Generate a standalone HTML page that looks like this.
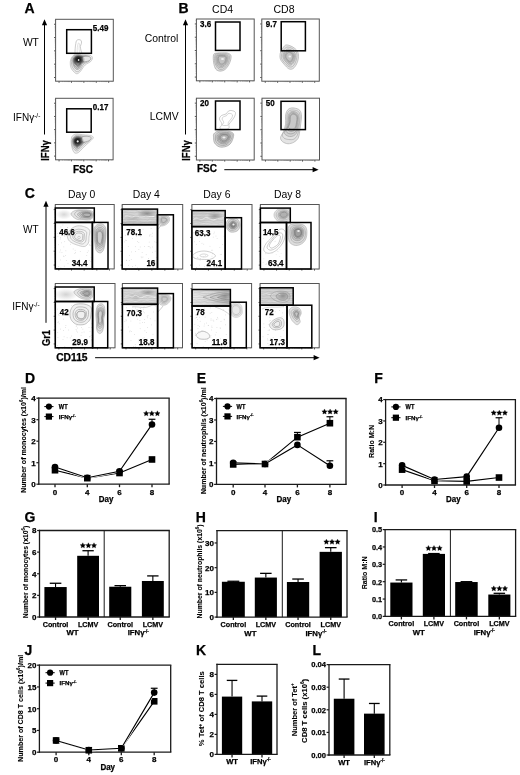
<!DOCTYPE html>
<html><head><meta charset="utf-8"><style>
html,body{margin:0;padding:0;background:#fff;}
body{width:520px;height:775px;overflow:hidden;}
svg{display:block;will-change:transform;}
svg text{font-family:"Liberation Sans",sans-serif;}
svg text[font-weight="bold"]{stroke:#000;stroke-width:0.25px;}
</style></head><body>
<svg width="520" height="775" viewBox="0 0 520 775">
<rect x="0" y="0" width="520" height="775" fill="#fff"/>
<text x="24.6" y="12.6" font-size="14" font-weight="bold" text-anchor="start" fill="#000">A</text>
<line x1="44.5" y1="24.2" x2="44.5" y2="134.5" stroke="#000" stroke-width="1"/>
<polygon points="44.5,19.2 41.9,25.2 47.1,25.2" fill="#000"/>
<text x="38.9" y="45.7" font-size="10.3" font-weight="normal" text-anchor="end" fill="#000">WT</text>
<text x="40.3" y="121.2" font-size="10" font-weight="normal" text-anchor="end" fill="#000">IFN&#947;<tspan font-size="6.5" dy="-3.6">-/-</tspan></text>
<text transform="translate(48.6,160.8) rotate(-90)" font-size="10" font-weight="bold" text-anchor="start" fill="#000" textLength="20.6" lengthAdjust="spacingAndGlyphs">IFN&#947;</text>
<line x1="54" y1="77.49" x2="55.6" y2="77.49" stroke="#444" stroke-width="0.9"/>
<line x1="54.7" y1="73.89" x2="55.6" y2="73.89" stroke="#999" stroke-width="0.5"/>
<line x1="54.7" y1="71.74" x2="55.6" y2="71.74" stroke="#999" stroke-width="0.5"/>
<line x1="54.7" y1="70.3" x2="55.6" y2="70.3" stroke="#999" stroke-width="0.5"/>
<line x1="54.7" y1="69.1" x2="55.6" y2="69.1" stroke="#999" stroke-width="0.5"/>
<line x1="54.7" y1="68.14" x2="55.6" y2="68.14" stroke="#999" stroke-width="0.5"/>
<line x1="54.7" y1="67.3" x2="55.6" y2="67.3" stroke="#999" stroke-width="0.5"/>
<line x1="54.7" y1="66.71" x2="55.6" y2="66.71" stroke="#999" stroke-width="0.5"/>
<line x1="54.7" y1="66.11" x2="55.6" y2="66.11" stroke="#999" stroke-width="0.5"/>
<line x1="54" y1="64.18" x2="55.6" y2="64.18" stroke="#444" stroke-width="0.9"/>
<line x1="54.7" y1="60.58" x2="55.6" y2="60.58" stroke="#999" stroke-width="0.5"/>
<line x1="54.7" y1="58.43" x2="55.6" y2="58.43" stroke="#999" stroke-width="0.5"/>
<line x1="54.7" y1="56.99" x2="55.6" y2="56.99" stroke="#999" stroke-width="0.5"/>
<line x1="54.7" y1="55.79" x2="55.6" y2="55.79" stroke="#999" stroke-width="0.5"/>
<line x1="54.7" y1="54.83" x2="55.6" y2="54.83" stroke="#999" stroke-width="0.5"/>
<line x1="54.7" y1="54" x2="55.6" y2="54" stroke="#999" stroke-width="0.5"/>
<line x1="54.7" y1="53.4" x2="55.6" y2="53.4" stroke="#999" stroke-width="0.5"/>
<line x1="54.7" y1="52.8" x2="55.6" y2="52.8" stroke="#999" stroke-width="0.5"/>
<line x1="54" y1="50.87" x2="55.6" y2="50.87" stroke="#444" stroke-width="0.9"/>
<line x1="54.7" y1="47.28" x2="55.6" y2="47.28" stroke="#999" stroke-width="0.5"/>
<line x1="54.7" y1="45.12" x2="55.6" y2="45.12" stroke="#999" stroke-width="0.5"/>
<line x1="54.7" y1="43.68" x2="55.6" y2="43.68" stroke="#999" stroke-width="0.5"/>
<line x1="54.7" y1="42.48" x2="55.6" y2="42.48" stroke="#999" stroke-width="0.5"/>
<line x1="54.7" y1="41.53" x2="55.6" y2="41.53" stroke="#999" stroke-width="0.5"/>
<line x1="54.7" y1="40.69" x2="55.6" y2="40.69" stroke="#999" stroke-width="0.5"/>
<line x1="54.7" y1="40.09" x2="55.6" y2="40.09" stroke="#999" stroke-width="0.5"/>
<line x1="54.7" y1="39.49" x2="55.6" y2="39.49" stroke="#999" stroke-width="0.5"/>
<line x1="54" y1="37.56" x2="55.6" y2="37.56" stroke="#444" stroke-width="0.9"/>
<line x1="54.7" y1="33.97" x2="55.6" y2="33.97" stroke="#999" stroke-width="0.5"/>
<line x1="54.7" y1="31.81" x2="55.6" y2="31.81" stroke="#999" stroke-width="0.5"/>
<line x1="54.7" y1="30.37" x2="55.6" y2="30.37" stroke="#999" stroke-width="0.5"/>
<line x1="54.7" y1="29.18" x2="55.6" y2="29.18" stroke="#999" stroke-width="0.5"/>
<line x1="54.7" y1="28.22" x2="55.6" y2="28.22" stroke="#999" stroke-width="0.5"/>
<line x1="54.7" y1="27.38" x2="55.6" y2="27.38" stroke="#999" stroke-width="0.5"/>
<line x1="54.7" y1="26.78" x2="55.6" y2="26.78" stroke="#999" stroke-width="0.5"/>
<line x1="54.7" y1="26.18" x2="55.6" y2="26.18" stroke="#999" stroke-width="0.5"/>
<line x1="54" y1="24.25" x2="55.6" y2="24.25" stroke="#444" stroke-width="0.9"/>
<line x1="54.7" y1="20.66" x2="55.6" y2="20.66" stroke="#999" stroke-width="0.5"/>
<line x1="59.06" y1="81.2" x2="59.06" y2="82.8" stroke="#444" stroke-width="0.9"/>
<line x1="62.41" y1="81.2" x2="62.41" y2="82.1" stroke="#999" stroke-width="0.5"/>
<line x1="64.42" y1="81.2" x2="64.42" y2="82.1" stroke="#999" stroke-width="0.5"/>
<line x1="65.76" y1="81.2" x2="65.76" y2="82.1" stroke="#999" stroke-width="0.5"/>
<line x1="66.88" y1="81.2" x2="66.88" y2="82.1" stroke="#999" stroke-width="0.5"/>
<line x1="67.77" y1="81.2" x2="67.77" y2="82.1" stroke="#999" stroke-width="0.5"/>
<line x1="68.55" y1="81.2" x2="68.55" y2="82.1" stroke="#999" stroke-width="0.5"/>
<line x1="69.11" y1="81.2" x2="69.11" y2="82.1" stroke="#999" stroke-width="0.5"/>
<line x1="69.67" y1="81.2" x2="69.67" y2="82.1" stroke="#999" stroke-width="0.5"/>
<line x1="71.47" y1="81.2" x2="71.47" y2="82.8" stroke="#444" stroke-width="0.9"/>
<line x1="74.82" y1="81.2" x2="74.82" y2="82.1" stroke="#999" stroke-width="0.5"/>
<line x1="76.83" y1="81.2" x2="76.83" y2="82.1" stroke="#999" stroke-width="0.5"/>
<line x1="78.17" y1="81.2" x2="78.17" y2="82.1" stroke="#999" stroke-width="0.5"/>
<line x1="79.28" y1="81.2" x2="79.28" y2="82.1" stroke="#999" stroke-width="0.5"/>
<line x1="80.18" y1="81.2" x2="80.18" y2="82.1" stroke="#999" stroke-width="0.5"/>
<line x1="80.96" y1="81.2" x2="80.96" y2="82.1" stroke="#999" stroke-width="0.5"/>
<line x1="81.52" y1="81.2" x2="81.52" y2="82.1" stroke="#999" stroke-width="0.5"/>
<line x1="82.07" y1="81.2" x2="82.07" y2="82.1" stroke="#999" stroke-width="0.5"/>
<line x1="83.87" y1="81.2" x2="83.87" y2="82.8" stroke="#444" stroke-width="0.9"/>
<line x1="87.22" y1="81.2" x2="87.22" y2="82.1" stroke="#999" stroke-width="0.5"/>
<line x1="89.23" y1="81.2" x2="89.23" y2="82.1" stroke="#999" stroke-width="0.5"/>
<line x1="90.57" y1="81.2" x2="90.57" y2="82.1" stroke="#999" stroke-width="0.5"/>
<line x1="91.69" y1="81.2" x2="91.69" y2="82.1" stroke="#999" stroke-width="0.5"/>
<line x1="92.58" y1="81.2" x2="92.58" y2="82.1" stroke="#999" stroke-width="0.5"/>
<line x1="93.36" y1="81.2" x2="93.36" y2="82.1" stroke="#999" stroke-width="0.5"/>
<line x1="93.92" y1="81.2" x2="93.92" y2="82.1" stroke="#999" stroke-width="0.5"/>
<line x1="94.48" y1="81.2" x2="94.48" y2="82.1" stroke="#999" stroke-width="0.5"/>
<line x1="96.28" y1="81.2" x2="96.28" y2="82.8" stroke="#444" stroke-width="0.9"/>
<line x1="99.63" y1="81.2" x2="99.63" y2="82.1" stroke="#999" stroke-width="0.5"/>
<line x1="101.64" y1="81.2" x2="101.64" y2="82.1" stroke="#999" stroke-width="0.5"/>
<line x1="102.98" y1="81.2" x2="102.98" y2="82.1" stroke="#999" stroke-width="0.5"/>
<line x1="104.09" y1="81.2" x2="104.09" y2="82.1" stroke="#999" stroke-width="0.5"/>
<line x1="104.99" y1="81.2" x2="104.99" y2="82.1" stroke="#999" stroke-width="0.5"/>
<line x1="105.77" y1="81.2" x2="105.77" y2="82.1" stroke="#999" stroke-width="0.5"/>
<line x1="106.33" y1="81.2" x2="106.33" y2="82.1" stroke="#999" stroke-width="0.5"/>
<line x1="106.89" y1="81.2" x2="106.89" y2="82.1" stroke="#999" stroke-width="0.5"/>
<line x1="108.68" y1="81.2" x2="108.68" y2="82.8" stroke="#444" stroke-width="0.9"/>
<line x1="112.03" y1="81.2" x2="112.03" y2="82.1" stroke="#999" stroke-width="0.5"/>
<rect x="55.6" y="19.3" width="57.7" height="61.9" stroke="#555" stroke-width="1" fill="none"/>
<line x1="54" y1="156.11" x2="55.6" y2="156.11" stroke="#444" stroke-width="0.9"/>
<line x1="54.7" y1="152.54" x2="55.6" y2="152.54" stroke="#999" stroke-width="0.5"/>
<line x1="54.7" y1="150.4" x2="55.6" y2="150.4" stroke="#999" stroke-width="0.5"/>
<line x1="54.7" y1="148.97" x2="55.6" y2="148.97" stroke="#999" stroke-width="0.5"/>
<line x1="54.7" y1="147.78" x2="55.6" y2="147.78" stroke="#999" stroke-width="0.5"/>
<line x1="54.7" y1="146.83" x2="55.6" y2="146.83" stroke="#999" stroke-width="0.5"/>
<line x1="54.7" y1="145.99" x2="55.6" y2="145.99" stroke="#999" stroke-width="0.5"/>
<line x1="54.7" y1="145.4" x2="55.6" y2="145.4" stroke="#999" stroke-width="0.5"/>
<line x1="54.7" y1="144.8" x2="55.6" y2="144.8" stroke="#999" stroke-width="0.5"/>
<line x1="54" y1="142.89" x2="55.6" y2="142.89" stroke="#444" stroke-width="0.9"/>
<line x1="54.7" y1="139.32" x2="55.6" y2="139.32" stroke="#999" stroke-width="0.5"/>
<line x1="54.7" y1="137.18" x2="55.6" y2="137.18" stroke="#999" stroke-width="0.5"/>
<line x1="54.7" y1="135.75" x2="55.6" y2="135.75" stroke="#999" stroke-width="0.5"/>
<line x1="54.7" y1="134.56" x2="55.6" y2="134.56" stroke="#999" stroke-width="0.5"/>
<line x1="54.7" y1="133.61" x2="55.6" y2="133.61" stroke="#999" stroke-width="0.5"/>
<line x1="54.7" y1="132.77" x2="55.6" y2="132.77" stroke="#999" stroke-width="0.5"/>
<line x1="54.7" y1="132.18" x2="55.6" y2="132.18" stroke="#999" stroke-width="0.5"/>
<line x1="54.7" y1="131.58" x2="55.6" y2="131.58" stroke="#999" stroke-width="0.5"/>
<line x1="54" y1="129.67" x2="55.6" y2="129.67" stroke="#444" stroke-width="0.9"/>
<line x1="54.7" y1="126.09" x2="55.6" y2="126.09" stroke="#999" stroke-width="0.5"/>
<line x1="54.7" y1="123.95" x2="55.6" y2="123.95" stroke="#999" stroke-width="0.5"/>
<line x1="54.7" y1="122.52" x2="55.6" y2="122.52" stroke="#999" stroke-width="0.5"/>
<line x1="54.7" y1="121.33" x2="55.6" y2="121.33" stroke="#999" stroke-width="0.5"/>
<line x1="54.7" y1="120.38" x2="55.6" y2="120.38" stroke="#999" stroke-width="0.5"/>
<line x1="54.7" y1="119.55" x2="55.6" y2="119.55" stroke="#999" stroke-width="0.5"/>
<line x1="54.7" y1="118.95" x2="55.6" y2="118.95" stroke="#999" stroke-width="0.5"/>
<line x1="54.7" y1="118.36" x2="55.6" y2="118.36" stroke="#999" stroke-width="0.5"/>
<line x1="54" y1="116.44" x2="55.6" y2="116.44" stroke="#444" stroke-width="0.9"/>
<line x1="54.7" y1="112.87" x2="55.6" y2="112.87" stroke="#999" stroke-width="0.5"/>
<line x1="54.7" y1="110.73" x2="55.6" y2="110.73" stroke="#999" stroke-width="0.5"/>
<line x1="54.7" y1="109.3" x2="55.6" y2="109.3" stroke="#999" stroke-width="0.5"/>
<line x1="54.7" y1="108.11" x2="55.6" y2="108.11" stroke="#999" stroke-width="0.5"/>
<line x1="54.7" y1="107.16" x2="55.6" y2="107.16" stroke="#999" stroke-width="0.5"/>
<line x1="54.7" y1="106.33" x2="55.6" y2="106.33" stroke="#999" stroke-width="0.5"/>
<line x1="54.7" y1="105.73" x2="55.6" y2="105.73" stroke="#999" stroke-width="0.5"/>
<line x1="54.7" y1="105.14" x2="55.6" y2="105.14" stroke="#999" stroke-width="0.5"/>
<line x1="54" y1="103.22" x2="55.6" y2="103.22" stroke="#444" stroke-width="0.9"/>
<line x1="54.7" y1="99.65" x2="55.6" y2="99.65" stroke="#999" stroke-width="0.5"/>
<line x1="59.05" y1="159.8" x2="59.05" y2="161.4" stroke="#444" stroke-width="0.9"/>
<line x1="62.39" y1="159.8" x2="62.39" y2="160.7" stroke="#999" stroke-width="0.5"/>
<line x1="64.39" y1="159.8" x2="64.39" y2="160.7" stroke="#999" stroke-width="0.5"/>
<line x1="65.73" y1="159.8" x2="65.73" y2="160.7" stroke="#999" stroke-width="0.5"/>
<line x1="66.84" y1="159.8" x2="66.84" y2="160.7" stroke="#999" stroke-width="0.5"/>
<line x1="67.73" y1="159.8" x2="67.73" y2="160.7" stroke="#999" stroke-width="0.5"/>
<line x1="68.51" y1="159.8" x2="68.51" y2="160.7" stroke="#999" stroke-width="0.5"/>
<line x1="69.06" y1="159.8" x2="69.06" y2="160.7" stroke="#999" stroke-width="0.5"/>
<line x1="69.62" y1="159.8" x2="69.62" y2="160.7" stroke="#999" stroke-width="0.5"/>
<line x1="71.41" y1="159.8" x2="71.41" y2="161.4" stroke="#444" stroke-width="0.9"/>
<line x1="74.75" y1="159.8" x2="74.75" y2="160.7" stroke="#999" stroke-width="0.5"/>
<line x1="76.75" y1="159.8" x2="76.75" y2="160.7" stroke="#999" stroke-width="0.5"/>
<line x1="78.09" y1="159.8" x2="78.09" y2="160.7" stroke="#999" stroke-width="0.5"/>
<line x1="79.2" y1="159.8" x2="79.2" y2="160.7" stroke="#999" stroke-width="0.5"/>
<line x1="80.09" y1="159.8" x2="80.09" y2="160.7" stroke="#999" stroke-width="0.5"/>
<line x1="80.87" y1="159.8" x2="80.87" y2="160.7" stroke="#999" stroke-width="0.5"/>
<line x1="81.43" y1="159.8" x2="81.43" y2="160.7" stroke="#999" stroke-width="0.5"/>
<line x1="81.98" y1="159.8" x2="81.98" y2="160.7" stroke="#999" stroke-width="0.5"/>
<line x1="83.78" y1="159.8" x2="83.78" y2="161.4" stroke="#444" stroke-width="0.9"/>
<line x1="87.11" y1="159.8" x2="87.11" y2="160.7" stroke="#999" stroke-width="0.5"/>
<line x1="89.12" y1="159.8" x2="89.12" y2="160.7" stroke="#999" stroke-width="0.5"/>
<line x1="90.45" y1="159.8" x2="90.45" y2="160.7" stroke="#999" stroke-width="0.5"/>
<line x1="91.56" y1="159.8" x2="91.56" y2="160.7" stroke="#999" stroke-width="0.5"/>
<line x1="92.45" y1="159.8" x2="92.45" y2="160.7" stroke="#999" stroke-width="0.5"/>
<line x1="93.23" y1="159.8" x2="93.23" y2="160.7" stroke="#999" stroke-width="0.5"/>
<line x1="93.79" y1="159.8" x2="93.79" y2="160.7" stroke="#999" stroke-width="0.5"/>
<line x1="94.34" y1="159.8" x2="94.34" y2="160.7" stroke="#999" stroke-width="0.5"/>
<line x1="96.14" y1="159.8" x2="96.14" y2="161.4" stroke="#444" stroke-width="0.9"/>
<line x1="99.48" y1="159.8" x2="99.48" y2="160.7" stroke="#999" stroke-width="0.5"/>
<line x1="101.48" y1="159.8" x2="101.48" y2="160.7" stroke="#999" stroke-width="0.5"/>
<line x1="102.81" y1="159.8" x2="102.81" y2="160.7" stroke="#999" stroke-width="0.5"/>
<line x1="103.93" y1="159.8" x2="103.93" y2="160.7" stroke="#999" stroke-width="0.5"/>
<line x1="104.82" y1="159.8" x2="104.82" y2="160.7" stroke="#999" stroke-width="0.5"/>
<line x1="105.59" y1="159.8" x2="105.59" y2="160.7" stroke="#999" stroke-width="0.5"/>
<line x1="106.15" y1="159.8" x2="106.15" y2="160.7" stroke="#999" stroke-width="0.5"/>
<line x1="106.71" y1="159.8" x2="106.71" y2="160.7" stroke="#999" stroke-width="0.5"/>
<line x1="108.5" y1="159.8" x2="108.5" y2="161.4" stroke="#444" stroke-width="0.9"/>
<line x1="111.84" y1="159.8" x2="111.84" y2="160.7" stroke="#999" stroke-width="0.5"/>
<rect x="55.6" y="98.3" width="57.5" height="61.5" stroke="#555" stroke-width="1" fill="none"/>
<path d="M75.6,53.5 C74.58,52.67 75.17,50.17 75.2,48.5 C75.23,46.83 75.57,44.82 75.8,43.5 C76.03,42.18 76.1,41.25 76.6,40.6 C77.1,39.95 78.03,39.6 78.8,39.6 C79.57,39.6 80.77,39.95 81.2,40.6 C81.63,41.25 81.55,42.52 81.4,43.5 C81.25,44.48 80.37,45.33 80.3,46.5 C80.23,47.67 80.83,49.33 81,50.5 C81.17,51.67 82.2,53 81.3,53.5 C80.4,54 76.62,54.33 75.6,53.5Z" stroke="#a8a8a8" stroke-width="0.6" fill="none"/>
<path d="M77.2,53 C77,49 77.5,45 78.3,43 C79.3,42.5 79.8,44 79.2,46.5 C78.8,49 79.4,51 79.6,53" stroke="#c8c8c8" stroke-width="0.5" fill="none"/>
<path d="M71.77,57.27 C72.61,55.99 73.66,54.77 75.23,54.35 C76.81,53.93 79.39,54.65 81.2,54.74 C83.01,54.83 84.54,54.76 86.1,54.88 C87.66,55.01 89.51,54.95 90.56,55.46 C91.62,55.98 92.42,57 92.45,58 C92.48,58.99 91.73,60.45 90.76,61.44 C89.79,62.42 87.8,63.05 86.63,63.9 C85.47,64.75 84.8,65.28 83.77,66.53 C82.74,67.77 81.56,70.16 80.47,71.36 C79.38,72.56 78.22,73.54 77.22,73.72 C76.22,73.89 75.49,73.3 74.48,72.39 C73.46,71.48 71.84,69.96 71.13,68.24 C70.42,66.51 70.11,63.86 70.22,62.04 C70.32,60.21 70.94,58.55 71.77,57.27Z" fill="#eeeeee" fill-opacity="1" stroke="none"/>
<path d="M73.64,57.69 C74.24,56.84 75.21,56.48 76.32,56.19 C77.42,55.91 79.05,56.01 80.26,56.01 C81.47,56.02 82.46,56.15 83.58,56.22 C84.7,56.3 86.16,56.07 86.96,56.44 C87.76,56.81 88.34,57.73 88.39,58.46 C88.44,59.19 87.95,60.14 87.26,60.8 C86.57,61.47 85.13,61.85 84.24,62.45 C83.36,63.06 82.66,63.5 81.94,64.42 C81.21,65.34 80.6,67.12 79.88,67.98 C79.16,68.84 78.34,69.44 77.62,69.58 C76.9,69.72 76.31,69.55 75.59,68.83 C74.87,68.12 73.79,66.54 73.31,65.29 C72.82,64.04 72.63,62.6 72.68,61.33 C72.74,60.07 73.03,58.55 73.64,57.69Z" fill="#cdcdcd" fill-opacity="0.9" stroke="none"/>
<path d="M74.82,58.17 C75.23,57.56 76.04,57.01 76.87,56.79 C77.7,56.56 78.94,56.77 79.79,56.82 C80.64,56.87 81.22,56.98 81.99,57.08 C82.76,57.17 83.87,57.13 84.41,57.39 C84.94,57.66 85.21,58.17 85.2,58.67 C85.2,59.16 84.84,59.87 84.38,60.34 C83.92,60.81 83.02,61.04 82.46,61.48 C81.9,61.91 81.5,62.27 81.01,62.92 C80.51,63.58 80.02,64.8 79.5,65.4 C78.98,65.99 78.4,66.44 77.89,66.5 C77.38,66.56 77,66.27 76.45,65.78 C75.91,65.29 74.99,64.46 74.64,63.58 C74.3,62.7 74.35,61.4 74.38,60.5 C74.41,59.59 74.4,58.79 74.82,58.17Z" fill="#a0a0a0" fill-opacity="0.9" stroke="none"/>
<path d="M71.77,57.27 C72.61,55.99 73.66,54.77 75.23,54.35 C76.81,53.93 79.39,54.65 81.2,54.74 C83.01,54.83 84.54,54.76 86.1,54.88 C87.66,55.01 89.51,54.95 90.56,55.46 C91.62,55.98 92.42,57 92.45,58 C92.48,58.99 91.73,60.45 90.76,61.44 C89.79,62.42 87.8,63.05 86.63,63.9 C85.47,64.75 84.8,65.28 83.77,66.53 C82.74,67.77 81.56,70.16 80.47,71.36 C79.38,72.56 78.22,73.54 77.22,73.72 C76.22,73.89 75.49,73.3 74.48,72.39 C73.46,71.48 71.84,69.96 71.13,68.24 C70.42,66.51 70.11,63.86 70.22,62.04 C70.32,60.21 70.94,58.55 71.77,57.27Z" fill="none" stroke="#afafaf" stroke-width="0.6"/>
<path d="M72.43,57.16 C73.17,56.06 74.48,55.46 75.83,55.2 C77.18,54.95 79.05,55.58 80.55,55.64 C82.04,55.7 83.47,55.46 84.83,55.56 C86.19,55.65 87.82,55.7 88.72,56.21 C89.62,56.71 90.2,57.76 90.23,58.61 C90.27,59.47 89.76,60.56 88.9,61.33 C88.05,62.09 86.09,62.54 85.09,63.19 C84.08,63.83 83.68,64.13 82.87,65.21 C82.07,66.29 81.13,68.61 80.25,69.69 C79.37,70.77 78.44,71.54 77.58,71.7 C76.72,71.85 75.95,71.45 75.07,70.63 C74.2,69.82 72.92,68.28 72.31,66.81 C71.69,65.33 71.37,63.4 71.39,61.79 C71.41,60.19 71.69,58.26 72.43,57.16Z" fill="none" stroke="#9e9e9e" stroke-width="0.6"/>
<path d="M73.64,57.69 C74.24,56.84 75.21,56.48 76.32,56.19 C77.42,55.91 79.05,56.01 80.26,56.01 C81.47,56.02 82.46,56.15 83.58,56.22 C84.7,56.3 86.16,56.07 86.96,56.44 C87.76,56.81 88.34,57.73 88.39,58.46 C88.44,59.19 87.95,60.14 87.26,60.8 C86.57,61.47 85.13,61.85 84.24,62.45 C83.36,63.06 82.66,63.5 81.94,64.42 C81.21,65.34 80.6,67.12 79.88,67.98 C79.16,68.84 78.34,69.44 77.62,69.58 C76.9,69.72 76.31,69.55 75.59,68.83 C74.87,68.12 73.79,66.54 73.31,65.29 C72.82,64.04 72.63,62.6 72.68,61.33 C72.74,60.07 73.03,58.55 73.64,57.69Z" fill="none" stroke="#8d8d8d" stroke-width="0.6"/>
<path d="M74.39,57.84 C74.91,57.1 75.78,56.6 76.7,56.37 C77.62,56.13 78.92,56.35 79.93,56.44 C80.94,56.53 81.83,56.8 82.74,56.89 C83.65,56.99 84.7,56.73 85.37,57.01 C86.03,57.28 86.72,57.94 86.76,58.57 C86.79,59.19 86.19,60.19 85.58,60.75 C84.97,61.31 83.84,61.47 83.11,61.93 C82.38,62.4 81.8,62.75 81.19,63.53 C80.58,64.31 80.05,65.83 79.46,66.6 C78.87,67.38 78.25,68.08 77.65,68.18 C77.05,68.29 76.48,67.85 75.85,67.21 C75.23,66.58 74.27,65.45 73.9,64.38 C73.52,63.31 73.5,61.88 73.58,60.79 C73.67,59.7 73.87,58.57 74.39,57.84Z" fill="none" stroke="#7c7c7c" stroke-width="0.6"/>
<path d="M74.82,58.17 C75.23,57.56 76.04,57.01 76.87,56.79 C77.7,56.56 78.94,56.77 79.79,56.82 C80.64,56.87 81.22,56.98 81.99,57.08 C82.76,57.17 83.87,57.13 84.41,57.39 C84.94,57.66 85.21,58.17 85.2,58.67 C85.2,59.16 84.84,59.87 84.38,60.34 C83.92,60.81 83.02,61.04 82.46,61.48 C81.9,61.91 81.5,62.27 81.01,62.92 C80.51,63.58 80.02,64.8 79.5,65.4 C78.98,65.99 78.4,66.44 77.89,66.5 C77.38,66.56 77,66.27 76.45,65.78 C75.91,65.29 74.99,64.46 74.64,63.58 C74.3,62.7 74.35,61.4 74.38,60.5 C74.41,59.59 74.4,58.79 74.82,58.17Z" fill="none" stroke="#6b6b6b" stroke-width="0.6"/>
<path d="M75.51,58.21 C75.87,57.69 76.49,57.32 77.17,57.14 C77.85,56.97 78.84,57.13 79.58,57.17 C80.31,57.21 80.96,57.31 81.58,57.38 C82.2,57.45 82.89,57.37 83.32,57.58 C83.74,57.79 84.12,58.22 84.14,58.63 C84.16,59.04 83.86,59.63 83.45,60.03 C83.03,60.43 82.15,60.65 81.66,61.03 C81.17,61.41 80.89,61.76 80.51,62.33 C80.13,62.9 79.79,63.92 79.36,64.42 C78.93,64.92 78.38,65.28 77.93,65.33 C77.49,65.38 77.11,65.14 76.68,64.74 C76.26,64.34 75.68,63.66 75.4,62.91 C75.12,62.17 74.98,61.05 75,60.27 C75.02,59.48 75.15,58.73 75.51,58.21Z" fill="none" stroke="#5a5a5a" stroke-width="0.6"/>
<path d="M82.5,57.3 C83,56.43 85.22,56.32 86.5,56.3 C87.78,56.28 89.53,56.67 90.2,57.2 C90.87,57.73 90.95,58.82 90.5,59.5 C90.05,60.18 88.67,60.97 87.5,61.3 C86.33,61.63 84.33,62.17 83.5,61.5 C82.67,60.83 82,58.17 82.5,57.3Z" stroke="#8a8a8a" stroke-width="0.6" fill="#e6e6e6"/>
<radialGradient id="g1"><stop offset="0" stop-color="#141414" stop-opacity="1"/><stop offset="1" stop-color="#141414" stop-opacity="0"/></radialGradient><ellipse cx="78.4" cy="59.6" rx="6.8" ry="5.8" transform="rotate(0 78.4 59.6)" fill="url(#g1)"/>
<radialGradient id="g2"><stop offset="0" stop-color="#000000" stop-opacity="0.95"/><stop offset="1" stop-color="#000000" stop-opacity="0"/></radialGradient><ellipse cx="78.4" cy="59.6" rx="4.2" ry="3.8" transform="rotate(0 78.4 59.6)" fill="url(#g2)"/>
<circle cx="78.6" cy="60.0" r="0.9" fill="#e0e0e0"/>
<path d="M71.84,136.76 C72.54,135.32 74.12,134.5 75.44,134.09 C76.75,133.69 78.1,134.19 79.74,134.34 C81.38,134.49 83.43,134.8 85.25,134.98 C87.07,135.16 89.31,135 90.66,135.43 C92,135.86 93.3,136.68 93.32,137.57 C93.35,138.45 91.97,139.57 90.8,140.76 C89.64,141.96 87.76,143.44 86.33,144.76 C84.89,146.08 83.47,147.42 82.2,148.68 C80.92,149.94 79.9,151.58 78.68,152.32 C77.46,153.05 75.93,153.59 74.89,153.08 C73.85,152.56 73.05,150.93 72.44,149.21 C71.83,147.49 71.33,144.83 71.23,142.75 C71.13,140.68 71.14,138.21 71.84,136.76Z" fill="#eeeeee" fill-opacity="1" stroke="none"/>
<path d="M73.86,138.31 C74.37,137.29 75.53,136.74 76.42,136.44 C77.31,136.14 78.17,136.45 79.21,136.51 C80.25,136.57 81.49,136.64 82.66,136.81 C83.83,136.98 85.34,137.19 86.25,137.53 C87.16,137.88 88.02,138.31 88.12,138.87 C88.21,139.43 87.59,140.16 86.81,140.9 C86.03,141.64 84.46,142.43 83.44,143.31 C82.42,144.18 81.58,145.25 80.7,146.16 C79.81,147.06 78.96,148.24 78.13,148.73 C77.31,149.22 76.46,149.49 75.75,149.12 C75.05,148.75 74.28,147.61 73.88,146.52 C73.48,145.44 73.36,143.96 73.35,142.59 C73.35,141.23 73.34,139.34 73.86,138.31Z" fill="#c8c8c8" fill-opacity="0.9" stroke="none"/>
<path d="M75.04,139.18 C75.38,138.52 75.96,138.18 76.58,137.99 C77.21,137.8 78.07,137.98 78.79,138.03 C79.5,138.08 80.1,138.18 80.88,138.3 C81.65,138.43 82.79,138.58 83.42,138.8 C84.05,139.02 84.59,139.25 84.65,139.63 C84.71,140.01 84.26,140.57 83.79,141.08 C83.31,141.6 82.51,142.12 81.81,142.69 C81.11,143.25 80.22,143.88 79.57,144.48 C78.93,145.08 78.46,145.93 77.94,146.29 C77.41,146.65 76.84,146.9 76.41,146.64 C75.98,146.38 75.66,145.51 75.35,144.73 C75.04,143.94 74.59,142.87 74.54,141.95 C74.49,141.02 74.7,139.84 75.04,139.18Z" fill="#969696" fill-opacity="0.9" stroke="none"/>
<path d="M71.84,136.76 C72.54,135.32 74.12,134.5 75.44,134.09 C76.75,133.69 78.1,134.19 79.74,134.34 C81.38,134.49 83.43,134.8 85.25,134.98 C87.07,135.16 89.31,135 90.66,135.43 C92,135.86 93.3,136.68 93.32,137.57 C93.35,138.45 91.97,139.57 90.8,140.76 C89.64,141.96 87.76,143.44 86.33,144.76 C84.89,146.08 83.47,147.42 82.2,148.68 C80.92,149.94 79.9,151.58 78.68,152.32 C77.46,153.05 75.93,153.59 74.89,153.08 C73.85,152.56 73.05,150.93 72.44,149.21 C71.83,147.49 71.33,144.83 71.23,142.75 C71.13,140.68 71.14,138.21 71.84,136.76Z" fill="none" stroke="#afafaf" stroke-width="0.6"/>
<path d="M73.08,137.84 C73.71,136.62 74.82,135.79 75.9,135.38 C76.98,134.98 78.24,135.3 79.57,135.42 C80.91,135.55 82.46,135.95 83.9,136.13 C85.34,136.31 87.09,136.14 88.22,136.51 C89.35,136.88 90.6,137.58 90.69,138.37 C90.79,139.15 89.76,140.29 88.79,141.21 C87.83,142.12 86.17,142.87 84.92,143.86 C83.67,144.85 82.4,146.07 81.27,147.15 C80.15,148.24 79.13,149.79 78.19,150.37 C77.25,150.95 76.5,151.1 75.64,150.65 C74.78,150.2 73.64,148.98 73.05,147.66 C72.46,146.33 72.09,144.33 72.1,142.69 C72.1,141.06 72.44,139.06 73.08,137.84Z" fill="none" stroke="#9e9e9e" stroke-width="0.6"/>
<path d="M73.86,138.31 C74.37,137.29 75.53,136.74 76.42,136.44 C77.31,136.14 78.17,136.45 79.21,136.51 C80.25,136.57 81.49,136.64 82.66,136.81 C83.83,136.98 85.34,137.19 86.25,137.53 C87.16,137.88 88.02,138.31 88.12,138.87 C88.21,139.43 87.59,140.16 86.81,140.9 C86.03,141.64 84.46,142.43 83.44,143.31 C82.42,144.18 81.58,145.25 80.7,146.16 C79.81,147.06 78.96,148.24 78.13,148.73 C77.31,149.22 76.46,149.49 75.75,149.12 C75.05,148.75 74.28,147.61 73.88,146.52 C73.48,145.44 73.36,143.96 73.35,142.59 C73.35,141.23 73.34,139.34 73.86,138.31Z" fill="none" stroke="#8d8d8d" stroke-width="0.6"/>
<path d="M74.63,139.04 C75,138.23 75.58,137.57 76.33,137.33 C77.08,137.08 78.23,137.46 79.12,137.54 C80.02,137.62 80.75,137.71 81.7,137.82 C82.64,137.93 84.04,137.99 84.8,138.22 C85.55,138.44 86.2,138.71 86.23,139.17 C86.27,139.63 85.63,140.3 85.01,140.97 C84.39,141.64 83.35,142.49 82.51,143.17 C81.68,143.85 80.77,144.37 80.02,145.06 C79.26,145.75 78.61,146.89 77.99,147.32 C77.37,147.75 76.86,147.99 76.31,147.66 C75.75,147.34 75.01,146.28 74.65,145.37 C74.3,144.45 74.17,143.22 74.17,142.17 C74.16,141.11 74.27,139.84 74.63,139.04Z" fill="none" stroke="#7c7c7c" stroke-width="0.6"/>
<path d="M75.04,139.18 C75.38,138.52 75.96,138.18 76.58,137.99 C77.21,137.8 78.07,137.98 78.79,138.03 C79.5,138.08 80.1,138.18 80.88,138.3 C81.65,138.43 82.79,138.58 83.42,138.8 C84.05,139.02 84.59,139.25 84.65,139.63 C84.71,140.01 84.26,140.57 83.79,141.08 C83.31,141.6 82.51,142.12 81.81,142.69 C81.11,143.25 80.22,143.88 79.57,144.48 C78.93,145.08 78.46,145.93 77.94,146.29 C77.41,146.65 76.84,146.9 76.41,146.64 C75.98,146.38 75.66,145.51 75.35,144.73 C75.04,143.94 74.59,142.87 74.54,141.95 C74.49,141.02 74.7,139.84 75.04,139.18Z" fill="none" stroke="#6b6b6b" stroke-width="0.6"/>
<path d="M75.53,139.58 C75.79,139.05 76.33,138.89 76.82,138.72 C77.32,138.56 77.86,138.56 78.47,138.58 C79.09,138.6 79.82,138.75 80.5,138.84 C81.18,138.93 82.04,138.92 82.55,139.1 C83.07,139.28 83.55,139.59 83.57,139.94 C83.6,140.28 83.13,140.78 82.7,141.18 C82.26,141.58 81.54,141.86 80.96,142.33 C80.38,142.8 79.71,143.46 79.23,143.99 C78.75,144.51 78.51,145.21 78.09,145.48 C77.66,145.75 77.05,145.84 76.66,145.61 C76.28,145.38 75.99,144.75 75.76,144.12 C75.54,143.5 75.33,142.63 75.29,141.87 C75.25,141.12 75.27,140.1 75.53,139.58Z" fill="none" stroke="#5a5a5a" stroke-width="0.6"/>
<path d="M82,137.2 C82.67,136.33 85,136.3 86.5,136.3 C88,136.3 90.38,136.62 91,137.2 C91.62,137.78 91.03,139.03 90.2,139.8 C89.37,140.57 87.28,141.52 86,141.8 C84.72,142.08 83.17,142.27 82.5,141.5 C81.83,140.73 81.33,138.07 82,137.2Z" stroke="#8a8a8a" stroke-width="0.55" fill="#e2e2e2"/>
<radialGradient id="g3"><stop offset="0" stop-color="#141414" stop-opacity="1"/><stop offset="1" stop-color="#141414" stop-opacity="0"/></radialGradient><ellipse cx="77.6" cy="141.2" rx="6.6" ry="6" transform="rotate(0 77.6 141.2)" fill="url(#g3)"/>
<radialGradient id="g4"><stop offset="0" stop-color="#000000" stop-opacity="0.9"/><stop offset="1" stop-color="#000000" stop-opacity="0"/></radialGradient><ellipse cx="77.6" cy="141.2" rx="4" ry="3.8" transform="rotate(0 77.6 141.2)" fill="url(#g4)"/>
<circle cx="77.7" cy="141.4" r="1.1" fill="#e8e8e8"/>
<rect x="66.7" y="29.7" width="24.7" height="23.6" stroke="#000" stroke-width="1.5" fill="none"/>
<rect x="66.7" y="108.8" width="24.5" height="23.4" stroke="#000" stroke-width="1.5" fill="none"/>
<text x="92.8" y="31.4" font-size="9" font-weight="bold" text-anchor="start" fill="#000" textLength="15.57" lengthAdjust="spacingAndGlyphs">5.49</text>
<text x="92.8" y="110.2" font-size="9" font-weight="bold" text-anchor="start" fill="#000" textLength="15.57" lengthAdjust="spacingAndGlyphs">0.17</text>
<text x="73" y="172.6" font-size="10" font-weight="bold" text-anchor="start" fill="#000">FSC</text>
<text x="178.6" y="12.6" font-size="14" font-weight="bold" text-anchor="start" fill="#000">B</text>
<line x1="185.5" y1="24.2" x2="185.5" y2="134.5" stroke="#000" stroke-width="1"/>
<polygon points="185.5,19.2 182.9,25.2 188.1,25.2" fill="#000"/>
<text x="222.6" y="12.8" font-size="10.5" font-weight="normal" text-anchor="middle" fill="#000">CD4</text>
<text x="284" y="12.8" font-size="10.5" font-weight="normal" text-anchor="middle" fill="#000">CD8</text>
<text x="178.3" y="41.9" font-size="10.4" font-weight="normal" text-anchor="end" fill="#000">Control</text>
<text x="178.6" y="119.7" font-size="10.4" font-weight="normal" text-anchor="end" fill="#000">LCMV</text>
<text transform="translate(190,160.8) rotate(-90)" font-size="10" font-weight="bold" text-anchor="start" fill="#000" textLength="20.6" lengthAdjust="spacingAndGlyphs">IFN&#947;</text>
<line x1="194.8" y1="77.09" x2="196.4" y2="77.09" stroke="#444" stroke-width="0.9"/>
<line x1="195.5" y1="73.5" x2="196.4" y2="73.5" stroke="#999" stroke-width="0.5"/>
<line x1="195.5" y1="71.35" x2="196.4" y2="71.35" stroke="#999" stroke-width="0.5"/>
<line x1="195.5" y1="69.92" x2="196.4" y2="69.92" stroke="#999" stroke-width="0.5"/>
<line x1="195.5" y1="68.72" x2="196.4" y2="68.72" stroke="#999" stroke-width="0.5"/>
<line x1="195.5" y1="67.76" x2="196.4" y2="67.76" stroke="#999" stroke-width="0.5"/>
<line x1="195.5" y1="66.93" x2="196.4" y2="66.93" stroke="#999" stroke-width="0.5"/>
<line x1="195.5" y1="66.33" x2="196.4" y2="66.33" stroke="#999" stroke-width="0.5"/>
<line x1="195.5" y1="65.73" x2="196.4" y2="65.73" stroke="#999" stroke-width="0.5"/>
<line x1="194.8" y1="63.8" x2="196.4" y2="63.8" stroke="#444" stroke-width="0.9"/>
<line x1="195.5" y1="60.22" x2="196.4" y2="60.22" stroke="#999" stroke-width="0.5"/>
<line x1="195.5" y1="58.07" x2="196.4" y2="58.07" stroke="#999" stroke-width="0.5"/>
<line x1="195.5" y1="56.63" x2="196.4" y2="56.63" stroke="#999" stroke-width="0.5"/>
<line x1="195.5" y1="55.43" x2="196.4" y2="55.43" stroke="#999" stroke-width="0.5"/>
<line x1="195.5" y1="54.48" x2="196.4" y2="54.48" stroke="#999" stroke-width="0.5"/>
<line x1="195.5" y1="53.64" x2="196.4" y2="53.64" stroke="#999" stroke-width="0.5"/>
<line x1="195.5" y1="53.04" x2="196.4" y2="53.04" stroke="#999" stroke-width="0.5"/>
<line x1="195.5" y1="52.44" x2="196.4" y2="52.44" stroke="#999" stroke-width="0.5"/>
<line x1="194.8" y1="50.52" x2="196.4" y2="50.52" stroke="#444" stroke-width="0.9"/>
<line x1="195.5" y1="46.93" x2="196.4" y2="46.93" stroke="#999" stroke-width="0.5"/>
<line x1="195.5" y1="44.78" x2="196.4" y2="44.78" stroke="#999" stroke-width="0.5"/>
<line x1="195.5" y1="43.34" x2="196.4" y2="43.34" stroke="#999" stroke-width="0.5"/>
<line x1="195.5" y1="42.15" x2="196.4" y2="42.15" stroke="#999" stroke-width="0.5"/>
<line x1="195.5" y1="41.19" x2="196.4" y2="41.19" stroke="#999" stroke-width="0.5"/>
<line x1="195.5" y1="40.35" x2="196.4" y2="40.35" stroke="#999" stroke-width="0.5"/>
<line x1="195.5" y1="39.76" x2="196.4" y2="39.76" stroke="#999" stroke-width="0.5"/>
<line x1="195.5" y1="39.16" x2="196.4" y2="39.16" stroke="#999" stroke-width="0.5"/>
<line x1="194.8" y1="37.23" x2="196.4" y2="37.23" stroke="#444" stroke-width="0.9"/>
<line x1="195.5" y1="33.64" x2="196.4" y2="33.64" stroke="#999" stroke-width="0.5"/>
<line x1="195.5" y1="31.49" x2="196.4" y2="31.49" stroke="#999" stroke-width="0.5"/>
<line x1="195.5" y1="30.06" x2="196.4" y2="30.06" stroke="#999" stroke-width="0.5"/>
<line x1="195.5" y1="28.86" x2="196.4" y2="28.86" stroke="#999" stroke-width="0.5"/>
<line x1="195.5" y1="27.9" x2="196.4" y2="27.9" stroke="#999" stroke-width="0.5"/>
<line x1="195.5" y1="27.07" x2="196.4" y2="27.07" stroke="#999" stroke-width="0.5"/>
<line x1="195.5" y1="26.47" x2="196.4" y2="26.47" stroke="#999" stroke-width="0.5"/>
<line x1="195.5" y1="25.87" x2="196.4" y2="25.87" stroke="#999" stroke-width="0.5"/>
<line x1="194.8" y1="23.94" x2="196.4" y2="23.94" stroke="#444" stroke-width="0.9"/>
<line x1="195.5" y1="20.36" x2="196.4" y2="20.36" stroke="#999" stroke-width="0.5"/>
<line x1="199.87" y1="80.8" x2="199.87" y2="82.4" stroke="#444" stroke-width="0.9"/>
<line x1="203.22" y1="80.8" x2="203.22" y2="81.7" stroke="#999" stroke-width="0.5"/>
<line x1="205.24" y1="80.8" x2="205.24" y2="81.7" stroke="#999" stroke-width="0.5"/>
<line x1="206.58" y1="80.8" x2="206.58" y2="81.7" stroke="#999" stroke-width="0.5"/>
<line x1="207.7" y1="80.8" x2="207.7" y2="81.7" stroke="#999" stroke-width="0.5"/>
<line x1="208.59" y1="80.8" x2="208.59" y2="81.7" stroke="#999" stroke-width="0.5"/>
<line x1="209.37" y1="80.8" x2="209.37" y2="81.7" stroke="#999" stroke-width="0.5"/>
<line x1="209.93" y1="80.8" x2="209.93" y2="81.7" stroke="#999" stroke-width="0.5"/>
<line x1="210.49" y1="80.8" x2="210.49" y2="81.7" stroke="#999" stroke-width="0.5"/>
<line x1="212.3" y1="80.8" x2="212.3" y2="82.4" stroke="#444" stroke-width="0.9"/>
<line x1="215.65" y1="80.8" x2="215.65" y2="81.7" stroke="#999" stroke-width="0.5"/>
<line x1="217.66" y1="80.8" x2="217.66" y2="81.7" stroke="#999" stroke-width="0.5"/>
<line x1="219.01" y1="80.8" x2="219.01" y2="81.7" stroke="#999" stroke-width="0.5"/>
<line x1="220.12" y1="80.8" x2="220.12" y2="81.7" stroke="#999" stroke-width="0.5"/>
<line x1="221.02" y1="80.8" x2="221.02" y2="81.7" stroke="#999" stroke-width="0.5"/>
<line x1="221.8" y1="80.8" x2="221.8" y2="81.7" stroke="#999" stroke-width="0.5"/>
<line x1="222.36" y1="80.8" x2="222.36" y2="81.7" stroke="#999" stroke-width="0.5"/>
<line x1="222.92" y1="80.8" x2="222.92" y2="81.7" stroke="#999" stroke-width="0.5"/>
<line x1="224.72" y1="80.8" x2="224.72" y2="82.4" stroke="#444" stroke-width="0.9"/>
<line x1="228.08" y1="80.8" x2="228.08" y2="81.7" stroke="#999" stroke-width="0.5"/>
<line x1="230.09" y1="80.8" x2="230.09" y2="81.7" stroke="#999" stroke-width="0.5"/>
<line x1="231.43" y1="80.8" x2="231.43" y2="81.7" stroke="#999" stroke-width="0.5"/>
<line x1="232.55" y1="80.8" x2="232.55" y2="81.7" stroke="#999" stroke-width="0.5"/>
<line x1="233.45" y1="80.8" x2="233.45" y2="81.7" stroke="#999" stroke-width="0.5"/>
<line x1="234.23" y1="80.8" x2="234.23" y2="81.7" stroke="#999" stroke-width="0.5"/>
<line x1="234.79" y1="80.8" x2="234.79" y2="81.7" stroke="#999" stroke-width="0.5"/>
<line x1="235.35" y1="80.8" x2="235.35" y2="81.7" stroke="#999" stroke-width="0.5"/>
<line x1="237.15" y1="80.8" x2="237.15" y2="82.4" stroke="#444" stroke-width="0.9"/>
<line x1="240.5" y1="80.8" x2="240.5" y2="81.7" stroke="#999" stroke-width="0.5"/>
<line x1="242.52" y1="80.8" x2="242.52" y2="81.7" stroke="#999" stroke-width="0.5"/>
<line x1="243.86" y1="80.8" x2="243.86" y2="81.7" stroke="#999" stroke-width="0.5"/>
<line x1="244.98" y1="80.8" x2="244.98" y2="81.7" stroke="#999" stroke-width="0.5"/>
<line x1="245.87" y1="80.8" x2="245.87" y2="81.7" stroke="#999" stroke-width="0.5"/>
<line x1="246.66" y1="80.8" x2="246.66" y2="81.7" stroke="#999" stroke-width="0.5"/>
<line x1="247.21" y1="80.8" x2="247.21" y2="81.7" stroke="#999" stroke-width="0.5"/>
<line x1="247.77" y1="80.8" x2="247.77" y2="81.7" stroke="#999" stroke-width="0.5"/>
<line x1="249.58" y1="80.8" x2="249.58" y2="82.4" stroke="#444" stroke-width="0.9"/>
<line x1="252.93" y1="80.8" x2="252.93" y2="81.7" stroke="#999" stroke-width="0.5"/>
<rect x="196.4" y="19" width="57.8" height="61.8" stroke="#555" stroke-width="1" fill="none"/>
<line x1="260.2" y1="77.47" x2="261.8" y2="77.47" stroke="#444" stroke-width="0.9"/>
<line x1="260.9" y1="73.86" x2="261.8" y2="73.86" stroke="#999" stroke-width="0.5"/>
<line x1="260.9" y1="71.69" x2="261.8" y2="71.69" stroke="#999" stroke-width="0.5"/>
<line x1="260.9" y1="70.25" x2="261.8" y2="70.25" stroke="#999" stroke-width="0.5"/>
<line x1="260.9" y1="69.04" x2="261.8" y2="69.04" stroke="#999" stroke-width="0.5"/>
<line x1="260.9" y1="68.08" x2="261.8" y2="68.08" stroke="#999" stroke-width="0.5"/>
<line x1="260.9" y1="67.24" x2="261.8" y2="67.24" stroke="#999" stroke-width="0.5"/>
<line x1="260.9" y1="66.64" x2="261.8" y2="66.64" stroke="#999" stroke-width="0.5"/>
<line x1="260.9" y1="66.03" x2="261.8" y2="66.03" stroke="#999" stroke-width="0.5"/>
<line x1="260.2" y1="64.09" x2="261.8" y2="64.09" stroke="#444" stroke-width="0.9"/>
<line x1="260.9" y1="60.48" x2="261.8" y2="60.48" stroke="#999" stroke-width="0.5"/>
<line x1="260.9" y1="58.32" x2="261.8" y2="58.32" stroke="#999" stroke-width="0.5"/>
<line x1="260.9" y1="56.87" x2="261.8" y2="56.87" stroke="#999" stroke-width="0.5"/>
<line x1="260.9" y1="55.67" x2="261.8" y2="55.67" stroke="#999" stroke-width="0.5"/>
<line x1="260.9" y1="54.71" x2="261.8" y2="54.71" stroke="#999" stroke-width="0.5"/>
<line x1="260.9" y1="53.86" x2="261.8" y2="53.86" stroke="#999" stroke-width="0.5"/>
<line x1="260.9" y1="53.26" x2="261.8" y2="53.26" stroke="#999" stroke-width="0.5"/>
<line x1="260.9" y1="52.66" x2="261.8" y2="52.66" stroke="#999" stroke-width="0.5"/>
<line x1="260.2" y1="50.72" x2="261.8" y2="50.72" stroke="#444" stroke-width="0.9"/>
<line x1="260.9" y1="47.11" x2="261.8" y2="47.11" stroke="#999" stroke-width="0.5"/>
<line x1="260.9" y1="44.94" x2="261.8" y2="44.94" stroke="#999" stroke-width="0.5"/>
<line x1="260.9" y1="43.5" x2="261.8" y2="43.5" stroke="#999" stroke-width="0.5"/>
<line x1="260.9" y1="42.3" x2="261.8" y2="42.3" stroke="#999" stroke-width="0.5"/>
<line x1="260.9" y1="41.33" x2="261.8" y2="41.33" stroke="#999" stroke-width="0.5"/>
<line x1="260.9" y1="40.49" x2="261.8" y2="40.49" stroke="#999" stroke-width="0.5"/>
<line x1="260.9" y1="39.89" x2="261.8" y2="39.89" stroke="#999" stroke-width="0.5"/>
<line x1="260.9" y1="39.29" x2="261.8" y2="39.29" stroke="#999" stroke-width="0.5"/>
<line x1="260.2" y1="37.35" x2="261.8" y2="37.35" stroke="#444" stroke-width="0.9"/>
<line x1="260.9" y1="33.74" x2="261.8" y2="33.74" stroke="#999" stroke-width="0.5"/>
<line x1="260.9" y1="31.57" x2="261.8" y2="31.57" stroke="#999" stroke-width="0.5"/>
<line x1="260.9" y1="30.13" x2="261.8" y2="30.13" stroke="#999" stroke-width="0.5"/>
<line x1="260.9" y1="28.92" x2="261.8" y2="28.92" stroke="#999" stroke-width="0.5"/>
<line x1="260.9" y1="27.96" x2="261.8" y2="27.96" stroke="#999" stroke-width="0.5"/>
<line x1="260.9" y1="27.12" x2="261.8" y2="27.12" stroke="#999" stroke-width="0.5"/>
<line x1="260.9" y1="26.52" x2="261.8" y2="26.52" stroke="#999" stroke-width="0.5"/>
<line x1="260.9" y1="25.92" x2="261.8" y2="25.92" stroke="#999" stroke-width="0.5"/>
<line x1="260.2" y1="23.98" x2="261.8" y2="23.98" stroke="#444" stroke-width="0.9"/>
<line x1="260.9" y1="20.37" x2="261.8" y2="20.37" stroke="#999" stroke-width="0.5"/>
<line x1="265.25" y1="81.2" x2="265.25" y2="82.8" stroke="#444" stroke-width="0.9"/>
<line x1="268.59" y1="81.2" x2="268.59" y2="82.1" stroke="#999" stroke-width="0.5"/>
<line x1="270.59" y1="81.2" x2="270.59" y2="82.1" stroke="#999" stroke-width="0.5"/>
<line x1="271.93" y1="81.2" x2="271.93" y2="82.1" stroke="#999" stroke-width="0.5"/>
<line x1="273.04" y1="81.2" x2="273.04" y2="82.1" stroke="#999" stroke-width="0.5"/>
<line x1="273.93" y1="81.2" x2="273.93" y2="82.1" stroke="#999" stroke-width="0.5"/>
<line x1="274.71" y1="81.2" x2="274.71" y2="82.1" stroke="#999" stroke-width="0.5"/>
<line x1="275.26" y1="81.2" x2="275.26" y2="82.1" stroke="#999" stroke-width="0.5"/>
<line x1="275.82" y1="81.2" x2="275.82" y2="82.1" stroke="#999" stroke-width="0.5"/>
<line x1="277.61" y1="81.2" x2="277.61" y2="82.8" stroke="#444" stroke-width="0.9"/>
<line x1="280.95" y1="81.2" x2="280.95" y2="82.1" stroke="#999" stroke-width="0.5"/>
<line x1="282.95" y1="81.2" x2="282.95" y2="82.1" stroke="#999" stroke-width="0.5"/>
<line x1="284.29" y1="81.2" x2="284.29" y2="82.1" stroke="#999" stroke-width="0.5"/>
<line x1="285.4" y1="81.2" x2="285.4" y2="82.1" stroke="#999" stroke-width="0.5"/>
<line x1="286.29" y1="81.2" x2="286.29" y2="82.1" stroke="#999" stroke-width="0.5"/>
<line x1="287.07" y1="81.2" x2="287.07" y2="82.1" stroke="#999" stroke-width="0.5"/>
<line x1="287.63" y1="81.2" x2="287.63" y2="82.1" stroke="#999" stroke-width="0.5"/>
<line x1="288.18" y1="81.2" x2="288.18" y2="82.1" stroke="#999" stroke-width="0.5"/>
<line x1="289.98" y1="81.2" x2="289.98" y2="82.8" stroke="#444" stroke-width="0.9"/>
<line x1="293.31" y1="81.2" x2="293.31" y2="82.1" stroke="#999" stroke-width="0.5"/>
<line x1="295.32" y1="81.2" x2="295.32" y2="82.1" stroke="#999" stroke-width="0.5"/>
<line x1="296.65" y1="81.2" x2="296.65" y2="82.1" stroke="#999" stroke-width="0.5"/>
<line x1="297.76" y1="81.2" x2="297.76" y2="82.1" stroke="#999" stroke-width="0.5"/>
<line x1="298.65" y1="81.2" x2="298.65" y2="82.1" stroke="#999" stroke-width="0.5"/>
<line x1="299.43" y1="81.2" x2="299.43" y2="82.1" stroke="#999" stroke-width="0.5"/>
<line x1="299.99" y1="81.2" x2="299.99" y2="82.1" stroke="#999" stroke-width="0.5"/>
<line x1="300.54" y1="81.2" x2="300.54" y2="82.1" stroke="#999" stroke-width="0.5"/>
<line x1="302.34" y1="81.2" x2="302.34" y2="82.8" stroke="#444" stroke-width="0.9"/>
<line x1="305.68" y1="81.2" x2="305.68" y2="82.1" stroke="#999" stroke-width="0.5"/>
<line x1="307.68" y1="81.2" x2="307.68" y2="82.1" stroke="#999" stroke-width="0.5"/>
<line x1="309.01" y1="81.2" x2="309.01" y2="82.1" stroke="#999" stroke-width="0.5"/>
<line x1="310.13" y1="81.2" x2="310.13" y2="82.1" stroke="#999" stroke-width="0.5"/>
<line x1="311.02" y1="81.2" x2="311.02" y2="82.1" stroke="#999" stroke-width="0.5"/>
<line x1="311.79" y1="81.2" x2="311.79" y2="82.1" stroke="#999" stroke-width="0.5"/>
<line x1="312.35" y1="81.2" x2="312.35" y2="82.1" stroke="#999" stroke-width="0.5"/>
<line x1="312.91" y1="81.2" x2="312.91" y2="82.1" stroke="#999" stroke-width="0.5"/>
<line x1="314.7" y1="81.2" x2="314.7" y2="82.8" stroke="#444" stroke-width="0.9"/>
<line x1="318.04" y1="81.2" x2="318.04" y2="82.1" stroke="#999" stroke-width="0.5"/>
<rect x="261.8" y="19" width="57.5" height="62.2" stroke="#555" stroke-width="1" fill="none"/>
<line x1="194.8" y1="156.29" x2="196.4" y2="156.29" stroke="#444" stroke-width="0.9"/>
<line x1="195.5" y1="152.7" x2="196.4" y2="152.7" stroke="#999" stroke-width="0.5"/>
<line x1="195.5" y1="150.55" x2="196.4" y2="150.55" stroke="#999" stroke-width="0.5"/>
<line x1="195.5" y1="149.12" x2="196.4" y2="149.12" stroke="#999" stroke-width="0.5"/>
<line x1="195.5" y1="147.92" x2="196.4" y2="147.92" stroke="#999" stroke-width="0.5"/>
<line x1="195.5" y1="146.96" x2="196.4" y2="146.96" stroke="#999" stroke-width="0.5"/>
<line x1="195.5" y1="146.13" x2="196.4" y2="146.13" stroke="#999" stroke-width="0.5"/>
<line x1="195.5" y1="145.53" x2="196.4" y2="145.53" stroke="#999" stroke-width="0.5"/>
<line x1="195.5" y1="144.93" x2="196.4" y2="144.93" stroke="#999" stroke-width="0.5"/>
<line x1="194.8" y1="143" x2="196.4" y2="143" stroke="#444" stroke-width="0.9"/>
<line x1="195.5" y1="139.42" x2="196.4" y2="139.42" stroke="#999" stroke-width="0.5"/>
<line x1="195.5" y1="137.27" x2="196.4" y2="137.27" stroke="#999" stroke-width="0.5"/>
<line x1="195.5" y1="135.83" x2="196.4" y2="135.83" stroke="#999" stroke-width="0.5"/>
<line x1="195.5" y1="134.63" x2="196.4" y2="134.63" stroke="#999" stroke-width="0.5"/>
<line x1="195.5" y1="133.68" x2="196.4" y2="133.68" stroke="#999" stroke-width="0.5"/>
<line x1="195.5" y1="132.84" x2="196.4" y2="132.84" stroke="#999" stroke-width="0.5"/>
<line x1="195.5" y1="132.24" x2="196.4" y2="132.24" stroke="#999" stroke-width="0.5"/>
<line x1="195.5" y1="131.64" x2="196.4" y2="131.64" stroke="#999" stroke-width="0.5"/>
<line x1="194.8" y1="129.72" x2="196.4" y2="129.72" stroke="#444" stroke-width="0.9"/>
<line x1="195.5" y1="126.13" x2="196.4" y2="126.13" stroke="#999" stroke-width="0.5"/>
<line x1="195.5" y1="123.98" x2="196.4" y2="123.98" stroke="#999" stroke-width="0.5"/>
<line x1="195.5" y1="122.54" x2="196.4" y2="122.54" stroke="#999" stroke-width="0.5"/>
<line x1="195.5" y1="121.35" x2="196.4" y2="121.35" stroke="#999" stroke-width="0.5"/>
<line x1="195.5" y1="120.39" x2="196.4" y2="120.39" stroke="#999" stroke-width="0.5"/>
<line x1="195.5" y1="119.55" x2="196.4" y2="119.55" stroke="#999" stroke-width="0.5"/>
<line x1="195.5" y1="118.96" x2="196.4" y2="118.96" stroke="#999" stroke-width="0.5"/>
<line x1="195.5" y1="118.36" x2="196.4" y2="118.36" stroke="#999" stroke-width="0.5"/>
<line x1="194.8" y1="116.43" x2="196.4" y2="116.43" stroke="#444" stroke-width="0.9"/>
<line x1="195.5" y1="112.84" x2="196.4" y2="112.84" stroke="#999" stroke-width="0.5"/>
<line x1="195.5" y1="110.69" x2="196.4" y2="110.69" stroke="#999" stroke-width="0.5"/>
<line x1="195.5" y1="109.26" x2="196.4" y2="109.26" stroke="#999" stroke-width="0.5"/>
<line x1="195.5" y1="108.06" x2="196.4" y2="108.06" stroke="#999" stroke-width="0.5"/>
<line x1="195.5" y1="107.1" x2="196.4" y2="107.1" stroke="#999" stroke-width="0.5"/>
<line x1="195.5" y1="106.27" x2="196.4" y2="106.27" stroke="#999" stroke-width="0.5"/>
<line x1="195.5" y1="105.67" x2="196.4" y2="105.67" stroke="#999" stroke-width="0.5"/>
<line x1="195.5" y1="105.07" x2="196.4" y2="105.07" stroke="#999" stroke-width="0.5"/>
<line x1="194.8" y1="103.14" x2="196.4" y2="103.14" stroke="#444" stroke-width="0.9"/>
<line x1="195.5" y1="99.56" x2="196.4" y2="99.56" stroke="#999" stroke-width="0.5"/>
<line x1="199.87" y1="160" x2="199.87" y2="161.6" stroke="#444" stroke-width="0.9"/>
<line x1="203.22" y1="160" x2="203.22" y2="160.9" stroke="#999" stroke-width="0.5"/>
<line x1="205.24" y1="160" x2="205.24" y2="160.9" stroke="#999" stroke-width="0.5"/>
<line x1="206.58" y1="160" x2="206.58" y2="160.9" stroke="#999" stroke-width="0.5"/>
<line x1="207.7" y1="160" x2="207.7" y2="160.9" stroke="#999" stroke-width="0.5"/>
<line x1="208.59" y1="160" x2="208.59" y2="160.9" stroke="#999" stroke-width="0.5"/>
<line x1="209.37" y1="160" x2="209.37" y2="160.9" stroke="#999" stroke-width="0.5"/>
<line x1="209.93" y1="160" x2="209.93" y2="160.9" stroke="#999" stroke-width="0.5"/>
<line x1="210.49" y1="160" x2="210.49" y2="160.9" stroke="#999" stroke-width="0.5"/>
<line x1="212.3" y1="160" x2="212.3" y2="161.6" stroke="#444" stroke-width="0.9"/>
<line x1="215.65" y1="160" x2="215.65" y2="160.9" stroke="#999" stroke-width="0.5"/>
<line x1="217.66" y1="160" x2="217.66" y2="160.9" stroke="#999" stroke-width="0.5"/>
<line x1="219.01" y1="160" x2="219.01" y2="160.9" stroke="#999" stroke-width="0.5"/>
<line x1="220.12" y1="160" x2="220.12" y2="160.9" stroke="#999" stroke-width="0.5"/>
<line x1="221.02" y1="160" x2="221.02" y2="160.9" stroke="#999" stroke-width="0.5"/>
<line x1="221.8" y1="160" x2="221.8" y2="160.9" stroke="#999" stroke-width="0.5"/>
<line x1="222.36" y1="160" x2="222.36" y2="160.9" stroke="#999" stroke-width="0.5"/>
<line x1="222.92" y1="160" x2="222.92" y2="160.9" stroke="#999" stroke-width="0.5"/>
<line x1="224.72" y1="160" x2="224.72" y2="161.6" stroke="#444" stroke-width="0.9"/>
<line x1="228.08" y1="160" x2="228.08" y2="160.9" stroke="#999" stroke-width="0.5"/>
<line x1="230.09" y1="160" x2="230.09" y2="160.9" stroke="#999" stroke-width="0.5"/>
<line x1="231.43" y1="160" x2="231.43" y2="160.9" stroke="#999" stroke-width="0.5"/>
<line x1="232.55" y1="160" x2="232.55" y2="160.9" stroke="#999" stroke-width="0.5"/>
<line x1="233.45" y1="160" x2="233.45" y2="160.9" stroke="#999" stroke-width="0.5"/>
<line x1="234.23" y1="160" x2="234.23" y2="160.9" stroke="#999" stroke-width="0.5"/>
<line x1="234.79" y1="160" x2="234.79" y2="160.9" stroke="#999" stroke-width="0.5"/>
<line x1="235.35" y1="160" x2="235.35" y2="160.9" stroke="#999" stroke-width="0.5"/>
<line x1="237.15" y1="160" x2="237.15" y2="161.6" stroke="#444" stroke-width="0.9"/>
<line x1="240.5" y1="160" x2="240.5" y2="160.9" stroke="#999" stroke-width="0.5"/>
<line x1="242.52" y1="160" x2="242.52" y2="160.9" stroke="#999" stroke-width="0.5"/>
<line x1="243.86" y1="160" x2="243.86" y2="160.9" stroke="#999" stroke-width="0.5"/>
<line x1="244.98" y1="160" x2="244.98" y2="160.9" stroke="#999" stroke-width="0.5"/>
<line x1="245.87" y1="160" x2="245.87" y2="160.9" stroke="#999" stroke-width="0.5"/>
<line x1="246.66" y1="160" x2="246.66" y2="160.9" stroke="#999" stroke-width="0.5"/>
<line x1="247.21" y1="160" x2="247.21" y2="160.9" stroke="#999" stroke-width="0.5"/>
<line x1="247.77" y1="160" x2="247.77" y2="160.9" stroke="#999" stroke-width="0.5"/>
<line x1="249.58" y1="160" x2="249.58" y2="161.6" stroke="#444" stroke-width="0.9"/>
<line x1="252.93" y1="160" x2="252.93" y2="160.9" stroke="#999" stroke-width="0.5"/>
<rect x="196.4" y="98.2" width="57.8" height="61.8" stroke="#555" stroke-width="1" fill="none"/>
<line x1="260.4" y1="156.29" x2="262" y2="156.29" stroke="#444" stroke-width="0.9"/>
<line x1="261.1" y1="152.7" x2="262" y2="152.7" stroke="#999" stroke-width="0.5"/>
<line x1="261.1" y1="150.55" x2="262" y2="150.55" stroke="#999" stroke-width="0.5"/>
<line x1="261.1" y1="149.12" x2="262" y2="149.12" stroke="#999" stroke-width="0.5"/>
<line x1="261.1" y1="147.92" x2="262" y2="147.92" stroke="#999" stroke-width="0.5"/>
<line x1="261.1" y1="146.96" x2="262" y2="146.96" stroke="#999" stroke-width="0.5"/>
<line x1="261.1" y1="146.13" x2="262" y2="146.13" stroke="#999" stroke-width="0.5"/>
<line x1="261.1" y1="145.53" x2="262" y2="145.53" stroke="#999" stroke-width="0.5"/>
<line x1="261.1" y1="144.93" x2="262" y2="144.93" stroke="#999" stroke-width="0.5"/>
<line x1="260.4" y1="143" x2="262" y2="143" stroke="#444" stroke-width="0.9"/>
<line x1="261.1" y1="139.42" x2="262" y2="139.42" stroke="#999" stroke-width="0.5"/>
<line x1="261.1" y1="137.27" x2="262" y2="137.27" stroke="#999" stroke-width="0.5"/>
<line x1="261.1" y1="135.83" x2="262" y2="135.83" stroke="#999" stroke-width="0.5"/>
<line x1="261.1" y1="134.63" x2="262" y2="134.63" stroke="#999" stroke-width="0.5"/>
<line x1="261.1" y1="133.68" x2="262" y2="133.68" stroke="#999" stroke-width="0.5"/>
<line x1="261.1" y1="132.84" x2="262" y2="132.84" stroke="#999" stroke-width="0.5"/>
<line x1="261.1" y1="132.24" x2="262" y2="132.24" stroke="#999" stroke-width="0.5"/>
<line x1="261.1" y1="131.64" x2="262" y2="131.64" stroke="#999" stroke-width="0.5"/>
<line x1="260.4" y1="129.72" x2="262" y2="129.72" stroke="#444" stroke-width="0.9"/>
<line x1="261.1" y1="126.13" x2="262" y2="126.13" stroke="#999" stroke-width="0.5"/>
<line x1="261.1" y1="123.98" x2="262" y2="123.98" stroke="#999" stroke-width="0.5"/>
<line x1="261.1" y1="122.54" x2="262" y2="122.54" stroke="#999" stroke-width="0.5"/>
<line x1="261.1" y1="121.35" x2="262" y2="121.35" stroke="#999" stroke-width="0.5"/>
<line x1="261.1" y1="120.39" x2="262" y2="120.39" stroke="#999" stroke-width="0.5"/>
<line x1="261.1" y1="119.55" x2="262" y2="119.55" stroke="#999" stroke-width="0.5"/>
<line x1="261.1" y1="118.96" x2="262" y2="118.96" stroke="#999" stroke-width="0.5"/>
<line x1="261.1" y1="118.36" x2="262" y2="118.36" stroke="#999" stroke-width="0.5"/>
<line x1="260.4" y1="116.43" x2="262" y2="116.43" stroke="#444" stroke-width="0.9"/>
<line x1="261.1" y1="112.84" x2="262" y2="112.84" stroke="#999" stroke-width="0.5"/>
<line x1="261.1" y1="110.69" x2="262" y2="110.69" stroke="#999" stroke-width="0.5"/>
<line x1="261.1" y1="109.26" x2="262" y2="109.26" stroke="#999" stroke-width="0.5"/>
<line x1="261.1" y1="108.06" x2="262" y2="108.06" stroke="#999" stroke-width="0.5"/>
<line x1="261.1" y1="107.1" x2="262" y2="107.1" stroke="#999" stroke-width="0.5"/>
<line x1="261.1" y1="106.27" x2="262" y2="106.27" stroke="#999" stroke-width="0.5"/>
<line x1="261.1" y1="105.67" x2="262" y2="105.67" stroke="#999" stroke-width="0.5"/>
<line x1="261.1" y1="105.07" x2="262" y2="105.07" stroke="#999" stroke-width="0.5"/>
<line x1="260.4" y1="103.14" x2="262" y2="103.14" stroke="#444" stroke-width="0.9"/>
<line x1="261.1" y1="99.56" x2="262" y2="99.56" stroke="#999" stroke-width="0.5"/>
<line x1="265.45" y1="160" x2="265.45" y2="161.6" stroke="#444" stroke-width="0.9"/>
<line x1="268.79" y1="160" x2="268.79" y2="160.9" stroke="#999" stroke-width="0.5"/>
<line x1="270.79" y1="160" x2="270.79" y2="160.9" stroke="#999" stroke-width="0.5"/>
<line x1="272.13" y1="160" x2="272.13" y2="160.9" stroke="#999" stroke-width="0.5"/>
<line x1="273.24" y1="160" x2="273.24" y2="160.9" stroke="#999" stroke-width="0.5"/>
<line x1="274.13" y1="160" x2="274.13" y2="160.9" stroke="#999" stroke-width="0.5"/>
<line x1="274.91" y1="160" x2="274.91" y2="160.9" stroke="#999" stroke-width="0.5"/>
<line x1="275.46" y1="160" x2="275.46" y2="160.9" stroke="#999" stroke-width="0.5"/>
<line x1="276.02" y1="160" x2="276.02" y2="160.9" stroke="#999" stroke-width="0.5"/>
<line x1="277.81" y1="160" x2="277.81" y2="161.6" stroke="#444" stroke-width="0.9"/>
<line x1="281.15" y1="160" x2="281.15" y2="160.9" stroke="#999" stroke-width="0.5"/>
<line x1="283.15" y1="160" x2="283.15" y2="160.9" stroke="#999" stroke-width="0.5"/>
<line x1="284.49" y1="160" x2="284.49" y2="160.9" stroke="#999" stroke-width="0.5"/>
<line x1="285.6" y1="160" x2="285.6" y2="160.9" stroke="#999" stroke-width="0.5"/>
<line x1="286.49" y1="160" x2="286.49" y2="160.9" stroke="#999" stroke-width="0.5"/>
<line x1="287.27" y1="160" x2="287.27" y2="160.9" stroke="#999" stroke-width="0.5"/>
<line x1="287.83" y1="160" x2="287.83" y2="160.9" stroke="#999" stroke-width="0.5"/>
<line x1="288.38" y1="160" x2="288.38" y2="160.9" stroke="#999" stroke-width="0.5"/>
<line x1="290.18" y1="160" x2="290.18" y2="161.6" stroke="#444" stroke-width="0.9"/>
<line x1="293.51" y1="160" x2="293.51" y2="160.9" stroke="#999" stroke-width="0.5"/>
<line x1="295.52" y1="160" x2="295.52" y2="160.9" stroke="#999" stroke-width="0.5"/>
<line x1="296.85" y1="160" x2="296.85" y2="160.9" stroke="#999" stroke-width="0.5"/>
<line x1="297.96" y1="160" x2="297.96" y2="160.9" stroke="#999" stroke-width="0.5"/>
<line x1="298.85" y1="160" x2="298.85" y2="160.9" stroke="#999" stroke-width="0.5"/>
<line x1="299.63" y1="160" x2="299.63" y2="160.9" stroke="#999" stroke-width="0.5"/>
<line x1="300.19" y1="160" x2="300.19" y2="160.9" stroke="#999" stroke-width="0.5"/>
<line x1="300.74" y1="160" x2="300.74" y2="160.9" stroke="#999" stroke-width="0.5"/>
<line x1="302.54" y1="160" x2="302.54" y2="161.6" stroke="#444" stroke-width="0.9"/>
<line x1="305.88" y1="160" x2="305.88" y2="160.9" stroke="#999" stroke-width="0.5"/>
<line x1="307.88" y1="160" x2="307.88" y2="160.9" stroke="#999" stroke-width="0.5"/>
<line x1="309.21" y1="160" x2="309.21" y2="160.9" stroke="#999" stroke-width="0.5"/>
<line x1="310.33" y1="160" x2="310.33" y2="160.9" stroke="#999" stroke-width="0.5"/>
<line x1="311.22" y1="160" x2="311.22" y2="160.9" stroke="#999" stroke-width="0.5"/>
<line x1="311.99" y1="160" x2="311.99" y2="160.9" stroke="#999" stroke-width="0.5"/>
<line x1="312.55" y1="160" x2="312.55" y2="160.9" stroke="#999" stroke-width="0.5"/>
<line x1="313.11" y1="160" x2="313.11" y2="160.9" stroke="#999" stroke-width="0.5"/>
<line x1="314.9" y1="160" x2="314.9" y2="161.6" stroke="#444" stroke-width="0.9"/>
<line x1="318.24" y1="160" x2="318.24" y2="160.9" stroke="#999" stroke-width="0.5"/>
<rect x="262" y="98.2" width="57.5" height="61.8" stroke="#555" stroke-width="1" fill="none"/>
<path d="M213.57,54.65 C214.16,53.02 215.75,53.36 217.18,53.07 C218.61,52.77 220.47,52.87 222.14,52.85 C223.82,52.84 225.78,52.61 227.22,52.98 C228.65,53.35 230.18,53.96 230.77,55.09 C231.35,56.22 231.12,58.06 230.74,59.77 C230.36,61.48 229.43,63.72 228.48,65.35 C227.53,66.98 226.41,68.58 225.03,69.54 C223.65,70.51 221.73,71.18 220.21,71.13 C218.68,71.08 216.96,70.64 215.87,69.25 C214.78,67.86 214.04,65.23 213.66,62.8 C213.28,60.36 212.99,56.27 213.57,54.65Z" fill="#dedede" fill-opacity="1" stroke="none"/>
<path d="M215.91,55.68 C216.31,54.48 217.45,54.89 218.44,54.71 C219.43,54.53 220.61,54.6 221.84,54.6 C223.08,54.6 224.81,54.46 225.86,54.73 C226.92,55 227.83,55.38 228.19,56.21 C228.54,57.05 228.22,58.53 227.97,59.74 C227.73,60.94 227.33,62.36 226.73,63.44 C226.13,64.53 225.31,65.51 224.37,66.25 C223.43,66.99 222.23,67.87 221.1,67.87 C219.97,67.86 218.47,67.21 217.62,66.22 C216.76,65.22 216.28,63.65 216,61.9 C215.71,60.14 215.5,56.88 215.91,55.68Z" fill="#cdcdcd" fill-opacity="1" stroke="none"/>
<path d="M217.87,56.84 C218.18,55.96 218.97,56.01 219.67,55.81 C220.38,55.62 221.25,55.66 222.09,55.67 C222.94,55.68 224.04,55.62 224.76,55.86 C225.49,56.1 226.18,56.53 226.44,57.11 C226.69,57.69 226.43,58.47 226.28,59.32 C226.13,60.16 225.97,61.4 225.53,62.2 C225.09,63 224.3,63.61 223.61,64.1 C222.93,64.6 222.17,65.21 221.43,65.17 C220.69,65.14 219.76,64.59 219.15,63.91 C218.54,63.22 218,62.25 217.78,61.07 C217.57,59.89 217.55,57.72 217.87,56.84Z" fill="#c3c3c3" fill-opacity="1" stroke="none"/>
<path d="M213.57,54.65 C214.16,53.02 215.75,53.36 217.18,53.07 C218.61,52.77 220.47,52.87 222.14,52.85 C223.82,52.84 225.78,52.61 227.22,52.98 C228.65,53.35 230.18,53.96 230.77,55.09 C231.35,56.22 231.12,58.06 230.74,59.77 C230.36,61.48 229.43,63.72 228.48,65.35 C227.53,66.98 226.41,68.58 225.03,69.54 C223.65,70.51 221.73,71.18 220.21,71.13 C218.68,71.08 216.96,70.64 215.87,69.25 C214.78,67.86 214.04,65.23 213.66,62.8 C213.28,60.36 212.99,56.27 213.57,54.65Z" fill="none" stroke="#a0a0a0" stroke-width="0.6"/>
<path d="M215.03,55.08 C215.54,53.65 216.76,53.85 217.88,53.64 C219,53.44 220.33,53.82 221.77,53.85 C223.2,53.89 225.22,53.52 226.49,53.86 C227.77,54.19 228.98,54.83 229.4,55.87 C229.83,56.91 229.37,58.66 229.05,60.11 C228.74,61.57 228.28,63.26 227.5,64.59 C226.72,65.92 225.5,67.25 224.39,68.08 C223.28,68.92 222.06,69.73 220.86,69.61 C219.65,69.48 218.19,68.57 217.18,67.34 C216.17,66.11 215.17,64.28 214.81,62.23 C214.45,60.19 214.52,56.51 215.03,55.08Z" fill="none" stroke="#9c9c9c" stroke-width="0.6"/>
<path d="M215.91,55.68 C216.31,54.48 217.45,54.89 218.44,54.71 C219.43,54.53 220.61,54.6 221.84,54.6 C223.08,54.6 224.81,54.46 225.86,54.73 C226.92,55 227.83,55.38 228.19,56.21 C228.54,57.05 228.22,58.53 227.97,59.74 C227.73,60.94 227.33,62.36 226.73,63.44 C226.13,64.53 225.31,65.51 224.37,66.25 C223.43,66.99 222.23,67.87 221.1,67.87 C219.97,67.86 218.47,67.21 217.62,66.22 C216.76,65.22 216.28,63.65 216,61.9 C215.71,60.14 215.5,56.88 215.91,55.68Z" fill="none" stroke="#989898" stroke-width="0.6"/>
<path d="M216.88,56.18 C217.2,55.18 218.17,55.64 219.02,55.5 C219.87,55.35 220.91,55.29 221.99,55.31 C223.07,55.33 224.66,55.4 225.51,55.61 C226.36,55.83 226.81,55.91 227.08,56.59 C227.35,57.27 227.35,58.64 227.14,59.7 C226.93,60.76 226.34,62.01 225.81,62.95 C225.28,63.9 224.77,64.78 223.98,65.36 C223.19,65.95 221.97,66.54 221.04,66.46 C220.11,66.38 219.05,65.7 218.39,64.88 C217.74,64.06 217.35,62.98 217.1,61.53 C216.85,60.08 216.56,57.19 216.88,56.18Z" fill="none" stroke="#949494" stroke-width="0.6"/>
<path d="M217.87,56.84 C218.18,55.96 218.97,56.01 219.67,55.81 C220.38,55.62 221.25,55.66 222.09,55.67 C222.94,55.68 224.04,55.62 224.76,55.86 C225.49,56.1 226.18,56.53 226.44,57.11 C226.69,57.69 226.43,58.47 226.28,59.32 C226.13,60.16 225.97,61.4 225.53,62.2 C225.09,63 224.3,63.61 223.61,64.1 C222.93,64.6 222.17,65.21 221.43,65.17 C220.69,65.14 219.76,64.59 219.15,63.91 C218.54,63.22 218,62.25 217.78,61.07 C217.57,59.89 217.55,57.72 217.87,56.84Z" fill="none" stroke="#909090" stroke-width="0.6"/>
<path d="M218.54,56.99 C218.8,56.27 219.58,56.3 220.2,56.19 C220.82,56.07 221.54,56.27 222.27,56.31 C222.99,56.35 223.98,56.29 224.54,56.44 C225.11,56.58 225.48,56.69 225.67,57.18 C225.85,57.67 225.81,58.64 225.68,59.38 C225.54,60.11 225.22,60.92 224.88,61.58 C224.53,62.24 224.12,62.95 223.59,63.35 C223.06,63.76 222.35,64.05 221.7,64.01 C221.05,63.97 220.21,63.7 219.7,63.11 C219.19,62.53 218.84,61.51 218.65,60.49 C218.46,59.47 218.28,57.71 218.54,56.99Z" fill="none" stroke="#8c8c8c" stroke-width="0.6"/>
<ellipse cx="222.5" cy="59" rx="1.5" ry="1.0" fill="#eee"/>
<path d="M282.18,49.19 C283.06,47.82 284.24,45.76 285.49,45.16 C286.75,44.56 288.2,45.1 289.7,45.6 C291.2,46.1 293.11,47.06 294.48,48.16 C295.85,49.25 297.28,50.49 297.92,52.16 C298.57,53.83 298.58,56.22 298.36,58.18 C298.15,60.15 297.53,62.21 296.64,63.95 C295.75,65.69 294.33,67.8 293.02,68.61 C291.72,69.42 290.29,69.54 288.82,68.83 C287.34,68.12 285.59,65.98 284.18,64.36 C282.78,62.74 281.04,60.94 280.38,59.11 C279.72,57.29 279.91,55.05 280.21,53.4 C280.51,51.75 281.3,50.57 282.18,49.19Z" fill="#e4e4e4" fill-opacity="1" stroke="none"/>
<path d="M284.49,51.42 C285.16,50.47 286.1,49.46 286.96,49.11 C287.83,48.75 288.71,49.02 289.68,49.3 C290.65,49.58 291.87,50.1 292.79,50.79 C293.71,51.48 294.77,52.29 295.21,53.46 C295.65,54.62 295.59,56.45 295.43,57.78 C295.28,59.12 294.86,60.35 294.29,61.47 C293.71,62.59 292.83,63.9 291.97,64.5 C291.1,65.1 290.12,65.49 289.1,65.06 C288.08,64.63 286.83,63.06 285.85,61.93 C284.87,60.8 283.68,59.45 283.2,58.26 C282.72,57.08 282.75,55.95 282.96,54.81 C283.18,53.67 283.83,52.37 284.49,51.42Z" fill="#d0d0d0" fill-opacity="1" stroke="none"/>
<path d="M286.01,53.28 C286.41,52.66 287.04,51.77 287.65,51.52 C288.27,51.27 289.04,51.58 289.71,51.79 C290.39,52 291.07,52.31 291.69,52.78 C292.32,53.26 293.14,53.89 293.45,54.64 C293.75,55.4 293.64,56.44 293.51,57.32 C293.37,58.2 293.07,59.16 292.66,59.94 C292.25,60.73 291.6,61.65 291.05,62.02 C290.5,62.39 290.02,62.43 289.36,62.16 C288.69,61.89 287.71,61.13 287.06,60.39 C286.4,59.66 285.71,58.6 285.41,57.74 C285.11,56.89 285.13,55.99 285.23,55.24 C285.33,54.5 285.6,53.9 286.01,53.28Z" fill="#c3c3c3" fill-opacity="1" stroke="none"/>
<path d="M282.18,49.19 C283.06,47.82 284.24,45.76 285.49,45.16 C286.75,44.56 288.2,45.1 289.7,45.6 C291.2,46.1 293.11,47.06 294.48,48.16 C295.85,49.25 297.28,50.49 297.92,52.16 C298.57,53.83 298.58,56.22 298.36,58.18 C298.15,60.15 297.53,62.21 296.64,63.95 C295.75,65.69 294.33,67.8 293.02,68.61 C291.72,69.42 290.29,69.54 288.82,68.83 C287.34,68.12 285.59,65.98 284.18,64.36 C282.78,62.74 281.04,60.94 280.38,59.11 C279.72,57.29 279.91,55.05 280.21,53.4 C280.51,51.75 281.3,50.57 282.18,49.19Z" fill="none" stroke="#a5a5a5" stroke-width="0.6"/>
<path d="M283.15,50.58 C283.92,49.47 285.28,47.9 286.37,47.37 C287.46,46.84 288.49,47.05 289.71,47.41 C290.93,47.77 292.5,48.59 293.67,49.51 C294.83,50.43 296.18,51.54 296.69,52.93 C297.2,54.33 296.99,56.22 296.73,57.89 C296.48,59.55 295.86,61.52 295.17,62.94 C294.48,64.37 293.57,65.79 292.57,66.43 C291.57,67.06 290.4,67.27 289.16,66.76 C287.92,66.25 286.39,64.74 285.14,63.37 C283.89,62.01 282.21,60.12 281.64,58.56 C281.08,57 281.51,55.35 281.76,54.02 C282.01,52.69 282.38,51.69 283.15,50.58Z" fill="none" stroke="#a0a0a0" stroke-width="0.6"/>
<path d="M284.49,51.42 C285.16,50.47 286.1,49.46 286.96,49.11 C287.83,48.75 288.71,49.02 289.68,49.3 C290.65,49.58 291.87,50.1 292.79,50.79 C293.71,51.48 294.77,52.29 295.21,53.46 C295.65,54.62 295.59,56.45 295.43,57.78 C295.28,59.12 294.86,60.35 294.29,61.47 C293.71,62.59 292.83,63.9 291.97,64.5 C291.1,65.1 290.12,65.49 289.1,65.06 C288.08,64.63 286.83,63.06 285.85,61.93 C284.87,60.8 283.68,59.45 283.2,58.26 C282.72,57.08 282.75,55.95 282.96,54.81 C283.18,53.67 283.83,52.37 284.49,51.42Z" fill="none" stroke="#9b9b9b" stroke-width="0.6"/>
<path d="M285.22,52.49 C285.75,51.76 286.59,50.77 287.38,50.44 C288.16,50.11 289.09,50.22 289.93,50.5 C290.77,50.77 291.7,51.46 292.42,52.09 C293.13,52.72 293.9,53.38 294.24,54.3 C294.58,55.21 294.58,56.5 294.44,57.59 C294.31,58.67 293.96,59.83 293.46,60.79 C292.95,61.75 292.13,62.92 291.42,63.33 C290.71,63.75 290.01,63.69 289.19,63.29 C288.38,62.9 287.35,61.84 286.55,60.98 C285.74,60.12 284.77,59.15 284.37,58.12 C283.97,57.1 284.01,55.78 284.15,54.84 C284.3,53.9 284.68,53.22 285.22,52.49Z" fill="none" stroke="#969696" stroke-width="0.6"/>
<path d="M286.01,53.28 C286.41,52.66 287.04,51.77 287.65,51.52 C288.27,51.27 289.04,51.58 289.71,51.79 C290.39,52 291.07,52.31 291.69,52.78 C292.32,53.26 293.14,53.89 293.45,54.64 C293.75,55.4 293.64,56.44 293.51,57.32 C293.37,58.2 293.07,59.16 292.66,59.94 C292.25,60.73 291.6,61.65 291.05,62.02 C290.5,62.39 290.02,62.43 289.36,62.16 C288.69,61.89 287.71,61.13 287.06,60.39 C286.4,59.66 285.71,58.6 285.41,57.74 C285.11,56.89 285.13,55.99 285.23,55.24 C285.33,54.5 285.6,53.9 286.01,53.28Z" fill="none" stroke="#919191" stroke-width="0.6"/>
<path d="M286.7,53.85 C287.05,53.36 287.59,52.81 288.08,52.57 C288.57,52.34 289.1,52.31 289.64,52.44 C290.18,52.58 290.86,52.95 291.34,53.38 C291.83,53.81 292.31,54.38 292.55,55.02 C292.78,55.66 292.83,56.49 292.75,57.23 C292.67,57.98 292.38,58.88 292.06,59.51 C291.75,60.13 291.35,60.68 290.88,60.98 C290.41,61.28 289.81,61.52 289.25,61.29 C288.68,61.06 288.01,60.19 287.49,59.58 C286.96,58.97 286.37,58.3 286.11,57.63 C285.86,56.95 285.88,56.14 285.98,55.51 C286.07,54.88 286.35,54.34 286.7,53.85Z" fill="none" stroke="#8c8c8c" stroke-width="0.6"/>
<ellipse cx="289.8" cy="56.5" rx="1.3" ry="1.0" fill="#eee"/>
<path d="M213.89,133.79 C214.65,132.68 216.4,131.52 218.09,131.04 C219.78,130.56 222.08,130.84 224.02,130.92 C225.96,131 228.15,131 229.73,131.5 C231.32,132.01 233.02,132.67 233.52,133.96 C234.02,135.25 233.34,137.55 232.74,139.25 C232.15,140.96 231.28,142.93 229.95,144.2 C228.63,145.46 226.59,146.41 224.77,146.83 C222.96,147.26 220.78,147.42 219.08,146.77 C217.37,146.12 215.46,144.44 214.55,142.94 C213.63,141.43 213.69,139.25 213.59,137.73 C213.48,136.2 213.14,134.9 213.89,133.79Z" fill="#d7d7d7" fill-opacity="1" stroke="none"/>
<path d="M217.25,135.2 C217.77,134.48 218.89,133.86 220.05,133.51 C221.2,133.15 222.79,133.1 224.16,133.07 C225.54,133.04 227.22,132.97 228.3,133.34 C229.38,133.71 230.35,134.35 230.63,135.28 C230.91,136.2 230.43,137.75 229.98,138.87 C229.53,139.98 228.78,141.12 227.92,141.96 C227.07,142.81 226.03,143.69 224.85,143.94 C223.68,144.2 222.04,143.95 220.86,143.5 C219.68,143.06 218.42,142.21 217.76,141.26 C217.1,140.32 217,138.85 216.91,137.84 C216.82,136.83 216.72,135.93 217.25,135.2Z" fill="#c3c3c3" fill-opacity="1" stroke="none"/>
<path d="M219.62,135.82 C219.98,135.33 220.77,134.92 221.55,134.71 C222.34,134.51 223.45,134.58 224.34,134.57 C225.23,134.57 226.19,134.45 226.9,134.68 C227.62,134.9 228.39,135.34 228.64,135.93 C228.9,136.52 228.74,137.5 228.45,138.22 C228.15,138.95 227.51,139.7 226.88,140.28 C226.24,140.86 225.44,141.51 224.63,141.7 C223.82,141.89 222.82,141.72 222.02,141.42 C221.21,141.11 220.26,140.5 219.82,139.88 C219.38,139.25 219.41,138.33 219.38,137.66 C219.34,136.98 219.25,136.31 219.62,135.82Z" fill="#b4b4b4" fill-opacity="1" stroke="none"/>
<path d="M213.89,133.79 C214.65,132.68 216.4,131.52 218.09,131.04 C219.78,130.56 222.08,130.84 224.02,130.92 C225.96,131 228.15,131 229.73,131.5 C231.32,132.01 233.02,132.67 233.52,133.96 C234.02,135.25 233.34,137.55 232.74,139.25 C232.15,140.96 231.28,142.93 229.95,144.2 C228.63,145.46 226.59,146.41 224.77,146.83 C222.96,147.26 220.78,147.42 219.08,146.77 C217.37,146.12 215.46,144.44 214.55,142.94 C213.63,141.43 213.69,139.25 213.59,137.73 C213.48,136.2 213.14,134.9 213.89,133.79Z" fill="none" stroke="#969696" stroke-width="0.6"/>
<path d="M216,134.56 C216.59,133.6 217.6,132.63 218.92,132.26 C220.25,131.9 222.28,132.29 223.93,132.36 C225.57,132.42 227.42,132.28 228.78,132.65 C230.15,133.03 231.68,133.55 232.12,134.6 C232.56,135.65 231.99,137.61 231.42,138.96 C230.86,140.31 229.81,141.66 228.72,142.72 C227.64,143.77 226.41,144.92 224.93,145.29 C223.45,145.66 221.28,145.51 219.83,144.96 C218.37,144.4 216.95,143.1 216.21,141.95 C215.47,140.79 215.43,139.27 215.39,138.04 C215.36,136.81 215.41,135.52 216,134.56Z" fill="none" stroke="#919191" stroke-width="0.6"/>
<path d="M217.25,135.2 C217.77,134.48 218.89,133.86 220.05,133.51 C221.2,133.15 222.79,133.1 224.16,133.07 C225.54,133.04 227.22,132.97 228.3,133.34 C229.38,133.71 230.35,134.35 230.63,135.28 C230.91,136.2 230.43,137.75 229.98,138.87 C229.53,139.98 228.78,141.12 227.92,141.96 C227.07,142.81 226.03,143.69 224.85,143.94 C223.68,144.2 222.04,143.95 220.86,143.5 C219.68,143.06 218.42,142.21 217.76,141.26 C217.1,140.32 217,138.85 216.91,137.84 C216.82,136.83 216.72,135.93 217.25,135.2Z" fill="none" stroke="#8c8c8c" stroke-width="0.6"/>
<path d="M218.75,135.7 C219.19,135.07 219.96,134.41 220.83,134.12 C221.71,133.83 222.89,133.93 224.01,133.97 C225.12,134 226.57,134.09 227.51,134.34 C228.45,134.59 229.4,134.76 229.66,135.48 C229.92,136.2 229.47,137.71 229.08,138.64 C228.68,139.57 228.05,140.4 227.3,141.05 C226.55,141.71 225.6,142.35 224.59,142.59 C223.58,142.84 222.22,142.89 221.25,142.53 C220.28,142.17 219.3,141.21 218.79,140.43 C218.29,139.66 218.22,138.67 218.22,137.88 C218.21,137.09 218.31,136.33 218.75,135.7Z" fill="none" stroke="#878787" stroke-width="0.6"/>
<path d="M219.62,135.82 C219.98,135.33 220.77,134.92 221.55,134.71 C222.34,134.51 223.45,134.58 224.34,134.57 C225.23,134.57 226.19,134.45 226.9,134.68 C227.62,134.9 228.39,135.34 228.64,135.93 C228.9,136.52 228.74,137.5 228.45,138.22 C228.15,138.95 227.51,139.7 226.88,140.28 C226.24,140.86 225.44,141.51 224.63,141.7 C223.82,141.89 222.82,141.72 222.02,141.42 C221.21,141.11 220.26,140.5 219.82,139.88 C219.38,139.25 219.41,138.33 219.38,137.66 C219.34,136.98 219.25,136.31 219.62,135.82Z" fill="none" stroke="#828282" stroke-width="0.6"/>
<path d="M220.76,136.06 C221.07,135.67 221.54,135.25 222.15,135.05 C222.76,134.84 223.65,134.79 224.41,134.81 C225.17,134.83 226.07,134.94 226.68,135.16 C227.3,135.37 227.92,135.61 228.09,136.09 C228.25,136.57 227.95,137.43 227.68,138.04 C227.42,138.65 227.01,139.31 226.51,139.76 C226,140.21 225.32,140.61 224.64,140.74 C223.97,140.88 223.09,140.83 222.45,140.58 C221.81,140.33 221.17,139.78 220.81,139.26 C220.45,138.73 220.3,137.96 220.29,137.43 C220.28,136.89 220.45,136.46 220.76,136.06Z" fill="none" stroke="#7d7d7d" stroke-width="0.6"/>
<ellipse cx="224" cy="137.5" rx="1.6" ry="1.1" fill="#eee"/>
<path d="M219.95,128.59 C218.86,127.83 222.01,125.65 221.93,124.04 C221.84,122.43 219.47,120.38 219.42,118.95 C219.36,117.52 220.5,116.27 221.6,115.44 C222.7,114.62 224.88,114.73 226.03,113.99 C227.18,113.25 227.51,111.57 228.49,111 C229.48,110.43 230.78,110.32 231.94,110.57 C233.09,110.81 235.01,111.38 235.42,112.45 C235.83,113.51 235.06,115.51 234.4,116.95 C233.75,118.39 232.39,119.84 231.48,121.08 C230.58,122.33 229.48,123.17 228.98,124.42 C228.47,125.68 229.96,127.9 228.45,128.6 C226.95,129.29 221.03,129.35 219.95,128.59Z" fill="none" stroke="#afafaf" stroke-width="0.6"/>
<path d="M222.39,125.19 C221.69,124.7 223.78,123.3 223.73,122.27 C223.69,121.24 222.16,119.95 222.1,119.02 C222.05,118.1 222.71,117.29 223.42,116.74 C224.14,116.2 225.65,116.26 226.4,115.76 C227.15,115.26 227.28,114.12 227.93,113.74 C228.58,113.36 229.55,113.29 230.31,113.47 C231.07,113.66 232.22,114.12 232.49,114.83 C232.75,115.54 232.3,116.82 231.89,117.73 C231.47,118.64 230.58,119.46 229.97,120.27 C229.37,121.09 228.62,121.8 228.28,122.62 C227.94,123.45 228.91,124.78 227.93,125.21 C226.95,125.64 223.09,125.68 222.39,125.19Z" fill="none" stroke="#b9b9b9" stroke-width="0.6"/>
<path d="M286.48,111.92 C287.12,110.55 288,109.17 289.28,108.52 C290.57,107.87 292.46,107.71 294.2,108 C295.95,108.29 298.52,108.9 299.74,110.25 C300.96,111.59 301.37,113.79 301.53,116.07 C301.7,118.35 301.04,121.28 300.72,123.93 C300.41,126.58 300.05,129.58 299.62,131.97 C299.19,134.37 299.1,136.58 298.14,138.29 C297.17,140.01 295.53,141.36 293.84,142.27 C292.15,143.18 289.89,143.85 288,143.75 C286.12,143.65 283.8,142.68 282.55,141.66 C281.31,140.65 280.41,139.28 280.53,137.65 C280.65,136.02 282.42,134.13 283.26,131.87 C284.11,129.62 285.24,126.66 285.6,124.14 C285.97,121.62 285.31,118.79 285.45,116.75 C285.6,114.72 285.84,113.3 286.48,111.92Z" fill="#e4e4e4" fill-opacity="1" stroke="none"/>
<path d="M288.55,114.19 C289.03,113.24 289.78,112.36 290.68,111.92 C291.59,111.47 292.8,111.33 293.98,111.53 C295.15,111.74 296.9,112.15 297.74,113.13 C298.58,114.1 298.8,115.78 299.01,117.36 C299.21,118.95 299.17,120.76 298.96,122.64 C298.76,124.52 298.19,126.9 297.78,128.64 C297.37,130.38 297.22,131.88 296.52,133.08 C295.83,134.27 294.76,135.21 293.62,135.8 C292.47,136.38 290.95,136.73 289.65,136.6 C288.35,136.46 286.71,135.66 285.81,134.97 C284.92,134.29 284.19,133.57 284.29,132.48 C284.4,131.39 285.86,130 286.44,128.42 C287.02,126.85 287.54,124.8 287.77,123.01 C288.01,121.21 287.71,119.13 287.85,117.66 C287.98,116.19 288.08,115.15 288.55,114.19Z" fill="#d2d2d2" fill-opacity="1" stroke="none"/>
<path d="M289.96,115.76 C290.34,115.06 291.04,114.19 291.7,113.82 C292.36,113.44 293.11,113.33 293.9,113.5 C294.69,113.67 295.84,114.14 296.45,114.85 C297.06,115.55 297.43,116.65 297.56,117.76 C297.69,118.86 297.41,120.21 297.24,121.49 C297.07,122.78 296.81,124.25 296.55,125.47 C296.29,126.7 296.11,127.97 295.66,128.84 C295.21,129.7 294.67,130.26 293.85,130.68 C293.04,131.1 291.74,131.44 290.79,131.37 C289.84,131.3 288.74,130.8 288.15,130.28 C287.56,129.75 287.16,128.99 287.24,128.22 C287.32,127.45 288.23,126.77 288.63,125.66 C289.04,124.56 289.54,122.88 289.68,121.6 C289.81,120.32 289.4,118.95 289.44,117.98 C289.49,117.01 289.59,116.45 289.96,115.76Z" fill="#c8c8c8" fill-opacity="1" stroke="none"/>
<path d="M286.48,111.92 C287.12,110.55 288,109.17 289.28,108.52 C290.57,107.87 292.46,107.71 294.2,108 C295.95,108.29 298.52,108.9 299.74,110.25 C300.96,111.59 301.37,113.79 301.53,116.07 C301.7,118.35 301.04,121.28 300.72,123.93 C300.41,126.58 300.05,129.58 299.62,131.97 C299.19,134.37 299.1,136.58 298.14,138.29 C297.17,140.01 295.53,141.36 293.84,142.27 C292.15,143.18 289.89,143.85 288,143.75 C286.12,143.65 283.8,142.68 282.55,141.66 C281.31,140.65 280.41,139.28 280.53,137.65 C280.65,136.02 282.42,134.13 283.26,131.87 C284.11,129.62 285.24,126.66 285.6,124.14 C285.97,121.62 285.31,118.79 285.45,116.75 C285.6,114.72 285.84,113.3 286.48,111.92Z" fill="none" stroke="#a5a5a5" stroke-width="0.6"/>
<path d="M287.46,113.17 C287.99,112.02 288.88,110.87 289.99,110.37 C291.1,109.86 292.7,109.91 294.15,110.15 C295.6,110.4 297.7,110.75 298.69,111.84 C299.69,112.92 299.98,114.75 300.12,116.68 C300.26,118.6 299.76,121.15 299.52,123.36 C299.28,125.57 299.08,127.92 298.7,129.92 C298.33,131.93 298.09,133.85 297.29,135.39 C296.49,136.92 295.35,138.45 293.92,139.14 C292.49,139.83 290.34,139.7 288.69,139.53 C287.04,139.36 285.06,138.95 284.01,138.12 C282.96,137.29 282.21,135.83 282.38,134.53 C282.56,133.23 284.34,132.2 285.06,130.33 C285.78,128.47 286.41,125.52 286.7,123.35 C286.99,121.18 286.68,119.01 286.81,117.32 C286.94,115.62 286.93,114.33 287.46,113.17Z" fill="none" stroke="#a0a0a0" stroke-width="0.6"/>
<path d="M288.55,114.19 C289.03,113.24 289.78,112.36 290.68,111.92 C291.59,111.47 292.8,111.33 293.98,111.53 C295.15,111.74 296.9,112.15 297.74,113.13 C298.58,114.1 298.8,115.78 299.01,117.36 C299.21,118.95 299.17,120.76 298.96,122.64 C298.76,124.52 298.19,126.9 297.78,128.64 C297.37,130.38 297.22,131.88 296.52,133.08 C295.83,134.27 294.76,135.21 293.62,135.8 C292.47,136.38 290.95,136.73 289.65,136.6 C288.35,136.46 286.71,135.66 285.81,134.97 C284.92,134.29 284.19,133.57 284.29,132.48 C284.4,131.39 285.86,130 286.44,128.42 C287.02,126.85 287.54,124.8 287.77,123.01 C288.01,121.21 287.71,119.13 287.85,117.66 C287.98,116.19 288.08,115.15 288.55,114.19Z" fill="none" stroke="#9b9b9b" stroke-width="0.6"/>
<path d="M289.45,115.03 C289.86,114.12 290.33,113.19 291.09,112.79 C291.86,112.4 293.09,112.41 294.06,112.65 C295.03,112.9 296.23,113.43 296.9,114.24 C297.57,115.06 297.95,116.22 298.09,117.56 C298.23,118.9 297.92,120.74 297.77,122.3 C297.61,123.86 297.41,125.54 297.15,126.94 C296.9,128.34 296.78,129.67 296.23,130.7 C295.68,131.74 294.89,132.6 293.87,133.14 C292.85,133.67 291.29,134.02 290.13,133.92 C288.98,133.82 287.63,133.16 286.93,132.53 C286.24,131.9 285.86,131.11 285.97,130.16 C286.09,129.2 287.14,128.16 287.62,126.82 C288.1,125.48 288.71,123.55 288.87,122.11 C289.03,120.68 288.49,119.4 288.59,118.22 C288.68,117.04 289.03,115.93 289.45,115.03Z" fill="none" stroke="#969696" stroke-width="0.6"/>
<path d="M289.96,115.76 C290.34,115.06 291.04,114.19 291.7,113.82 C292.36,113.44 293.11,113.33 293.9,113.5 C294.69,113.67 295.84,114.14 296.45,114.85 C297.06,115.55 297.43,116.65 297.56,117.76 C297.69,118.86 297.41,120.21 297.24,121.49 C297.07,122.78 296.81,124.25 296.55,125.47 C296.29,126.7 296.11,127.97 295.66,128.84 C295.21,129.7 294.67,130.26 293.85,130.68 C293.04,131.1 291.74,131.44 290.79,131.37 C289.84,131.3 288.74,130.8 288.15,130.28 C287.56,129.75 287.16,128.99 287.24,128.22 C287.32,127.45 288.23,126.77 288.63,125.66 C289.04,124.56 289.54,122.88 289.68,121.6 C289.81,120.32 289.4,118.95 289.44,117.98 C289.49,117.01 289.59,116.45 289.96,115.76Z" fill="none" stroke="#919191" stroke-width="0.6"/>
<path d="M290.71,115.9 C290.98,115.29 291.42,114.61 291.99,114.33 C292.56,114.05 293.44,114.08 294.12,114.24 C294.79,114.4 295.54,114.7 296.01,115.27 C296.49,115.84 296.84,116.73 296.96,117.67 C297.08,118.61 296.87,119.79 296.74,120.92 C296.6,122.05 296.34,123.41 296.13,124.46 C295.93,125.5 295.92,126.44 295.52,127.17 C295.12,127.91 294.4,128.53 293.72,128.86 C293.04,129.19 292.21,129.26 291.42,129.17 C290.64,129.08 289.55,128.77 289.03,128.33 C288.52,127.89 288.26,127.2 288.34,126.54 C288.41,125.87 289.16,125.27 289.48,124.36 C289.8,123.44 290.09,122.12 290.23,121.06 C290.37,119.99 290.26,118.83 290.34,117.97 C290.42,117.11 290.43,116.51 290.71,115.9Z" fill="none" stroke="#8c8c8c" stroke-width="0.6"/>
<rect x="215.5" y="22" width="24.5" height="28.4" stroke="#000" stroke-width="1.5" fill="none"/>
<rect x="281.2" y="21.7" width="24.2" height="29.1" stroke="#000" stroke-width="1.5" fill="none"/>
<rect x="215.5" y="101" width="24.5" height="28.6" stroke="#000" stroke-width="1.5" fill="none"/>
<rect x="281" y="101.3" width="24.4" height="28.3" stroke="#000" stroke-width="1.5" fill="none"/>
<text x="200" y="26.9" font-size="9" font-weight="bold" text-anchor="start" fill="#000" textLength="11.12" lengthAdjust="spacingAndGlyphs">3.6</text>
<text x="265.8" y="27" font-size="9" font-weight="bold" text-anchor="start" fill="#000" textLength="11.12" lengthAdjust="spacingAndGlyphs">9.7</text>
<text x="200" y="106.3" font-size="9" font-weight="bold" text-anchor="start" fill="#000" textLength="8.9" lengthAdjust="spacingAndGlyphs">20</text>
<text x="265.8" y="106.3" font-size="9" font-weight="bold" text-anchor="start" fill="#000" textLength="8.9" lengthAdjust="spacingAndGlyphs">50</text>
<text x="197" y="172.4" font-size="10" font-weight="bold" text-anchor="start" fill="#000">FSC</text>
<line x1="224.3" y1="169.7" x2="313.6" y2="169.7" stroke="#000" stroke-width="1"/>
<polygon points="318.6,169.7 312.6,167.1 312.6,172.3" fill="#000"/>
<text x="24.8" y="198.3" font-size="14" font-weight="bold" text-anchor="start" fill="#000">C</text>
<line x1="46" y1="205.8" x2="46" y2="322.8" stroke="#000" stroke-width="1"/>
<polygon points="46,200.8 43.4,206.8 48.6,206.8" fill="#000"/>
<text x="38.6" y="232.6" font-size="10" font-weight="normal" text-anchor="end" fill="#000">WT</text>
<text x="39.6" y="310.2" font-size="10" font-weight="normal" text-anchor="end" fill="#000">IFN&#947;<tspan font-size="6.5" dy="-3.6">-/-</tspan></text>
<text transform="translate(49.7,346) rotate(-90)" font-size="10.2" font-weight="bold" text-anchor="start" fill="#000" textLength="16" lengthAdjust="spacingAndGlyphs">Gr1</text>
<text x="56.2" y="360.8" font-size="10" font-weight="bold" text-anchor="start" fill="#000" textLength="31.4" lengthAdjust="spacingAndGlyphs">CD115</text>
<line x1="95.1" y1="357.7" x2="314.6" y2="357.7" stroke="#000" stroke-width="1"/>
<polygon points="319.6,357.7 313.6,355.1 313.6,360.3" fill="#000"/>
<text x="81.7" y="197.9" font-size="10.4" font-weight="normal" text-anchor="middle" fill="#000">Day 0</text>
<text x="146.3" y="197.9" font-size="10.4" font-weight="normal" text-anchor="middle" fill="#000">Day 4</text>
<text x="216.9" y="197.9" font-size="10.4" font-weight="normal" text-anchor="middle" fill="#000">Day 6</text>
<text x="287.5" y="197.9" font-size="10.4" font-weight="normal" text-anchor="middle" fill="#000">Day 8</text>
<line x1="53.7" y1="265.04" x2="55.3" y2="265.04" stroke="#444" stroke-width="0.9"/>
<line x1="54.4" y1="261.3" x2="55.3" y2="261.3" stroke="#999" stroke-width="0.5"/>
<line x1="54.4" y1="259.05" x2="55.3" y2="259.05" stroke="#999" stroke-width="0.5"/>
<line x1="54.4" y1="257.56" x2="55.3" y2="257.56" stroke="#999" stroke-width="0.5"/>
<line x1="54.4" y1="256.31" x2="55.3" y2="256.31" stroke="#999" stroke-width="0.5"/>
<line x1="54.4" y1="255.32" x2="55.3" y2="255.32" stroke="#999" stroke-width="0.5"/>
<line x1="54.4" y1="254.44" x2="55.3" y2="254.44" stroke="#999" stroke-width="0.5"/>
<line x1="54.4" y1="253.82" x2="55.3" y2="253.82" stroke="#999" stroke-width="0.5"/>
<line x1="54.4" y1="253.2" x2="55.3" y2="253.2" stroke="#999" stroke-width="0.5"/>
<line x1="53.7" y1="251.19" x2="55.3" y2="251.19" stroke="#444" stroke-width="0.9"/>
<line x1="54.4" y1="247.45" x2="55.3" y2="247.45" stroke="#999" stroke-width="0.5"/>
<line x1="54.4" y1="245.21" x2="55.3" y2="245.21" stroke="#999" stroke-width="0.5"/>
<line x1="54.4" y1="243.71" x2="55.3" y2="243.71" stroke="#999" stroke-width="0.5"/>
<line x1="54.4" y1="242.47" x2="55.3" y2="242.47" stroke="#999" stroke-width="0.5"/>
<line x1="54.4" y1="241.47" x2="55.3" y2="241.47" stroke="#999" stroke-width="0.5"/>
<line x1="54.4" y1="240.6" x2="55.3" y2="240.6" stroke="#999" stroke-width="0.5"/>
<line x1="54.4" y1="239.97" x2="55.3" y2="239.97" stroke="#999" stroke-width="0.5"/>
<line x1="54.4" y1="239.35" x2="55.3" y2="239.35" stroke="#999" stroke-width="0.5"/>
<line x1="53.7" y1="237.34" x2="55.3" y2="237.34" stroke="#444" stroke-width="0.9"/>
<line x1="54.4" y1="233.61" x2="55.3" y2="233.61" stroke="#999" stroke-width="0.5"/>
<line x1="54.4" y1="231.36" x2="55.3" y2="231.36" stroke="#999" stroke-width="0.5"/>
<line x1="54.4" y1="229.87" x2="55.3" y2="229.87" stroke="#999" stroke-width="0.5"/>
<line x1="54.4" y1="228.62" x2="55.3" y2="228.62" stroke="#999" stroke-width="0.5"/>
<line x1="54.4" y1="227.62" x2="55.3" y2="227.62" stroke="#999" stroke-width="0.5"/>
<line x1="54.4" y1="226.75" x2="55.3" y2="226.75" stroke="#999" stroke-width="0.5"/>
<line x1="54.4" y1="226.13" x2="55.3" y2="226.13" stroke="#999" stroke-width="0.5"/>
<line x1="54.4" y1="225.51" x2="55.3" y2="225.51" stroke="#999" stroke-width="0.5"/>
<line x1="53.7" y1="223.5" x2="55.3" y2="223.5" stroke="#444" stroke-width="0.9"/>
<line x1="54.4" y1="219.76" x2="55.3" y2="219.76" stroke="#999" stroke-width="0.5"/>
<line x1="54.4" y1="217.52" x2="55.3" y2="217.52" stroke="#999" stroke-width="0.5"/>
<line x1="54.4" y1="216.02" x2="55.3" y2="216.02" stroke="#999" stroke-width="0.5"/>
<line x1="54.4" y1="214.78" x2="55.3" y2="214.78" stroke="#999" stroke-width="0.5"/>
<line x1="54.4" y1="213.78" x2="55.3" y2="213.78" stroke="#999" stroke-width="0.5"/>
<line x1="54.4" y1="212.91" x2="55.3" y2="212.91" stroke="#999" stroke-width="0.5"/>
<line x1="54.4" y1="212.28" x2="55.3" y2="212.28" stroke="#999" stroke-width="0.5"/>
<line x1="54.4" y1="211.66" x2="55.3" y2="211.66" stroke="#999" stroke-width="0.5"/>
<line x1="53.7" y1="209.65" x2="55.3" y2="209.65" stroke="#444" stroke-width="0.9"/>
<line x1="54.4" y1="205.91" x2="55.3" y2="205.91" stroke="#999" stroke-width="0.5"/>
<line x1="58.83" y1="268.9" x2="58.83" y2="270.5" stroke="#444" stroke-width="0.9"/>
<line x1="62.25" y1="268.9" x2="62.25" y2="269.8" stroke="#999" stroke-width="0.5"/>
<line x1="64.3" y1="268.9" x2="64.3" y2="269.8" stroke="#999" stroke-width="0.5"/>
<line x1="65.67" y1="268.9" x2="65.67" y2="269.8" stroke="#999" stroke-width="0.5"/>
<line x1="66.81" y1="268.9" x2="66.81" y2="269.8" stroke="#999" stroke-width="0.5"/>
<line x1="67.72" y1="268.9" x2="67.72" y2="269.8" stroke="#999" stroke-width="0.5"/>
<line x1="68.52" y1="268.9" x2="68.52" y2="269.8" stroke="#999" stroke-width="0.5"/>
<line x1="69.09" y1="268.9" x2="69.09" y2="269.8" stroke="#999" stroke-width="0.5"/>
<line x1="69.66" y1="268.9" x2="69.66" y2="269.8" stroke="#999" stroke-width="0.5"/>
<line x1="71.5" y1="268.9" x2="71.5" y2="270.5" stroke="#444" stroke-width="0.9"/>
<line x1="74.92" y1="268.9" x2="74.92" y2="269.8" stroke="#999" stroke-width="0.5"/>
<line x1="76.97" y1="268.9" x2="76.97" y2="269.8" stroke="#999" stroke-width="0.5"/>
<line x1="78.34" y1="268.9" x2="78.34" y2="269.8" stroke="#999" stroke-width="0.5"/>
<line x1="79.48" y1="268.9" x2="79.48" y2="269.8" stroke="#999" stroke-width="0.5"/>
<line x1="80.39" y1="268.9" x2="80.39" y2="269.8" stroke="#999" stroke-width="0.5"/>
<line x1="81.19" y1="268.9" x2="81.19" y2="269.8" stroke="#999" stroke-width="0.5"/>
<line x1="81.75" y1="268.9" x2="81.75" y2="269.8" stroke="#999" stroke-width="0.5"/>
<line x1="82.32" y1="268.9" x2="82.32" y2="269.8" stroke="#999" stroke-width="0.5"/>
<line x1="84.16" y1="268.9" x2="84.16" y2="270.5" stroke="#444" stroke-width="0.9"/>
<line x1="87.58" y1="268.9" x2="87.58" y2="269.8" stroke="#999" stroke-width="0.5"/>
<line x1="89.63" y1="268.9" x2="89.63" y2="269.8" stroke="#999" stroke-width="0.5"/>
<line x1="91" y1="268.9" x2="91" y2="269.8" stroke="#999" stroke-width="0.5"/>
<line x1="92.14" y1="268.9" x2="92.14" y2="269.8" stroke="#999" stroke-width="0.5"/>
<line x1="93.05" y1="268.9" x2="93.05" y2="269.8" stroke="#999" stroke-width="0.5"/>
<line x1="93.85" y1="268.9" x2="93.85" y2="269.8" stroke="#999" stroke-width="0.5"/>
<line x1="94.42" y1="268.9" x2="94.42" y2="269.8" stroke="#999" stroke-width="0.5"/>
<line x1="94.99" y1="268.9" x2="94.99" y2="269.8" stroke="#999" stroke-width="0.5"/>
<line x1="96.82" y1="268.9" x2="96.82" y2="270.5" stroke="#444" stroke-width="0.9"/>
<line x1="100.24" y1="268.9" x2="100.24" y2="269.8" stroke="#999" stroke-width="0.5"/>
<line x1="102.3" y1="268.9" x2="102.3" y2="269.8" stroke="#999" stroke-width="0.5"/>
<line x1="103.66" y1="268.9" x2="103.66" y2="269.8" stroke="#999" stroke-width="0.5"/>
<line x1="104.8" y1="268.9" x2="104.8" y2="269.8" stroke="#999" stroke-width="0.5"/>
<line x1="105.71" y1="268.9" x2="105.71" y2="269.8" stroke="#999" stroke-width="0.5"/>
<line x1="106.51" y1="268.9" x2="106.51" y2="269.8" stroke="#999" stroke-width="0.5"/>
<line x1="107.08" y1="268.9" x2="107.08" y2="269.8" stroke="#999" stroke-width="0.5"/>
<line x1="107.65" y1="268.9" x2="107.65" y2="269.8" stroke="#999" stroke-width="0.5"/>
<line x1="109.49" y1="268.9" x2="109.49" y2="270.5" stroke="#444" stroke-width="0.9"/>
<line x1="112.91" y1="268.9" x2="112.91" y2="269.8" stroke="#999" stroke-width="0.5"/>
<rect x="55.3" y="204.5" width="58.9" height="64.4" stroke="#555" stroke-width="1" fill="none"/>
<rect x="72.83" y="248.63" width="0.7" height="0.7" fill="#b9b9b9" fill-opacity="0.7"/>
<rect x="89.35" y="244.49" width="0.7" height="0.7" fill="#b9b9b9" fill-opacity="0.7"/>
<rect x="74.77" y="249.84" width="0.7" height="0.7" fill="#b9b9b9" fill-opacity="0.7"/>
<rect x="63.46" y="246.52" width="0.7" height="0.7" fill="#b9b9b9" fill-opacity="0.7"/>
<rect x="79.05" y="258.89" width="0.7" height="0.7" fill="#b9b9b9" fill-opacity="0.7"/>
<rect x="60.29" y="237.35" width="0.7" height="0.7" fill="#b9b9b9" fill-opacity="0.7"/>
<rect x="60.17" y="259.62" width="0.7" height="0.7" fill="#b9b9b9" fill-opacity="0.7"/>
<rect x="81.27" y="225.84" width="0.7" height="0.7" fill="#b9b9b9" fill-opacity="0.7"/>
<rect x="91.38" y="266.45" width="0.7" height="0.7" fill="#b9b9b9" fill-opacity="0.7"/>
<rect x="79.89" y="251.08" width="0.7" height="0.7" fill="#b9b9b9" fill-opacity="0.7"/>
<rect x="62.51" y="224.66" width="0.7" height="0.7" fill="#b9b9b9" fill-opacity="0.7"/>
<rect x="75.49" y="226.62" width="0.7" height="0.7" fill="#b9b9b9" fill-opacity="0.7"/>
<rect x="63.66" y="234.65" width="0.7" height="0.7" fill="#b9b9b9" fill-opacity="0.7"/>
<rect x="58.05" y="244.41" width="0.7" height="0.7" fill="#b9b9b9" fill-opacity="0.7"/>
<rect x="72.42" y="261.07" width="0.7" height="0.7" fill="#b9b9b9" fill-opacity="0.7"/>
<rect x="75.17" y="252.17" width="0.7" height="0.7" fill="#b9b9b9" fill-opacity="0.7"/>
<rect x="74.49" y="253.15" width="0.7" height="0.7" fill="#b9b9b9" fill-opacity="0.7"/>
<rect x="73.01" y="236.24" width="0.7" height="0.7" fill="#b9b9b9" fill-opacity="0.7"/>
<rect x="91.92" y="267.81" width="0.7" height="0.7" fill="#b9b9b9" fill-opacity="0.7"/>
<rect x="86.41" y="255.14" width="0.7" height="0.7" fill="#b9b9b9" fill-opacity="0.7"/>
<rect x="68.03" y="234.11" width="0.7" height="0.7" fill="#b9b9b9" fill-opacity="0.7"/>
<rect x="67.12" y="227.09" width="0.7" height="0.7" fill="#b9b9b9" fill-opacity="0.7"/>
<rect x="83.82" y="241.62" width="0.7" height="0.7" fill="#b9b9b9" fill-opacity="0.7"/>
<rect x="86.63" y="241.01" width="0.7" height="0.7" fill="#b9b9b9" fill-opacity="0.7"/>
<rect x="90.53" y="261.28" width="0.7" height="0.7" fill="#b9b9b9" fill-opacity="0.7"/>
<rect x="57.02" y="233.23" width="0.7" height="0.7" fill="#b9b9b9" fill-opacity="0.7"/>
<rect x="88.86" y="244.68" width="0.7" height="0.7" fill="#b9b9b9" fill-opacity="0.7"/>
<rect x="91.31" y="241.49" width="0.7" height="0.7" fill="#b9b9b9" fill-opacity="0.7"/>
<rect x="59.56" y="251.7" width="0.7" height="0.7" fill="#b9b9b9" fill-opacity="0.7"/>
<rect x="84.25" y="235.87" width="0.7" height="0.7" fill="#b9b9b9" fill-opacity="0.7"/>
<rect x="60.05" y="238.63" width="0.7" height="0.7" fill="#b9b9b9" fill-opacity="0.7"/>
<rect x="90.74" y="257.35" width="0.7" height="0.7" fill="#b9b9b9" fill-opacity="0.7"/>
<rect x="61.13" y="234.84" width="0.7" height="0.7" fill="#b9b9b9" fill-opacity="0.7"/>
<rect x="60.54" y="226.64" width="0.7" height="0.7" fill="#b9b9b9" fill-opacity="0.7"/>
<rect x="84.9" y="231.82" width="0.7" height="0.7" fill="#b9b9b9" fill-opacity="0.7"/>
<rect x="76.58" y="243.69" width="0.7" height="0.7" fill="#b9b9b9" fill-opacity="0.7"/>
<rect x="63.67" y="256.2" width="0.7" height="0.7" fill="#b9b9b9" fill-opacity="0.7"/>
<rect x="61.58" y="252.32" width="0.7" height="0.7" fill="#b9b9b9" fill-opacity="0.7"/>
<rect x="61.08" y="242.51" width="0.7" height="0.7" fill="#b9b9b9" fill-opacity="0.7"/>
<rect x="64.45" y="235.87" width="0.7" height="0.7" fill="#b9b9b9" fill-opacity="0.7"/>
<rect x="90.98" y="259.35" width="0.7" height="0.7" fill="#b9b9b9" fill-opacity="0.7"/>
<rect x="67.65" y="262.93" width="0.7" height="0.7" fill="#b9b9b9" fill-opacity="0.7"/>
<rect x="64.37" y="241.35" width="0.7" height="0.7" fill="#b9b9b9" fill-opacity="0.7"/>
<rect x="86.9" y="252.24" width="0.7" height="0.7" fill="#b9b9b9" fill-opacity="0.7"/>
<rect x="60.51" y="267.53" width="0.7" height="0.7" fill="#b9b9b9" fill-opacity="0.7"/>
<rect x="64.46" y="235.36" width="0.7" height="0.7" fill="#b9b9b9" fill-opacity="0.7"/>
<rect x="84.04" y="238.47" width="0.7" height="0.7" fill="#b9b9b9" fill-opacity="0.7"/>
<rect x="67.37" y="227.23" width="0.7" height="0.7" fill="#b9b9b9" fill-opacity="0.7"/>
<rect x="60.15" y="249.64" width="0.7" height="0.7" fill="#b9b9b9" fill-opacity="0.7"/>
<rect x="65.51" y="250.46" width="0.7" height="0.7" fill="#b9b9b9" fill-opacity="0.7"/>
<rect x="70.01" y="243.94" width="0.7" height="0.7" fill="#b9b9b9" fill-opacity="0.7"/>
<rect x="90.57" y="245.28" width="0.7" height="0.7" fill="#b9b9b9" fill-opacity="0.7"/>
<rect x="77.11" y="262.13" width="0.7" height="0.7" fill="#b9b9b9" fill-opacity="0.7"/>
<rect x="63.4" y="230.78" width="0.7" height="0.7" fill="#b9b9b9" fill-opacity="0.7"/>
<rect x="88.79" y="259.98" width="0.7" height="0.7" fill="#b9b9b9" fill-opacity="0.7"/>
<rect x="65.73" y="232.35" width="0.7" height="0.7" fill="#b9b9b9" fill-opacity="0.7"/>
<rect x="82.88" y="265.38" width="0.7" height="0.7" fill="#b9b9b9" fill-opacity="0.7"/>
<rect x="63.88" y="265.81" width="0.7" height="0.7" fill="#b9b9b9" fill-opacity="0.7"/>
<rect x="87.88" y="250.56" width="0.7" height="0.7" fill="#b9b9b9" fill-opacity="0.7"/>
<rect x="71.75" y="228.57" width="0.7" height="0.7" fill="#b9b9b9" fill-opacity="0.7"/>
<rect x="58.35" y="266.36" width="0.7" height="0.7" fill="#b9b9b9" fill-opacity="0.7"/>
<rect x="65.34" y="255" width="0.7" height="0.7" fill="#b9b9b9" fill-opacity="0.7"/>
<rect x="65.99" y="260.24" width="0.7" height="0.7" fill="#b9b9b9" fill-opacity="0.7"/>
<rect x="77.88" y="236.91" width="0.7" height="0.7" fill="#b9b9b9" fill-opacity="0.7"/>
<rect x="63.14" y="255.7" width="0.7" height="0.7" fill="#b9b9b9" fill-opacity="0.7"/>
<rect x="59.41" y="234.05" width="0.7" height="0.7" fill="#b9b9b9" fill-opacity="0.7"/>
<rect x="76.58" y="261.51" width="0.7" height="0.7" fill="#b9b9b9" fill-opacity="0.7"/>
<rect x="78.5" y="236.33" width="0.7" height="0.7" fill="#b9b9b9" fill-opacity="0.7"/>
<rect x="89.11" y="232.98" width="0.7" height="0.7" fill="#b9b9b9" fill-opacity="0.7"/>
<rect x="57.58" y="235.84" width="0.7" height="0.7" fill="#b9b9b9" fill-opacity="0.7"/>
<radialGradient id="g5"><stop offset="0" stop-color="#cdcdcd" stop-opacity="0.8"/><stop offset="1" stop-color="#cdcdcd" stop-opacity="0"/></radialGradient><ellipse cx="64" cy="214.5" rx="8" ry="5" transform="rotate(0 64 214.5)" fill="url(#g5)"/>
<path d="M70.97,214.04 C70.8,212.6 73.42,211.18 75.25,210.48 C77.09,209.78 79.75,209.9 82,209.85 C84.26,209.81 86.97,209.82 88.81,210.21 C90.66,210.59 92.37,211.15 93.08,212.18 C93.79,213.2 93.53,215.13 93.06,216.38 C92.59,217.63 91.91,219.13 90.25,219.69 C88.6,220.24 85.44,219.83 83.12,219.73 C80.79,219.62 78.31,220.03 76.29,219.08 C74.27,218.13 71.14,215.47 70.97,214.04Z" fill="#e4e4e4" fill-opacity="1" stroke="none"/>
<path d="M77.53,214.48 C77.42,213.61 78.9,212.62 80.03,212.13 C81.16,211.63 82.85,211.57 84.31,211.5 C85.77,211.42 87.58,211.45 88.78,211.69 C89.98,211.94 91.03,212.28 91.52,212.97 C92.02,213.66 92,215.02 91.75,215.84 C91.49,216.67 91.15,217.58 90,217.94 C88.84,218.3 86.38,218.12 84.83,218.02 C83.28,217.92 81.91,217.94 80.7,217.35 C79.48,216.76 77.64,215.35 77.53,214.48Z" fill="#cdcdcd" fill-opacity="0.9" stroke="none"/>
<path d="M81.47,214.53 C81.4,213.95 82.34,213.37 83.09,213.07 C83.84,212.77 84.99,212.77 85.95,212.73 C86.91,212.7 88.06,212.69 88.84,212.86 C89.63,213.03 90.37,213.27 90.67,213.73 C90.97,214.18 90.83,215.1 90.63,215.59 C90.43,216.09 90.14,216.47 89.46,216.7 C88.78,216.93 87.54,216.99 86.54,216.96 C85.55,216.94 84.34,216.96 83.49,216.56 C82.64,216.15 81.53,215.11 81.47,214.53Z" fill="#afafaf" fill-opacity="0.9" stroke="none"/>
<path d="M70.97,214.04 C70.8,212.6 73.42,211.18 75.25,210.48 C77.09,209.78 79.75,209.9 82,209.85 C84.26,209.81 86.97,209.82 88.81,210.21 C90.66,210.59 92.37,211.15 93.08,212.18 C93.79,213.2 93.53,215.13 93.06,216.38 C92.59,217.63 91.91,219.13 90.25,219.69 C88.6,220.24 85.44,219.83 83.12,219.73 C80.79,219.62 78.31,220.03 76.29,219.08 C74.27,218.13 71.14,215.47 70.97,214.04Z" fill="none" stroke="#a5a5a5" stroke-width="0.55"/>
<path d="M74.57,214.22 C74.42,213.09 76.08,211.73 77.54,211.13 C78.99,210.52 81.44,210.61 83.31,210.59 C85.18,210.57 87.32,210.67 88.75,211 C90.18,211.32 91.28,211.65 91.87,212.54 C92.47,213.43 92.61,215.31 92.31,216.32 C92.02,217.34 91.48,218.18 90.11,218.63 C88.74,219.08 86.04,219.16 84.1,219.04 C82.16,218.92 80.07,218.7 78.48,217.89 C76.89,217.09 74.73,215.34 74.57,214.22Z" fill="none" stroke="#9a9a9a" stroke-width="0.55"/>
<path d="M77.53,214.48 C77.42,213.61 78.9,212.62 80.03,212.13 C81.16,211.63 82.85,211.57 84.31,211.5 C85.77,211.42 87.58,211.45 88.78,211.69 C89.98,211.94 91.03,212.28 91.52,212.97 C92.02,213.66 92,215.02 91.75,215.84 C91.49,216.67 91.15,217.58 90,217.94 C88.84,218.3 86.38,218.12 84.83,218.02 C83.28,217.92 81.91,217.94 80.7,217.35 C79.48,216.76 77.64,215.35 77.53,214.48Z" fill="none" stroke="#8f8f8f" stroke-width="0.55"/>
<path d="M79.8,214.36 C79.69,213.66 80.64,213 81.57,212.64 C82.5,212.27 84.17,212.21 85.37,212.17 C86.56,212.13 87.79,212.18 88.74,212.39 C89.69,212.61 90.69,212.91 91.06,213.45 C91.43,213.98 91.21,214.99 90.95,215.59 C90.69,216.2 90.36,216.78 89.51,217.07 C88.67,217.37 87.1,217.4 85.89,217.36 C84.67,217.32 83.24,217.33 82.23,216.83 C81.22,216.33 79.91,215.06 79.8,214.36Z" fill="none" stroke="#848484" stroke-width="0.55"/>
<path d="M81.47,214.53 C81.4,213.95 82.34,213.37 83.09,213.07 C83.84,212.77 84.99,212.77 85.95,212.73 C86.91,212.7 88.06,212.69 88.84,212.86 C89.63,213.03 90.37,213.27 90.67,213.73 C90.97,214.18 90.83,215.1 90.63,215.59 C90.43,216.09 90.14,216.47 89.46,216.7 C88.78,216.93 87.54,216.99 86.54,216.96 C85.55,216.94 84.34,216.96 83.49,216.56 C82.64,216.15 81.53,215.11 81.47,214.53Z" fill="none" stroke="#797979" stroke-width="0.55"/>
<path d="M83.04,214.49 C83,214.04 83.85,213.59 84.46,213.36 C85.06,213.12 85.92,213.09 86.66,213.08 C87.4,213.07 88.31,213.17 88.91,213.31 C89.51,213.45 90.01,213.56 90.25,213.9 C90.5,214.24 90.49,214.94 90.38,215.35 C90.26,215.75 90.13,216.13 89.57,216.34 C89.02,216.54 87.86,216.63 87.04,216.58 C86.22,216.53 85.34,216.39 84.67,216.04 C84,215.7 83.07,214.94 83.04,214.49Z" fill="none" stroke="#6e6e6e" stroke-width="0.55"/>
<path d="M67.86,233.11 C68.59,231.45 70.45,229.42 72.11,228.21 C73.77,227 75.7,226.07 77.81,225.84 C79.92,225.61 82.82,226.1 84.79,226.84 C86.76,227.58 88.94,228.61 89.64,230.28 C90.35,231.94 89.23,234.71 89.02,236.83 C88.81,238.94 89.18,241.34 88.38,242.96 C87.57,244.58 86.15,246.25 84.2,246.57 C82.26,246.88 78.94,245.59 76.71,244.87 C74.47,244.14 72.29,243.34 70.79,242.22 C69.28,241.11 68.17,239.7 67.69,238.18 C67.2,236.67 67.12,234.77 67.86,233.11Z" fill="#f3f3f3" fill-opacity="1" stroke="none"/>
<path d="M67.86,233.11 C68.59,231.45 70.45,229.42 72.11,228.21 C73.77,227 75.7,226.07 77.81,225.84 C79.92,225.61 82.82,226.1 84.79,226.84 C86.76,227.58 88.94,228.61 89.64,230.28 C90.35,231.94 89.23,234.71 89.02,236.83 C88.81,238.94 89.18,241.34 88.38,242.96 C87.57,244.58 86.15,246.25 84.2,246.57 C82.26,246.88 78.94,245.59 76.71,244.87 C74.47,244.14 72.29,243.34 70.79,242.22 C69.28,241.11 68.17,239.7 67.69,238.18 C67.2,236.67 67.12,234.77 67.86,233.11Z" fill="none" stroke="#afafaf" stroke-width="0.6"/>
<path d="M71.22,234.23 C71.82,233.03 73,231.48 74.15,230.65 C75.31,229.81 76.65,229.35 78.17,229.23 C79.7,229.11 81.91,229.4 83.31,229.91 C84.72,230.42 86.12,231.11 86.59,232.29 C87.06,233.47 86.28,235.49 86.14,236.97 C86,238.45 86.33,239.99 85.76,241.15 C85.19,242.32 84.07,243.69 82.74,243.97 C81.41,244.25 79.35,243.39 77.77,242.84 C76.19,242.3 74.46,241.55 73.26,240.71 C72.06,239.87 70.9,238.88 70.56,237.8 C70.22,236.72 70.62,235.42 71.22,234.23Z" fill="none" stroke="#a6a6a6" stroke-width="0.6"/>
<path d="M73.28,234.83 C73.68,233.98 74.42,232.93 75.28,232.34 C76.13,231.75 77.26,231.38 78.4,231.28 C79.55,231.19 81.16,231.39 82.14,231.78 C83.13,232.17 84,232.77 84.33,233.63 C84.65,234.48 84.18,235.84 84.1,236.92 C84.02,237.99 84.27,239.23 83.83,240.07 C83.39,240.91 82.41,241.8 81.46,241.97 C80.51,242.15 79.19,241.49 78.1,241.11 C77.01,240.74 75.79,240.34 74.92,239.73 C74.05,239.11 73.17,238.22 72.9,237.41 C72.62,236.59 72.88,235.67 73.28,234.83Z" fill="none" stroke="#9e9e9e" stroke-width="0.6"/>
<path d="M74.96,235.58 C75.25,234.94 75.81,234 76.42,233.56 C77.03,233.13 77.79,233.01 78.61,232.98 C79.43,232.94 80.62,233.06 81.33,233.34 C82.03,233.61 82.62,234.03 82.85,234.65 C83.08,235.27 82.77,236.27 82.7,237.05 C82.64,237.83 82.77,238.75 82.46,239.35 C82.16,239.94 81.6,240.48 80.89,240.6 C80.18,240.71 79,240.3 78.19,240.01 C77.38,239.73 76.62,239.32 76.03,238.89 C75.45,238.46 74.85,237.97 74.68,237.42 C74.5,236.87 74.67,236.23 74.96,235.58Z" fill="none" stroke="#969696" stroke-width="0.6"/>
<circle cx="79" cy="237.5" r="1.3" fill="none" stroke="#aaa" stroke-width="0.5"/>
<path d="M94.26,228.12 C94.82,226.18 96.24,225.14 97.59,224.46 C98.94,223.79 101.02,223.45 102.36,224.05 C103.7,224.66 105.05,226.09 105.64,228.1 C106.23,230.1 106,233.43 105.88,236.11 C105.76,238.79 105.37,241.8 104.94,244.17 C104.5,246.54 104.05,248.88 103.27,250.33 C102.49,251.79 101.39,252.86 100.24,252.91 C99.09,252.97 97.25,252.2 96.36,250.68 C95.46,249.16 95.23,246.22 94.88,243.79 C94.52,241.36 94.33,238.71 94.23,236.1 C94.13,233.49 93.7,230.06 94.26,228.12Z" fill="#dedede" fill-opacity="1" stroke="none"/>
<path d="M95.85,230.78 C96.24,229.38 97.11,228.3 98.09,227.8 C99.07,227.3 100.83,227.35 101.75,227.79 C102.68,228.24 103.23,229.06 103.64,230.45 C104.05,231.84 104.23,234.24 104.19,236.13 C104.15,238.02 103.7,240.02 103.39,241.77 C103.08,243.51 102.9,245.52 102.31,246.6 C101.73,247.69 100.69,248.29 99.87,248.27 C99.04,248.25 97.98,247.58 97.38,246.5 C96.77,245.42 96.5,243.49 96.22,241.77 C95.95,240.05 95.81,238.01 95.75,236.18 C95.69,234.35 95.46,232.17 95.85,230.78Z" fill="#cdcdcd" fill-opacity="0.9" stroke="none"/>
<path d="M94.26,228.12 C94.82,226.18 96.24,225.14 97.59,224.46 C98.94,223.79 101.02,223.45 102.36,224.05 C103.7,224.66 105.05,226.09 105.64,228.1 C106.23,230.1 106,233.43 105.88,236.11 C105.76,238.79 105.37,241.8 104.94,244.17 C104.5,246.54 104.05,248.88 103.27,250.33 C102.49,251.79 101.39,252.86 100.24,252.91 C99.09,252.97 97.25,252.2 96.36,250.68 C95.46,249.16 95.23,246.22 94.88,243.79 C94.52,241.36 94.33,238.71 94.23,236.1 C94.13,233.49 93.7,230.06 94.26,228.12Z" fill="none" stroke="#a0a0a0" stroke-width="0.55"/>
<path d="M95.13,229.52 C95.59,227.85 96.52,226.74 97.63,226.17 C98.74,225.6 100.62,225.56 101.81,226.1 C103,226.64 104.21,227.72 104.78,229.39 C105.35,231.06 105.31,233.85 105.21,236.13 C105.11,238.41 104.55,241.07 104.17,243.07 C103.8,245.07 103.66,246.9 102.95,248.14 C102.25,249.38 100.99,250.51 99.96,250.51 C98.94,250.51 97.52,249.41 96.82,248.14 C96.12,246.87 96.06,244.89 95.74,242.89 C95.42,240.89 95,238.36 94.89,236.14 C94.79,233.91 94.68,231.18 95.13,229.52Z" fill="none" stroke="#989898" stroke-width="0.55"/>
<path d="M95.85,230.78 C96.24,229.38 97.11,228.3 98.09,227.8 C99.07,227.3 100.83,227.35 101.75,227.79 C102.68,228.24 103.23,229.06 103.64,230.45 C104.05,231.84 104.23,234.24 104.19,236.13 C104.15,238.02 103.7,240.02 103.39,241.77 C103.08,243.51 102.9,245.52 102.31,246.6 C101.73,247.69 100.69,248.29 99.87,248.27 C99.04,248.25 97.98,247.58 97.38,246.5 C96.77,245.42 96.5,243.49 96.22,241.77 C95.95,240.05 95.81,238.01 95.75,236.18 C95.69,234.35 95.46,232.17 95.85,230.78Z" fill="none" stroke="#909090" stroke-width="0.55"/>
<path d="M96.67,231.82 C96.99,230.65 97.38,229.68 98.16,229.29 C98.94,228.89 100.56,229.03 101.35,229.44 C102.14,229.85 102.53,230.58 102.89,231.74 C103.25,232.9 103.54,234.81 103.51,236.38 C103.48,237.95 102.95,239.75 102.71,241.17 C102.46,242.6 102.52,244.05 102.03,244.92 C101.53,245.78 100.44,246.36 99.73,246.37 C99.02,246.38 98.28,245.87 97.77,244.99 C97.25,244.11 96.89,242.55 96.63,241.11 C96.37,239.67 96.19,237.89 96.19,236.34 C96.2,234.79 96.34,233 96.67,231.82Z" fill="none" stroke="#888888" stroke-width="0.55"/>
<path d="M97.15,232.54 C97.4,231.57 97.81,231.09 98.44,230.76 C99.07,230.43 100.3,230.28 100.95,230.55 C101.6,230.83 102.07,231.44 102.35,232.41 C102.63,233.39 102.65,235.09 102.65,236.42 C102.65,237.76 102.55,239.19 102.35,240.41 C102.14,241.64 101.83,243 101.42,243.75 C101,244.5 100.43,244.92 99.87,244.9 C99.32,244.89 98.53,244.41 98.08,243.68 C97.64,242.95 97.36,241.7 97.18,240.51 C97,239.33 97,237.91 96.99,236.58 C96.99,235.25 96.91,233.52 97.15,232.54Z" fill="none" stroke="#808080" stroke-width="0.55"/>
<path d="M97.41,233.32 C97.64,232.49 98.05,231.9 98.63,231.62 C99.21,231.34 100.3,231.4 100.87,231.66 C101.44,231.92 101.84,232.36 102.08,233.19 C102.32,234.01 102.38,235.47 102.32,236.61 C102.27,237.75 101.93,239.04 101.74,240.04 C101.54,241.04 101.51,242.01 101.17,242.61 C100.82,243.2 100.15,243.58 99.65,243.59 C99.15,243.61 98.54,243.31 98.17,242.69 C97.8,242.07 97.59,240.88 97.44,239.87 C97.29,238.85 97.28,237.68 97.27,236.59 C97.26,235.5 97.18,234.15 97.41,233.32Z" fill="none" stroke="#787878" stroke-width="0.55"/>
<rect x="55.3" y="208" width="39" height="14.4" stroke="#000" stroke-width="1.5" fill="none"/>
<rect x="55.3" y="222.4" width="37.1" height="46.5" stroke="#000" stroke-width="1.5" fill="none"/>
<rect x="92.4" y="222.4" width="15.6" height="46.5" stroke="#000" stroke-width="1.5" fill="none"/>
<text x="59.2" y="235" font-size="9" font-weight="bold" text-anchor="start" fill="#000" textLength="15.57" lengthAdjust="spacingAndGlyphs">46.6</text>
<text x="71.8" y="265.9" font-size="9" font-weight="bold" text-anchor="start" fill="#000" textLength="15.57" lengthAdjust="spacingAndGlyphs">34.4</text>
<line x1="120.6" y1="265.13" x2="122.2" y2="265.13" stroke="#444" stroke-width="0.9"/>
<line x1="121.3" y1="261.39" x2="122.2" y2="261.39" stroke="#999" stroke-width="0.5"/>
<line x1="121.3" y1="259.14" x2="122.2" y2="259.14" stroke="#999" stroke-width="0.5"/>
<line x1="121.3" y1="257.64" x2="122.2" y2="257.64" stroke="#999" stroke-width="0.5"/>
<line x1="121.3" y1="256.39" x2="122.2" y2="256.39" stroke="#999" stroke-width="0.5"/>
<line x1="121.3" y1="255.4" x2="122.2" y2="255.4" stroke="#999" stroke-width="0.5"/>
<line x1="121.3" y1="254.52" x2="122.2" y2="254.52" stroke="#999" stroke-width="0.5"/>
<line x1="121.3" y1="253.9" x2="122.2" y2="253.9" stroke="#999" stroke-width="0.5"/>
<line x1="121.3" y1="253.27" x2="122.2" y2="253.27" stroke="#999" stroke-width="0.5"/>
<line x1="120.6" y1="251.26" x2="122.2" y2="251.26" stroke="#444" stroke-width="0.9"/>
<line x1="121.3" y1="247.52" x2="122.2" y2="247.52" stroke="#999" stroke-width="0.5"/>
<line x1="121.3" y1="245.27" x2="122.2" y2="245.27" stroke="#999" stroke-width="0.5"/>
<line x1="121.3" y1="243.77" x2="122.2" y2="243.77" stroke="#999" stroke-width="0.5"/>
<line x1="121.3" y1="242.53" x2="122.2" y2="242.53" stroke="#999" stroke-width="0.5"/>
<line x1="121.3" y1="241.53" x2="122.2" y2="241.53" stroke="#999" stroke-width="0.5"/>
<line x1="121.3" y1="240.65" x2="122.2" y2="240.65" stroke="#999" stroke-width="0.5"/>
<line x1="121.3" y1="240.03" x2="122.2" y2="240.03" stroke="#999" stroke-width="0.5"/>
<line x1="121.3" y1="239.41" x2="122.2" y2="239.41" stroke="#999" stroke-width="0.5"/>
<line x1="120.6" y1="237.4" x2="122.2" y2="237.4" stroke="#444" stroke-width="0.9"/>
<line x1="121.3" y1="233.65" x2="122.2" y2="233.65" stroke="#999" stroke-width="0.5"/>
<line x1="121.3" y1="231.4" x2="122.2" y2="231.4" stroke="#999" stroke-width="0.5"/>
<line x1="121.3" y1="229.91" x2="122.2" y2="229.91" stroke="#999" stroke-width="0.5"/>
<line x1="121.3" y1="228.66" x2="122.2" y2="228.66" stroke="#999" stroke-width="0.5"/>
<line x1="121.3" y1="227.66" x2="122.2" y2="227.66" stroke="#999" stroke-width="0.5"/>
<line x1="121.3" y1="226.79" x2="122.2" y2="226.79" stroke="#999" stroke-width="0.5"/>
<line x1="121.3" y1="226.16" x2="122.2" y2="226.16" stroke="#999" stroke-width="0.5"/>
<line x1="121.3" y1="225.54" x2="122.2" y2="225.54" stroke="#999" stroke-width="0.5"/>
<line x1="120.6" y1="223.53" x2="122.2" y2="223.53" stroke="#444" stroke-width="0.9"/>
<line x1="121.3" y1="219.78" x2="122.2" y2="219.78" stroke="#999" stroke-width="0.5"/>
<line x1="121.3" y1="217.54" x2="122.2" y2="217.54" stroke="#999" stroke-width="0.5"/>
<line x1="121.3" y1="216.04" x2="122.2" y2="216.04" stroke="#999" stroke-width="0.5"/>
<line x1="121.3" y1="214.79" x2="122.2" y2="214.79" stroke="#999" stroke-width="0.5"/>
<line x1="121.3" y1="213.79" x2="122.2" y2="213.79" stroke="#999" stroke-width="0.5"/>
<line x1="121.3" y1="212.92" x2="122.2" y2="212.92" stroke="#999" stroke-width="0.5"/>
<line x1="121.3" y1="212.29" x2="122.2" y2="212.29" stroke="#999" stroke-width="0.5"/>
<line x1="121.3" y1="211.67" x2="122.2" y2="211.67" stroke="#999" stroke-width="0.5"/>
<line x1="120.6" y1="209.66" x2="122.2" y2="209.66" stroke="#444" stroke-width="0.9"/>
<line x1="121.3" y1="205.92" x2="122.2" y2="205.92" stroke="#999" stroke-width="0.5"/>
<line x1="125.83" y1="269" x2="125.83" y2="270.6" stroke="#444" stroke-width="0.9"/>
<line x1="129.34" y1="269" x2="129.34" y2="269.9" stroke="#999" stroke-width="0.5"/>
<line x1="131.45" y1="269" x2="131.45" y2="269.9" stroke="#999" stroke-width="0.5"/>
<line x1="132.85" y1="269" x2="132.85" y2="269.9" stroke="#999" stroke-width="0.5"/>
<line x1="134.02" y1="269" x2="134.02" y2="269.9" stroke="#999" stroke-width="0.5"/>
<line x1="134.96" y1="269" x2="134.96" y2="269.9" stroke="#999" stroke-width="0.5"/>
<line x1="135.78" y1="269" x2="135.78" y2="269.9" stroke="#999" stroke-width="0.5"/>
<line x1="136.37" y1="269" x2="136.37" y2="269.9" stroke="#999" stroke-width="0.5"/>
<line x1="136.95" y1="269" x2="136.95" y2="269.9" stroke="#999" stroke-width="0.5"/>
<line x1="138.84" y1="269" x2="138.84" y2="270.6" stroke="#444" stroke-width="0.9"/>
<line x1="142.35" y1="269" x2="142.35" y2="269.9" stroke="#999" stroke-width="0.5"/>
<line x1="144.46" y1="269" x2="144.46" y2="269.9" stroke="#999" stroke-width="0.5"/>
<line x1="145.86" y1="269" x2="145.86" y2="269.9" stroke="#999" stroke-width="0.5"/>
<line x1="147.03" y1="269" x2="147.03" y2="269.9" stroke="#999" stroke-width="0.5"/>
<line x1="147.97" y1="269" x2="147.97" y2="269.9" stroke="#999" stroke-width="0.5"/>
<line x1="148.79" y1="269" x2="148.79" y2="269.9" stroke="#999" stroke-width="0.5"/>
<line x1="149.37" y1="269" x2="149.37" y2="269.9" stroke="#999" stroke-width="0.5"/>
<line x1="149.96" y1="269" x2="149.96" y2="269.9" stroke="#999" stroke-width="0.5"/>
<line x1="151.84" y1="269" x2="151.84" y2="270.6" stroke="#444" stroke-width="0.9"/>
<line x1="155.36" y1="269" x2="155.36" y2="269.9" stroke="#999" stroke-width="0.5"/>
<line x1="157.46" y1="269" x2="157.46" y2="269.9" stroke="#999" stroke-width="0.5"/>
<line x1="158.87" y1="269" x2="158.87" y2="269.9" stroke="#999" stroke-width="0.5"/>
<line x1="160.04" y1="269" x2="160.04" y2="269.9" stroke="#999" stroke-width="0.5"/>
<line x1="160.98" y1="269" x2="160.98" y2="269.9" stroke="#999" stroke-width="0.5"/>
<line x1="161.8" y1="269" x2="161.8" y2="269.9" stroke="#999" stroke-width="0.5"/>
<line x1="162.38" y1="269" x2="162.38" y2="269.9" stroke="#999" stroke-width="0.5"/>
<line x1="162.97" y1="269" x2="162.97" y2="269.9" stroke="#999" stroke-width="0.5"/>
<line x1="164.85" y1="269" x2="164.85" y2="270.6" stroke="#444" stroke-width="0.9"/>
<line x1="168.36" y1="269" x2="168.36" y2="269.9" stroke="#999" stroke-width="0.5"/>
<line x1="170.47" y1="269" x2="170.47" y2="269.9" stroke="#999" stroke-width="0.5"/>
<line x1="171.88" y1="269" x2="171.88" y2="269.9" stroke="#999" stroke-width="0.5"/>
<line x1="173.05" y1="269" x2="173.05" y2="269.9" stroke="#999" stroke-width="0.5"/>
<line x1="173.98" y1="269" x2="173.98" y2="269.9" stroke="#999" stroke-width="0.5"/>
<line x1="174.8" y1="269" x2="174.8" y2="269.9" stroke="#999" stroke-width="0.5"/>
<line x1="175.39" y1="269" x2="175.39" y2="269.9" stroke="#999" stroke-width="0.5"/>
<line x1="175.97" y1="269" x2="175.97" y2="269.9" stroke="#999" stroke-width="0.5"/>
<line x1="177.86" y1="269" x2="177.86" y2="270.6" stroke="#444" stroke-width="0.9"/>
<line x1="181.37" y1="269" x2="181.37" y2="269.9" stroke="#999" stroke-width="0.5"/>
<rect x="122.2" y="204.5" width="60.5" height="64.5" stroke="#555" stroke-width="1" fill="none"/>
<rect x="129.28" y="254.97" width="0.7" height="0.7" fill="#b9b9b9" fill-opacity="0.7"/>
<rect x="144.32" y="246.12" width="0.7" height="0.7" fill="#b9b9b9" fill-opacity="0.7"/>
<rect x="130.91" y="259.29" width="0.7" height="0.7" fill="#b9b9b9" fill-opacity="0.7"/>
<rect x="149.85" y="247.52" width="0.7" height="0.7" fill="#b9b9b9" fill-opacity="0.7"/>
<rect x="140.16" y="235.91" width="0.7" height="0.7" fill="#b9b9b9" fill-opacity="0.7"/>
<rect x="124.1" y="241.58" width="0.7" height="0.7" fill="#b9b9b9" fill-opacity="0.7"/>
<rect x="142.73" y="228.91" width="0.7" height="0.7" fill="#b9b9b9" fill-opacity="0.7"/>
<rect x="149.4" y="235.75" width="0.7" height="0.7" fill="#b9b9b9" fill-opacity="0.7"/>
<rect x="131.45" y="227.78" width="0.7" height="0.7" fill="#b9b9b9" fill-opacity="0.7"/>
<rect x="155.92" y="257.02" width="0.7" height="0.7" fill="#b9b9b9" fill-opacity="0.7"/>
<rect x="152" y="251.87" width="0.7" height="0.7" fill="#b9b9b9" fill-opacity="0.7"/>
<rect x="125.09" y="239.82" width="0.7" height="0.7" fill="#b9b9b9" fill-opacity="0.7"/>
<rect x="139.92" y="230.86" width="0.7" height="0.7" fill="#b9b9b9" fill-opacity="0.7"/>
<rect x="154.46" y="241.47" width="0.7" height="0.7" fill="#b9b9b9" fill-opacity="0.7"/>
<rect x="128.95" y="260.34" width="0.7" height="0.7" fill="#b9b9b9" fill-opacity="0.7"/>
<rect x="128" y="264.97" width="0.7" height="0.7" fill="#b9b9b9" fill-opacity="0.7"/>
<rect x="138.5" y="249.18" width="0.7" height="0.7" fill="#b9b9b9" fill-opacity="0.7"/>
<rect x="134.97" y="246.36" width="0.7" height="0.7" fill="#b9b9b9" fill-opacity="0.7"/>
<rect x="129.98" y="227.56" width="0.7" height="0.7" fill="#b9b9b9" fill-opacity="0.7"/>
<rect x="151.71" y="235.86" width="0.7" height="0.7" fill="#b9b9b9" fill-opacity="0.7"/>
<rect x="148.97" y="234.76" width="0.7" height="0.7" fill="#b9b9b9" fill-opacity="0.7"/>
<rect x="155" y="263.55" width="0.7" height="0.7" fill="#b9b9b9" fill-opacity="0.7"/>
<rect x="148.15" y="258.04" width="0.7" height="0.7" fill="#b9b9b9" fill-opacity="0.7"/>
<rect x="142.58" y="256.65" width="0.7" height="0.7" fill="#b9b9b9" fill-opacity="0.7"/>
<rect x="127.92" y="246.01" width="0.7" height="0.7" fill="#b9b9b9" fill-opacity="0.7"/>
<rect x="150.46" y="234.45" width="0.7" height="0.7" fill="#b9b9b9" fill-opacity="0.7"/>
<rect x="153.54" y="263.28" width="0.7" height="0.7" fill="#b9b9b9" fill-opacity="0.7"/>
<rect x="137.11" y="241.34" width="0.7" height="0.7" fill="#b9b9b9" fill-opacity="0.7"/>
<rect x="138.44" y="242.2" width="0.7" height="0.7" fill="#b9b9b9" fill-opacity="0.7"/>
<rect x="155.83" y="242.24" width="0.7" height="0.7" fill="#b9b9b9" fill-opacity="0.7"/>
<rect x="124.86" y="229.92" width="0.7" height="0.7" fill="#b9b9b9" fill-opacity="0.7"/>
<rect x="146.98" y="267.7" width="0.7" height="0.7" fill="#b9b9b9" fill-opacity="0.7"/>
<rect x="139.87" y="246.64" width="0.7" height="0.7" fill="#b9b9b9" fill-opacity="0.7"/>
<rect x="141.61" y="257.42" width="0.7" height="0.7" fill="#b9b9b9" fill-opacity="0.7"/>
<rect x="131.11" y="251.57" width="0.7" height="0.7" fill="#b9b9b9" fill-opacity="0.7"/>
<rect x="141.81" y="252.15" width="0.7" height="0.7" fill="#b9b9b9" fill-opacity="0.7"/>
<rect x="129.78" y="233.14" width="0.7" height="0.7" fill="#b9b9b9" fill-opacity="0.7"/>
<rect x="135.14" y="264.94" width="0.7" height="0.7" fill="#b9b9b9" fill-opacity="0.7"/>
<rect x="135.09" y="251.08" width="0.7" height="0.7" fill="#b9b9b9" fill-opacity="0.7"/>
<rect x="133.81" y="230.34" width="0.7" height="0.7" fill="#b9b9b9" fill-opacity="0.7"/>
<rect x="126.1" y="260.18" width="0.7" height="0.7" fill="#b9b9b9" fill-opacity="0.7"/>
<rect x="148.86" y="241.74" width="0.7" height="0.7" fill="#b9b9b9" fill-opacity="0.7"/>
<rect x="145.87" y="254.39" width="0.7" height="0.7" fill="#b9b9b9" fill-opacity="0.7"/>
<rect x="152.76" y="266.25" width="0.7" height="0.7" fill="#b9b9b9" fill-opacity="0.7"/>
<rect x="137.02" y="267.54" width="0.7" height="0.7" fill="#b9b9b9" fill-opacity="0.7"/>
<rect x="154.77" y="250.8" width="0.7" height="0.7" fill="#b9b9b9" fill-opacity="0.7"/>
<rect x="152.26" y="246.62" width="0.7" height="0.7" fill="#b9b9b9" fill-opacity="0.7"/>
<rect x="136.02" y="236.38" width="0.7" height="0.7" fill="#b9b9b9" fill-opacity="0.7"/>
<rect x="152.04" y="232.82" width="0.7" height="0.7" fill="#b9b9b9" fill-opacity="0.7"/>
<rect x="126.22" y="259.82" width="0.7" height="0.7" fill="#b9b9b9" fill-opacity="0.7"/>
<rect x="148.77" y="246.29" width="0.7" height="0.7" fill="#b9b9b9" fill-opacity="0.7"/>
<rect x="150.78" y="228.19" width="0.7" height="0.7" fill="#b9b9b9" fill-opacity="0.7"/>
<rect x="132.26" y="238.17" width="0.7" height="0.7" fill="#b9b9b9" fill-opacity="0.7"/>
<rect x="137.43" y="233.17" width="0.7" height="0.7" fill="#b9b9b9" fill-opacity="0.7"/>
<rect x="126.22" y="240.2" width="0.7" height="0.7" fill="#b9b9b9" fill-opacity="0.7"/>
<rect x="152.77" y="267.3" width="0.7" height="0.7" fill="#b9b9b9" fill-opacity="0.7"/>
<rect x="147.87" y="246.12" width="0.7" height="0.7" fill="#b9b9b9" fill-opacity="0.7"/>
<rect x="132.07" y="266.27" width="0.7" height="0.7" fill="#b9b9b9" fill-opacity="0.7"/>
<rect x="140.82" y="256.6" width="0.7" height="0.7" fill="#b9b9b9" fill-opacity="0.7"/>
<rect x="124.91" y="234.91" width="0.7" height="0.7" fill="#b9b9b9" fill-opacity="0.7"/>
<clipPath id="k6"><rect x="122.2" y="209.1" width="35.3" height="15.6"/></clipPath><g clip-path="url(#k6)">
<rect x="122.2" y="209.1" width="35.3" height="15.6" fill="#d4d4d4"/>
<radialGradient id="g7"><stop offset="0" stop-color="#787878" stop-opacity="0.75"/><stop offset="1" stop-color="#787878" stop-opacity="0"/></radialGradient><ellipse cx="147" cy="213.5" rx="10" ry="3.8" transform="rotate(0 147 213.5)" fill="url(#g7)"/>
<radialGradient id="g8"><stop offset="0" stop-color="#a0a0a0" stop-opacity="0.5"/><stop offset="1" stop-color="#a0a0a0" stop-opacity="0"/></radialGradient><ellipse cx="133" cy="219" rx="10" ry="4" transform="rotate(0 133 219)" fill="url(#g8)"/>
<path d="M125,216.5 C128,214.5 131,218.5 134,216.5 S140,218.5 143,216.8 S150,217.5 154,216.5" fill="none" stroke="#f5f5f5" stroke-width="1" stroke-opacity="0.85" stroke-linecap="round"/>
<path d="M126,219.8 C131,221.5 136,219.2 141,220.6 S150,220.5 155,219.8" fill="none" stroke="#e6e6e6" stroke-width="0.8" stroke-opacity="0.7" stroke-linecap="round"/>
<path d="M124,212.5 C130,211.2 136,212.8 141,211.5" fill="none" stroke="#e1e1e1" stroke-width="0.7" stroke-opacity="0.6" stroke-linecap="round"/>
<path d="M123.2,210.62 Q125.2,211.48 127.2,210.72 Q129.63,209.42 132.06,210.53 Q134.46,209.94 136.87,210.59 Q138.72,211.77 140.57,210.98 Q142.12,210.42 143.67,210.89 Q145.8,210.03 147.93,210.34 Q150.28,210.43 152.63,210.65 Q154.14,211.72 155.65,210.93 Q158.52,210.58 161.4,210.39" fill="none" stroke="#969696" stroke-width="0.45" stroke-opacity="0.55"/>
<path d="M123.2,212.6 Q125.94,212.28 128.68,212.78 Q130.32,212.23 131.96,212.59 Q134.7,213.24 137.44,212.23 Q140.19,212.47 142.95,212.75 Q145.52,212.14 148.1,212.33 Q149.98,213.6 151.87,212.31 Q154.07,212.19 156.27,212.74 Q159.1,212.59 161.94,212.92" fill="none" stroke="#969696" stroke-width="0.45" stroke-opacity="0.55"/>
<path d="M123.2,215.27 Q125.88,214.23 128.57,214.97 Q130.25,214.43 131.94,215.05 Q134.43,216.18 136.92,215.5 Q139.71,215.24 142.51,215.14 Q144.95,215.84 147.39,215.3 Q149.41,215.62 151.43,215.41 Q154.38,215.09 157.33,215.59" fill="none" stroke="#969696" stroke-width="0.45" stroke-opacity="0.55"/>
<path d="M123.2,216.94 Q126.01,216.67 128.82,217.1 Q131.01,217.3 133.19,217.25 Q136.13,217.6 139.08,216.91 Q141.46,217.66 143.85,216.98 Q146.63,216.65 149.41,217.23 Q152.22,218.09 155.02,217.26 Q157.83,216.38 160.64,216.72" fill="none" stroke="#969696" stroke-width="0.45" stroke-opacity="0.55"/>
<path d="M123.2,219.59 Q125.9,218.82 128.59,219.67 Q130.98,220.14 133.36,219.26 Q136.05,218.81 138.73,219.91 Q140.8,220.08 142.86,219.84 Q145.1,219.19 147.34,219.86 Q149.84,218.77 152.35,219.48 Q155.14,219.08 157.93,219.93" fill="none" stroke="#969696" stroke-width="0.45" stroke-opacity="0.55"/>
<path d="M123.2,221.55 Q125.36,222.75 127.52,221.29 Q129.09,221.67 130.67,221.6 Q133.18,222.08 135.68,221.32 Q137.49,220.5 139.29,221.27 Q142,222.04 144.71,221.83 Q147.6,220.49 150.48,221.61 Q152.23,220.75 153.99,221.52 Q156.72,220.43 159.45,221.18" fill="none" stroke="#969696" stroke-width="0.45" stroke-opacity="0.55"/>
<path d="M123.2,224.02 Q125.05,222.9 126.9,223.92 Q128.96,223.15 131.03,224.3 Q133.59,223.23 136.15,223.94 Q138.8,223.29 141.45,223.81 Q143.13,225.17 144.81,223.99 Q146.47,224.38 148.13,223.9 Q150.55,223.97 152.96,223.97 Q154.54,223.26 156.11,223.7 Q159.01,222.88 161.92,223.83" fill="none" stroke="#969696" stroke-width="0.45" stroke-opacity="0.55"/>
<path d="M123,222.5 C135,223.5 145,222.2 156,222.8" fill="none" stroke="#969696" stroke-width="0.5"/>
</g>
<path d="M158.77,216.28 C159.3,214.79 161.12,215.8 162.71,215.8 C164.3,215.8 167.16,215.59 168.31,216.27 C169.46,216.96 169.77,218.65 169.59,219.91 C169.41,221.17 168.37,222.84 167.23,223.84 C166.1,224.84 164.05,225.74 162.78,225.89 C161.5,226.05 160.23,226.36 159.56,224.76 C158.89,223.16 158.25,217.78 158.77,216.28Z" fill="#dedede" fill-opacity="1" stroke="none"/>
<path d="M160.97,218.07 C161.31,217.25 162.44,217.61 163.36,217.62 C164.27,217.63 165.82,217.72 166.47,218.13 C167.12,218.53 167.4,219.35 167.25,220.05 C167.1,220.76 166.24,221.82 165.57,222.36 C164.89,222.9 163.92,223.24 163.21,223.27 C162.5,223.3 161.69,223.41 161.32,222.54 C160.94,221.68 160.63,218.89 160.97,218.07Z" fill="#c3c3c3" fill-opacity="0.9" stroke="none"/>
<path d="M158.77,216.28 C159.3,214.79 161.12,215.8 162.71,215.8 C164.3,215.8 167.16,215.59 168.31,216.27 C169.46,216.96 169.77,218.65 169.59,219.91 C169.41,221.17 168.37,222.84 167.23,223.84 C166.1,224.84 164.05,225.74 162.78,225.89 C161.5,226.05 160.23,226.36 159.56,224.76 C158.89,223.16 158.25,217.78 158.77,216.28Z" fill="none" stroke="#afafaf" stroke-width="0.55"/>
<path d="M159.96,217.57 C160.38,216.4 162.08,216.45 163.34,216.42 C164.61,216.4 166.76,216.84 167.55,217.42 C168.33,217.99 168.23,218.92 168.04,219.86 C167.85,220.8 167.24,222.24 166.41,223.04 C165.58,223.83 164,224.56 163.07,224.62 C162.14,224.68 161.35,224.58 160.83,223.4 C160.31,222.23 159.54,218.73 159.96,217.57Z" fill="none" stroke="#a3a3a3" stroke-width="0.55"/>
<path d="M160.97,218.07 C161.31,217.25 162.44,217.61 163.36,217.62 C164.27,217.63 165.82,217.72 166.47,218.13 C167.12,218.53 167.4,219.35 167.25,220.05 C167.1,220.76 166.24,221.82 165.57,222.36 C164.89,222.9 163.92,223.24 163.21,223.27 C162.5,223.3 161.69,223.41 161.32,222.54 C160.94,221.68 160.63,218.89 160.97,218.07Z" fill="none" stroke="#979797" stroke-width="0.55"/>
<path d="M161.56,218.63 C161.81,218 162.86,218.12 163.58,218.11 C164.3,218.09 165.4,218.26 165.88,218.56 C166.35,218.87 166.53,219.43 166.43,219.95 C166.32,220.48 165.75,221.27 165.23,221.71 C164.72,222.14 163.84,222.53 163.32,222.56 C162.8,222.58 162.4,222.54 162.11,221.88 C161.82,221.23 161.32,219.26 161.56,218.63Z" fill="none" stroke="#8c8c8c" stroke-width="0.55"/>
<path d="M161,225.5 L157.8,229.5" stroke="#aaa" stroke-width="0.6"/>
<rect x="122.2" y="209.1" width="35.3" height="15.6" stroke="#000" stroke-width="1.5" fill="none"/>
<rect x="122.2" y="224.7" width="35.3" height="44.3" stroke="#000" stroke-width="1.5" fill="none"/>
<rect x="157.5" y="214.8" width="15.9" height="54.2" stroke="#000" stroke-width="1.5" fill="none"/>
<text x="126.3" y="235.4" font-size="9" font-weight="bold" text-anchor="start" fill="#000" textLength="15.57" lengthAdjust="spacingAndGlyphs">78.1</text>
<text x="146.4" y="265.8" font-size="9" font-weight="bold" text-anchor="start" fill="#000" textLength="8.9" lengthAdjust="spacingAndGlyphs">16</text>
<line x1="190.3" y1="265.13" x2="191.9" y2="265.13" stroke="#444" stroke-width="0.9"/>
<line x1="191" y1="261.39" x2="191.9" y2="261.39" stroke="#999" stroke-width="0.5"/>
<line x1="191" y1="259.14" x2="191.9" y2="259.14" stroke="#999" stroke-width="0.5"/>
<line x1="191" y1="257.64" x2="191.9" y2="257.64" stroke="#999" stroke-width="0.5"/>
<line x1="191" y1="256.39" x2="191.9" y2="256.39" stroke="#999" stroke-width="0.5"/>
<line x1="191" y1="255.4" x2="191.9" y2="255.4" stroke="#999" stroke-width="0.5"/>
<line x1="191" y1="254.52" x2="191.9" y2="254.52" stroke="#999" stroke-width="0.5"/>
<line x1="191" y1="253.9" x2="191.9" y2="253.9" stroke="#999" stroke-width="0.5"/>
<line x1="191" y1="253.27" x2="191.9" y2="253.27" stroke="#999" stroke-width="0.5"/>
<line x1="190.3" y1="251.26" x2="191.9" y2="251.26" stroke="#444" stroke-width="0.9"/>
<line x1="191" y1="247.52" x2="191.9" y2="247.52" stroke="#999" stroke-width="0.5"/>
<line x1="191" y1="245.27" x2="191.9" y2="245.27" stroke="#999" stroke-width="0.5"/>
<line x1="191" y1="243.77" x2="191.9" y2="243.77" stroke="#999" stroke-width="0.5"/>
<line x1="191" y1="242.53" x2="191.9" y2="242.53" stroke="#999" stroke-width="0.5"/>
<line x1="191" y1="241.53" x2="191.9" y2="241.53" stroke="#999" stroke-width="0.5"/>
<line x1="191" y1="240.65" x2="191.9" y2="240.65" stroke="#999" stroke-width="0.5"/>
<line x1="191" y1="240.03" x2="191.9" y2="240.03" stroke="#999" stroke-width="0.5"/>
<line x1="191" y1="239.41" x2="191.9" y2="239.41" stroke="#999" stroke-width="0.5"/>
<line x1="190.3" y1="237.4" x2="191.9" y2="237.4" stroke="#444" stroke-width="0.9"/>
<line x1="191" y1="233.65" x2="191.9" y2="233.65" stroke="#999" stroke-width="0.5"/>
<line x1="191" y1="231.4" x2="191.9" y2="231.4" stroke="#999" stroke-width="0.5"/>
<line x1="191" y1="229.91" x2="191.9" y2="229.91" stroke="#999" stroke-width="0.5"/>
<line x1="191" y1="228.66" x2="191.9" y2="228.66" stroke="#999" stroke-width="0.5"/>
<line x1="191" y1="227.66" x2="191.9" y2="227.66" stroke="#999" stroke-width="0.5"/>
<line x1="191" y1="226.79" x2="191.9" y2="226.79" stroke="#999" stroke-width="0.5"/>
<line x1="191" y1="226.16" x2="191.9" y2="226.16" stroke="#999" stroke-width="0.5"/>
<line x1="191" y1="225.54" x2="191.9" y2="225.54" stroke="#999" stroke-width="0.5"/>
<line x1="190.3" y1="223.53" x2="191.9" y2="223.53" stroke="#444" stroke-width="0.9"/>
<line x1="191" y1="219.78" x2="191.9" y2="219.78" stroke="#999" stroke-width="0.5"/>
<line x1="191" y1="217.54" x2="191.9" y2="217.54" stroke="#999" stroke-width="0.5"/>
<line x1="191" y1="216.04" x2="191.9" y2="216.04" stroke="#999" stroke-width="0.5"/>
<line x1="191" y1="214.79" x2="191.9" y2="214.79" stroke="#999" stroke-width="0.5"/>
<line x1="191" y1="213.79" x2="191.9" y2="213.79" stroke="#999" stroke-width="0.5"/>
<line x1="191" y1="212.92" x2="191.9" y2="212.92" stroke="#999" stroke-width="0.5"/>
<line x1="191" y1="212.29" x2="191.9" y2="212.29" stroke="#999" stroke-width="0.5"/>
<line x1="191" y1="211.67" x2="191.9" y2="211.67" stroke="#999" stroke-width="0.5"/>
<line x1="190.3" y1="209.66" x2="191.9" y2="209.66" stroke="#444" stroke-width="0.9"/>
<line x1="191" y1="205.92" x2="191.9" y2="205.92" stroke="#999" stroke-width="0.5"/>
<line x1="195.51" y1="269" x2="195.51" y2="270.6" stroke="#444" stroke-width="0.9"/>
<line x1="198.99" y1="269" x2="198.99" y2="269.9" stroke="#999" stroke-width="0.5"/>
<line x1="201.09" y1="269" x2="201.09" y2="269.9" stroke="#999" stroke-width="0.5"/>
<line x1="202.48" y1="269" x2="202.48" y2="269.9" stroke="#999" stroke-width="0.5"/>
<line x1="203.65" y1="269" x2="203.65" y2="269.9" stroke="#999" stroke-width="0.5"/>
<line x1="204.58" y1="269" x2="204.58" y2="269.9" stroke="#999" stroke-width="0.5"/>
<line x1="205.39" y1="269" x2="205.39" y2="269.9" stroke="#999" stroke-width="0.5"/>
<line x1="205.97" y1="269" x2="205.97" y2="269.9" stroke="#999" stroke-width="0.5"/>
<line x1="206.55" y1="269" x2="206.55" y2="269.9" stroke="#999" stroke-width="0.5"/>
<line x1="208.43" y1="269" x2="208.43" y2="270.6" stroke="#444" stroke-width="0.9"/>
<line x1="211.92" y1="269" x2="211.92" y2="269.9" stroke="#999" stroke-width="0.5"/>
<line x1="214.01" y1="269" x2="214.01" y2="269.9" stroke="#999" stroke-width="0.5"/>
<line x1="215.41" y1="269" x2="215.41" y2="269.9" stroke="#999" stroke-width="0.5"/>
<line x1="216.57" y1="269" x2="216.57" y2="269.9" stroke="#999" stroke-width="0.5"/>
<line x1="217.5" y1="269" x2="217.5" y2="269.9" stroke="#999" stroke-width="0.5"/>
<line x1="218.31" y1="269" x2="218.31" y2="269.9" stroke="#999" stroke-width="0.5"/>
<line x1="218.89" y1="269" x2="218.89" y2="269.9" stroke="#999" stroke-width="0.5"/>
<line x1="219.48" y1="269" x2="219.48" y2="269.9" stroke="#999" stroke-width="0.5"/>
<line x1="221.35" y1="269" x2="221.35" y2="270.6" stroke="#444" stroke-width="0.9"/>
<line x1="224.84" y1="269" x2="224.84" y2="269.9" stroke="#999" stroke-width="0.5"/>
<line x1="226.93" y1="269" x2="226.93" y2="269.9" stroke="#999" stroke-width="0.5"/>
<line x1="228.33" y1="269" x2="228.33" y2="269.9" stroke="#999" stroke-width="0.5"/>
<line x1="229.49" y1="269" x2="229.49" y2="269.9" stroke="#999" stroke-width="0.5"/>
<line x1="230.42" y1="269" x2="230.42" y2="269.9" stroke="#999" stroke-width="0.5"/>
<line x1="231.23" y1="269" x2="231.23" y2="269.9" stroke="#999" stroke-width="0.5"/>
<line x1="231.82" y1="269" x2="231.82" y2="269.9" stroke="#999" stroke-width="0.5"/>
<line x1="232.4" y1="269" x2="232.4" y2="269.9" stroke="#999" stroke-width="0.5"/>
<line x1="234.27" y1="269" x2="234.27" y2="270.6" stroke="#444" stroke-width="0.9"/>
<line x1="237.76" y1="269" x2="237.76" y2="269.9" stroke="#999" stroke-width="0.5"/>
<line x1="239.85" y1="269" x2="239.85" y2="269.9" stroke="#999" stroke-width="0.5"/>
<line x1="241.25" y1="269" x2="241.25" y2="269.9" stroke="#999" stroke-width="0.5"/>
<line x1="242.41" y1="269" x2="242.41" y2="269.9" stroke="#999" stroke-width="0.5"/>
<line x1="243.34" y1="269" x2="243.34" y2="269.9" stroke="#999" stroke-width="0.5"/>
<line x1="244.16" y1="269" x2="244.16" y2="269.9" stroke="#999" stroke-width="0.5"/>
<line x1="244.74" y1="269" x2="244.74" y2="269.9" stroke="#999" stroke-width="0.5"/>
<line x1="245.32" y1="269" x2="245.32" y2="269.9" stroke="#999" stroke-width="0.5"/>
<line x1="247.19" y1="269" x2="247.19" y2="270.6" stroke="#444" stroke-width="0.9"/>
<line x1="250.68" y1="269" x2="250.68" y2="269.9" stroke="#999" stroke-width="0.5"/>
<rect x="191.9" y="204.5" width="60.1" height="64.5" stroke="#555" stroke-width="1" fill="none"/>
<rect x="193.38" y="232.5" width="0.7" height="0.7" fill="#bebebe" fill-opacity="0.7"/>
<rect x="205.18" y="255.35" width="0.7" height="0.7" fill="#bebebe" fill-opacity="0.7"/>
<rect x="197.3" y="232.5" width="0.7" height="0.7" fill="#bebebe" fill-opacity="0.7"/>
<rect x="200.19" y="258.3" width="0.7" height="0.7" fill="#bebebe" fill-opacity="0.7"/>
<rect x="197.57" y="257.63" width="0.7" height="0.7" fill="#bebebe" fill-opacity="0.7"/>
<rect x="213.53" y="233.46" width="0.7" height="0.7" fill="#bebebe" fill-opacity="0.7"/>
<rect x="209.61" y="245.91" width="0.7" height="0.7" fill="#bebebe" fill-opacity="0.7"/>
<rect x="205.79" y="267.85" width="0.7" height="0.7" fill="#bebebe" fill-opacity="0.7"/>
<rect x="195.89" y="228.81" width="0.7" height="0.7" fill="#bebebe" fill-opacity="0.7"/>
<rect x="222.13" y="244.12" width="0.7" height="0.7" fill="#bebebe" fill-opacity="0.7"/>
<rect x="199.15" y="241.21" width="0.7" height="0.7" fill="#bebebe" fill-opacity="0.7"/>
<rect x="204.31" y="266.2" width="0.7" height="0.7" fill="#bebebe" fill-opacity="0.7"/>
<rect x="199.52" y="236.68" width="0.7" height="0.7" fill="#bebebe" fill-opacity="0.7"/>
<rect x="211.13" y="249.9" width="0.7" height="0.7" fill="#bebebe" fill-opacity="0.7"/>
<rect x="222.57" y="261.55" width="0.7" height="0.7" fill="#bebebe" fill-opacity="0.7"/>
<rect x="204.02" y="236.15" width="0.7" height="0.7" fill="#bebebe" fill-opacity="0.7"/>
<rect x="218.93" y="267.56" width="0.7" height="0.7" fill="#bebebe" fill-opacity="0.7"/>
<rect x="193.94" y="257.4" width="0.7" height="0.7" fill="#bebebe" fill-opacity="0.7"/>
<rect x="219.92" y="254.05" width="0.7" height="0.7" fill="#bebebe" fill-opacity="0.7"/>
<rect x="199.77" y="259.86" width="0.7" height="0.7" fill="#bebebe" fill-opacity="0.7"/>
<rect x="215.62" y="235.75" width="0.7" height="0.7" fill="#bebebe" fill-opacity="0.7"/>
<rect x="212.87" y="236.77" width="0.7" height="0.7" fill="#bebebe" fill-opacity="0.7"/>
<rect x="194.28" y="241.44" width="0.7" height="0.7" fill="#bebebe" fill-opacity="0.7"/>
<rect x="203.36" y="243.85" width="0.7" height="0.7" fill="#bebebe" fill-opacity="0.7"/>
<rect x="213.05" y="261.45" width="0.7" height="0.7" fill="#bebebe" fill-opacity="0.7"/>
<rect x="222.8" y="267.06" width="0.7" height="0.7" fill="#bebebe" fill-opacity="0.7"/>
<rect x="223.8" y="259.59" width="0.7" height="0.7" fill="#bebebe" fill-opacity="0.7"/>
<rect x="202.5" y="235.05" width="0.7" height="0.7" fill="#bebebe" fill-opacity="0.7"/>
<rect x="212.34" y="249.83" width="0.7" height="0.7" fill="#bebebe" fill-opacity="0.7"/>
<rect x="213.91" y="231.74" width="0.7" height="0.7" fill="#bebebe" fill-opacity="0.7"/>
<rect x="198.98" y="264.84" width="0.7" height="0.7" fill="#bebebe" fill-opacity="0.7"/>
<rect x="211.64" y="255.81" width="0.7" height="0.7" fill="#bebebe" fill-opacity="0.7"/>
<rect x="195.97" y="243.97" width="0.7" height="0.7" fill="#bebebe" fill-opacity="0.7"/>
<rect x="221.21" y="253.97" width="0.7" height="0.7" fill="#bebebe" fill-opacity="0.7"/>
<rect x="223.74" y="235.88" width="0.7" height="0.7" fill="#bebebe" fill-opacity="0.7"/>
<rect x="207.1" y="260.02" width="0.7" height="0.7" fill="#bebebe" fill-opacity="0.7"/>
<rect x="206.78" y="259.56" width="0.7" height="0.7" fill="#bebebe" fill-opacity="0.7"/>
<rect x="210.41" y="232.72" width="0.7" height="0.7" fill="#bebebe" fill-opacity="0.7"/>
<rect x="196.06" y="267.32" width="0.7" height="0.7" fill="#bebebe" fill-opacity="0.7"/>
<rect x="196.7" y="235.76" width="0.7" height="0.7" fill="#bebebe" fill-opacity="0.7"/>
<rect x="203.39" y="256.54" width="0.7" height="0.7" fill="#bebebe" fill-opacity="0.7"/>
<rect x="219.48" y="247.03" width="0.7" height="0.7" fill="#bebebe" fill-opacity="0.7"/>
<rect x="208.44" y="259.54" width="0.7" height="0.7" fill="#bebebe" fill-opacity="0.7"/>
<rect x="201.62" y="242.9" width="0.7" height="0.7" fill="#bebebe" fill-opacity="0.7"/>
<rect x="211.99" y="253.45" width="0.7" height="0.7" fill="#bebebe" fill-opacity="0.7"/>
<rect x="194.18" y="232.48" width="0.7" height="0.7" fill="#bebebe" fill-opacity="0.7"/>
<rect x="197.28" y="257.01" width="0.7" height="0.7" fill="#bebebe" fill-opacity="0.7"/>
<rect x="214.48" y="266.93" width="0.7" height="0.7" fill="#bebebe" fill-opacity="0.7"/>
<rect x="216.79" y="238.19" width="0.7" height="0.7" fill="#bebebe" fill-opacity="0.7"/>
<rect x="216.73" y="267.4" width="0.7" height="0.7" fill="#bebebe" fill-opacity="0.7"/>
<clipPath id="k9"><rect x="191.9" y="210.6" width="33.3" height="16"/></clipPath><g clip-path="url(#k9)">
<rect x="191.9" y="210.6" width="33.3" height="16" fill="#d6d6d6"/>
<radialGradient id="g10"><stop offset="0" stop-color="#828282" stop-opacity="0.7"/><stop offset="1" stop-color="#828282" stop-opacity="0"/></radialGradient><ellipse cx="215" cy="216" rx="8" ry="4.5" transform="rotate(0 215 216)" fill="url(#g10)"/>
<radialGradient id="g11"><stop offset="0" stop-color="#aaaaaa" stop-opacity="0.4"/><stop offset="1" stop-color="#aaaaaa" stop-opacity="0"/></radialGradient><ellipse cx="200" cy="219" rx="8" ry="5" transform="rotate(0 200 219)" fill="url(#g11)"/>
<path d="M194,219 C197,216.5 200,221 204,218.5 S211,221.5 215,219.5 S221,219 224,218" fill="none" stroke="#f5f5f5" stroke-width="1" stroke-opacity="0.85" stroke-linecap="round"/>
<path d="M195,222.8 C200,224.5 206,222 212,223.5 S220,223 224,222.5" fill="none" stroke="#e8e8e8" stroke-width="0.8" stroke-opacity="0.7" stroke-linecap="round"/>
<path d="M192.9,211.89 Q194.83,212.54 196.76,211.97 Q199.57,211.02 202.38,212.01 Q204.02,212.48 205.65,211.68 Q208.62,211.28 211.58,211.53 Q213.13,212.88 214.67,212.03 Q216.37,210.96 218.07,211.78 Q220.09,211.59 222.11,211.63 Q225.09,212.14 228.07,212.04" fill="none" stroke="#969696" stroke-width="0.45" stroke-opacity="0.55"/>
<path d="M192.9,214.44 Q195.65,215.08 198.4,214.16 Q201.38,213.83 204.36,214.71 Q207.07,213.6 209.79,214.19 Q212.71,214.19 215.64,214.57 Q218.16,214.32 220.68,214.08 Q223.28,215.28 225.88,214.55" fill="none" stroke="#969696" stroke-width="0.45" stroke-opacity="0.55"/>
<path d="M192.9,216.47 Q194.88,216.71 196.85,216.3 Q198.93,217.46 201.02,216.24 Q202.76,215.86 204.51,216.36 Q206.06,216.1 207.61,216.26 Q209.8,216.69 211.99,216.73 Q213.59,216.03 215.19,216.5 Q216.7,216.78 218.22,216.1 Q220.13,216.52 222.05,216.25 Q224.07,215.87 226.08,216.18" fill="none" stroke="#969696" stroke-width="0.45" stroke-opacity="0.55"/>
<path d="M192.9,218.51 Q194.61,217.36 196.32,218.76 Q198.73,218.94 201.13,218.66 Q203.3,217.43 205.47,218.57 Q207.14,218.84 208.81,218.85 Q211.22,219.48 213.63,218.21 Q215.18,218.83 216.73,218.69 Q218.82,217.59 220.92,218.32 Q222.89,219.21 224.86,218.71" fill="none" stroke="#969696" stroke-width="0.45" stroke-opacity="0.55"/>
<path d="M192.9,220.86 Q195.69,220.53 198.48,220.78 Q200.52,221.48 202.55,220.75 Q204.75,220.3 206.94,220.69 Q209.06,219.97 211.19,220.63 Q213.66,221.87 216.14,220.77 Q218.64,220.64 221.13,220.76 Q222.76,220.14 224.38,221.21" fill="none" stroke="#969696" stroke-width="0.45" stroke-opacity="0.55"/>
<path d="M192.9,223.13 Q195.03,222.19 197.16,222.97 Q199.5,224.16 201.84,222.81 Q203.9,221.95 205.97,222.82 Q207.56,222.3 209.15,222.8 Q211.66,223.88 214.17,223 Q216.43,223.35 218.69,223.21 Q221.34,222.08 223.99,222.78 Q226.89,222.5 229.8,222.93" fill="none" stroke="#969696" stroke-width="0.45" stroke-opacity="0.55"/>
<path d="M192.9,225.52 Q194.78,224.79 196.65,225.15 Q199.54,225.16 202.42,225.21 Q204.62,224.42 206.82,225.49 Q208.46,224.95 210.09,225.88 Q212.64,225.38 215.18,225.82 Q216.68,225.95 218.19,225.21 Q220.5,224.55 222.81,225.44 Q224.72,225.07 226.64,225.3" fill="none" stroke="#969696" stroke-width="0.45" stroke-opacity="0.55"/>
<path d="M193,213.5 C200,212.5 206,214.5 212,213" fill="none" stroke="#aaaaaa" stroke-width="0.5"/>
</g>
<path d="M239.93,224.83 C239.95,226.18 239.64,227.96 239.05,229.05 C238.45,230.15 237.43,230.88 236.38,231.41 C235.33,231.93 233.89,232.16 232.76,232.21 C231.63,232.25 230.57,232.19 229.62,231.67 C228.68,231.14 227.73,230.21 227.09,229.05 C226.45,227.89 225.78,226.03 225.79,224.7 C225.81,223.37 226.6,222.08 227.17,221.08 C227.75,220.08 228.23,219.25 229.23,218.69 C230.24,218.14 231.97,217.77 233.21,217.74 C234.45,217.71 235.72,217.97 236.68,218.5 C237.63,219.03 238.41,219.88 238.95,220.94 C239.49,221.99 239.92,223.48 239.93,224.83Z" fill="#d7d7d7" fill-opacity="1" stroke="none"/>
<path d="M237.03,225.11 C237.04,225.84 236.83,226.67 236.45,227.21 C236.07,227.76 235.33,228.1 234.76,228.38 C234.2,228.66 233.7,228.84 233.05,228.9 C232.41,228.95 231.52,229.02 230.92,228.7 C230.31,228.38 229.77,227.58 229.42,226.99 C229.07,226.4 228.78,225.81 228.82,225.15 C228.87,224.5 229.33,223.68 229.7,223.07 C230.07,222.47 230.47,221.9 231.04,221.53 C231.61,221.16 232.48,220.85 233.12,220.84 C233.77,220.83 234.38,221.12 234.92,221.45 C235.47,221.77 236.04,222.19 236.4,222.8 C236.75,223.41 237.02,224.37 237.03,225.11Z" fill="#afafaf" fill-opacity="0.9" stroke="none"/>
<path d="M235.31,225.09 C235.31,225.51 235.1,225.94 234.9,226.26 C234.69,226.57 234.39,226.82 234.09,226.98 C233.78,227.15 233.44,227.25 233.08,227.26 C232.72,227.26 232.25,227.2 231.93,227.02 C231.6,226.83 231.35,226.47 231.13,226.15 C230.92,225.82 230.65,225.45 230.65,225.07 C230.65,224.69 230.93,224.22 231.15,223.86 C231.37,223.51 231.66,223.15 231.95,222.94 C232.25,222.73 232.56,222.58 232.93,222.6 C233.3,222.63 233.83,222.9 234.16,223.09 C234.49,223.29 234.72,223.44 234.91,223.78 C235.1,224.11 235.32,224.68 235.31,225.09Z" fill="#828282" fill-opacity="0.9" stroke="none"/>
<path d="M239.93,224.83 C239.95,226.18 239.64,227.96 239.05,229.05 C238.45,230.15 237.43,230.88 236.38,231.41 C235.33,231.93 233.89,232.16 232.76,232.21 C231.63,232.25 230.57,232.19 229.62,231.67 C228.68,231.14 227.73,230.21 227.09,229.05 C226.45,227.89 225.78,226.03 225.79,224.7 C225.81,223.37 226.6,222.08 227.17,221.08 C227.75,220.08 228.23,219.25 229.23,218.69 C230.24,218.14 231.97,217.77 233.21,217.74 C234.45,217.71 235.72,217.97 236.68,218.5 C237.63,219.03 238.41,219.88 238.95,220.94 C239.49,221.99 239.92,223.48 239.93,224.83Z" fill="none" stroke="#a5a5a5" stroke-width="0.55"/>
<path d="M238.6,224.83 C238.58,225.78 238.02,226.87 237.47,227.64 C236.93,228.42 236.09,229.06 235.33,229.5 C234.58,229.93 233.79,230.14 232.93,230.25 C232.08,230.36 231.01,230.56 230.23,230.18 C229.44,229.81 228.63,228.86 228.22,228.01 C227.81,227.15 227.71,225.97 227.76,225.03 C227.82,224.09 228.1,223.18 228.55,222.35 C229,221.52 229.71,220.56 230.43,220.05 C231.16,219.54 232.08,219.21 232.92,219.29 C233.77,219.36 234.73,220.04 235.51,220.48 C236.29,220.92 237.1,221.2 237.62,221.93 C238.13,222.65 238.63,223.87 238.6,224.83Z" fill="none" stroke="#979797" stroke-width="0.55"/>
<path d="M237.03,225.11 C237.04,225.84 236.83,226.67 236.45,227.21 C236.07,227.76 235.33,228.1 234.76,228.38 C234.2,228.66 233.7,228.84 233.05,228.9 C232.41,228.95 231.52,229.02 230.92,228.7 C230.31,228.38 229.77,227.58 229.42,226.99 C229.07,226.4 228.78,225.81 228.82,225.15 C228.87,224.5 229.33,223.68 229.7,223.07 C230.07,222.47 230.47,221.9 231.04,221.53 C231.61,221.16 232.48,220.85 233.12,220.84 C233.77,220.83 234.38,221.12 234.92,221.45 C235.47,221.77 236.04,222.19 236.4,222.8 C236.75,223.41 237.02,224.37 237.03,225.11Z" fill="none" stroke="#898989" stroke-width="0.55"/>
<path d="M236.09,224.92 C236.11,225.48 235.96,226.14 235.69,226.61 C235.42,227.08 234.9,227.51 234.45,227.73 C234.01,227.95 233.54,227.95 233.04,227.95 C232.53,227.94 231.88,227.88 231.42,227.68 C230.96,227.48 230.51,227.15 230.28,226.73 C230.04,226.3 229.97,225.67 230.02,225.12 C230.06,224.56 230.28,223.85 230.55,223.39 C230.82,222.94 231.25,222.66 231.65,222.39 C232.06,222.11 232.53,221.77 232.99,221.75 C233.45,221.72 233.96,221.99 234.39,222.25 C234.82,222.5 235.3,222.83 235.58,223.28 C235.87,223.72 236.07,224.37 236.09,224.92Z" fill="none" stroke="#7b7b7b" stroke-width="0.55"/>
<path d="M235.31,225.09 C235.31,225.51 235.1,225.94 234.9,226.26 C234.69,226.57 234.39,226.82 234.09,226.98 C233.78,227.15 233.44,227.25 233.08,227.26 C232.72,227.26 232.25,227.2 231.93,227.02 C231.6,226.83 231.35,226.47 231.13,226.15 C230.92,225.82 230.65,225.45 230.65,225.07 C230.65,224.69 230.93,224.22 231.15,223.86 C231.37,223.51 231.66,223.15 231.95,222.94 C232.25,222.73 232.56,222.58 232.93,222.6 C233.3,222.63 233.83,222.9 234.16,223.09 C234.49,223.29 234.72,223.44 234.91,223.78 C235.1,224.11 235.32,224.68 235.31,225.09Z" fill="none" stroke="#6e6e6e" stroke-width="0.55"/>
<ellipse cx="233.5" cy="224.5" rx="1.1" ry="0.9" fill="#eee"/>
<path d="M215.37,255.58 C215.48,256.24 214.96,256.94 213.99,257.58 C213.02,258.22 211.17,259.11 209.55,259.43 C207.92,259.74 206.04,259.51 204.25,259.47 C202.45,259.43 200.45,259.42 198.77,259.18 C197.08,258.93 195.11,258.63 194.11,258.01 C193.12,257.39 192.7,256.23 192.8,255.47 C192.9,254.7 193.78,254.06 194.72,253.43 C195.66,252.8 196.89,252.1 198.44,251.7 C199.98,251.3 202.14,250.97 204,251 C205.85,251.04 208.02,251.48 209.57,251.92 C211.12,252.35 212.33,252.99 213.29,253.6 C214.26,254.21 215.25,254.92 215.37,255.58Z" fill="none" stroke="#afafaf" stroke-width="0.6"/>
<path d="M208.05,255.51 C208.08,255.75 207.84,255.96 207.47,256.19 C207.1,256.42 206.4,256.78 205.82,256.89 C205.23,257.01 204.55,256.91 203.95,256.9 C203.36,256.88 202.8,256.92 202.22,256.81 C201.64,256.71 200.83,256.47 200.46,256.24 C200.09,256.02 200,255.7 200.02,255.45 C200.04,255.2 200.22,254.96 200.56,254.75 C200.89,254.54 201.49,254.32 202.05,254.19 C202.62,254.05 203.3,253.92 203.93,253.94 C204.56,253.95 205.26,254.13 205.83,254.27 C206.39,254.41 206.95,254.57 207.32,254.78 C207.69,254.98 208.03,255.28 208.05,255.51Z" fill="none" stroke="#bebebe" stroke-width="0.6"/>
<rect x="191.9" y="210.6" width="33.3" height="16" stroke="#000" stroke-width="1.5" fill="none"/>
<rect x="191.9" y="226.6" width="33.3" height="42.4" stroke="#000" stroke-width="1.5" fill="none"/>
<rect x="225.2" y="217.7" width="16.3" height="51.3" stroke="#000" stroke-width="1.5" fill="none"/>
<text x="194.8" y="236.1" font-size="9" font-weight="bold" text-anchor="start" fill="#000" textLength="15.57" lengthAdjust="spacingAndGlyphs">63.3</text>
<text x="206.6" y="265.8" font-size="9" font-weight="bold" text-anchor="start" fill="#000" textLength="15.57" lengthAdjust="spacingAndGlyphs">24.1</text>
<line x1="258.8" y1="265.13" x2="260.4" y2="265.13" stroke="#444" stroke-width="0.9"/>
<line x1="259.5" y1="261.39" x2="260.4" y2="261.39" stroke="#999" stroke-width="0.5"/>
<line x1="259.5" y1="259.14" x2="260.4" y2="259.14" stroke="#999" stroke-width="0.5"/>
<line x1="259.5" y1="257.64" x2="260.4" y2="257.64" stroke="#999" stroke-width="0.5"/>
<line x1="259.5" y1="256.39" x2="260.4" y2="256.39" stroke="#999" stroke-width="0.5"/>
<line x1="259.5" y1="255.4" x2="260.4" y2="255.4" stroke="#999" stroke-width="0.5"/>
<line x1="259.5" y1="254.52" x2="260.4" y2="254.52" stroke="#999" stroke-width="0.5"/>
<line x1="259.5" y1="253.9" x2="260.4" y2="253.9" stroke="#999" stroke-width="0.5"/>
<line x1="259.5" y1="253.27" x2="260.4" y2="253.27" stroke="#999" stroke-width="0.5"/>
<line x1="258.8" y1="251.26" x2="260.4" y2="251.26" stroke="#444" stroke-width="0.9"/>
<line x1="259.5" y1="247.52" x2="260.4" y2="247.52" stroke="#999" stroke-width="0.5"/>
<line x1="259.5" y1="245.27" x2="260.4" y2="245.27" stroke="#999" stroke-width="0.5"/>
<line x1="259.5" y1="243.77" x2="260.4" y2="243.77" stroke="#999" stroke-width="0.5"/>
<line x1="259.5" y1="242.53" x2="260.4" y2="242.53" stroke="#999" stroke-width="0.5"/>
<line x1="259.5" y1="241.53" x2="260.4" y2="241.53" stroke="#999" stroke-width="0.5"/>
<line x1="259.5" y1="240.65" x2="260.4" y2="240.65" stroke="#999" stroke-width="0.5"/>
<line x1="259.5" y1="240.03" x2="260.4" y2="240.03" stroke="#999" stroke-width="0.5"/>
<line x1="259.5" y1="239.41" x2="260.4" y2="239.41" stroke="#999" stroke-width="0.5"/>
<line x1="258.8" y1="237.4" x2="260.4" y2="237.4" stroke="#444" stroke-width="0.9"/>
<line x1="259.5" y1="233.65" x2="260.4" y2="233.65" stroke="#999" stroke-width="0.5"/>
<line x1="259.5" y1="231.4" x2="260.4" y2="231.4" stroke="#999" stroke-width="0.5"/>
<line x1="259.5" y1="229.91" x2="260.4" y2="229.91" stroke="#999" stroke-width="0.5"/>
<line x1="259.5" y1="228.66" x2="260.4" y2="228.66" stroke="#999" stroke-width="0.5"/>
<line x1="259.5" y1="227.66" x2="260.4" y2="227.66" stroke="#999" stroke-width="0.5"/>
<line x1="259.5" y1="226.79" x2="260.4" y2="226.79" stroke="#999" stroke-width="0.5"/>
<line x1="259.5" y1="226.16" x2="260.4" y2="226.16" stroke="#999" stroke-width="0.5"/>
<line x1="259.5" y1="225.54" x2="260.4" y2="225.54" stroke="#999" stroke-width="0.5"/>
<line x1="258.8" y1="223.53" x2="260.4" y2="223.53" stroke="#444" stroke-width="0.9"/>
<line x1="259.5" y1="219.78" x2="260.4" y2="219.78" stroke="#999" stroke-width="0.5"/>
<line x1="259.5" y1="217.54" x2="260.4" y2="217.54" stroke="#999" stroke-width="0.5"/>
<line x1="259.5" y1="216.04" x2="260.4" y2="216.04" stroke="#999" stroke-width="0.5"/>
<line x1="259.5" y1="214.79" x2="260.4" y2="214.79" stroke="#999" stroke-width="0.5"/>
<line x1="259.5" y1="213.79" x2="260.4" y2="213.79" stroke="#999" stroke-width="0.5"/>
<line x1="259.5" y1="212.92" x2="260.4" y2="212.92" stroke="#999" stroke-width="0.5"/>
<line x1="259.5" y1="212.29" x2="260.4" y2="212.29" stroke="#999" stroke-width="0.5"/>
<line x1="259.5" y1="211.67" x2="260.4" y2="211.67" stroke="#999" stroke-width="0.5"/>
<line x1="258.8" y1="209.66" x2="260.4" y2="209.66" stroke="#444" stroke-width="0.9"/>
<line x1="259.5" y1="205.92" x2="260.4" y2="205.92" stroke="#999" stroke-width="0.5"/>
<line x1="263.93" y1="269" x2="263.93" y2="270.6" stroke="#444" stroke-width="0.9"/>
<line x1="267.34" y1="269" x2="267.34" y2="269.9" stroke="#999" stroke-width="0.5"/>
<line x1="269.39" y1="269" x2="269.39" y2="269.9" stroke="#999" stroke-width="0.5"/>
<line x1="270.75" y1="269" x2="270.75" y2="269.9" stroke="#999" stroke-width="0.5"/>
<line x1="271.89" y1="269" x2="271.89" y2="269.9" stroke="#999" stroke-width="0.5"/>
<line x1="272.8" y1="269" x2="272.8" y2="269.9" stroke="#999" stroke-width="0.5"/>
<line x1="273.6" y1="269" x2="273.6" y2="269.9" stroke="#999" stroke-width="0.5"/>
<line x1="274.17" y1="269" x2="274.17" y2="269.9" stroke="#999" stroke-width="0.5"/>
<line x1="274.74" y1="269" x2="274.74" y2="269.9" stroke="#999" stroke-width="0.5"/>
<line x1="276.57" y1="269" x2="276.57" y2="270.6" stroke="#444" stroke-width="0.9"/>
<line x1="279.98" y1="269" x2="279.98" y2="269.9" stroke="#999" stroke-width="0.5"/>
<line x1="282.03" y1="269" x2="282.03" y2="269.9" stroke="#999" stroke-width="0.5"/>
<line x1="283.4" y1="269" x2="283.4" y2="269.9" stroke="#999" stroke-width="0.5"/>
<line x1="284.53" y1="269" x2="284.53" y2="269.9" stroke="#999" stroke-width="0.5"/>
<line x1="285.44" y1="269" x2="285.44" y2="269.9" stroke="#999" stroke-width="0.5"/>
<line x1="286.24" y1="269" x2="286.24" y2="269.9" stroke="#999" stroke-width="0.5"/>
<line x1="286.81" y1="269" x2="286.81" y2="269.9" stroke="#999" stroke-width="0.5"/>
<line x1="287.38" y1="269" x2="287.38" y2="269.9" stroke="#999" stroke-width="0.5"/>
<line x1="289.21" y1="269" x2="289.21" y2="270.6" stroke="#444" stroke-width="0.9"/>
<line x1="292.63" y1="269" x2="292.63" y2="269.9" stroke="#999" stroke-width="0.5"/>
<line x1="294.67" y1="269" x2="294.67" y2="269.9" stroke="#999" stroke-width="0.5"/>
<line x1="296.04" y1="269" x2="296.04" y2="269.9" stroke="#999" stroke-width="0.5"/>
<line x1="297.18" y1="269" x2="297.18" y2="269.9" stroke="#999" stroke-width="0.5"/>
<line x1="298.09" y1="269" x2="298.09" y2="269.9" stroke="#999" stroke-width="0.5"/>
<line x1="298.88" y1="269" x2="298.88" y2="269.9" stroke="#999" stroke-width="0.5"/>
<line x1="299.45" y1="269" x2="299.45" y2="269.9" stroke="#999" stroke-width="0.5"/>
<line x1="300.02" y1="269" x2="300.02" y2="269.9" stroke="#999" stroke-width="0.5"/>
<line x1="301.85" y1="269" x2="301.85" y2="270.6" stroke="#444" stroke-width="0.9"/>
<line x1="305.27" y1="269" x2="305.27" y2="269.9" stroke="#999" stroke-width="0.5"/>
<line x1="307.32" y1="269" x2="307.32" y2="269.9" stroke="#999" stroke-width="0.5"/>
<line x1="308.68" y1="269" x2="308.68" y2="269.9" stroke="#999" stroke-width="0.5"/>
<line x1="309.82" y1="269" x2="309.82" y2="269.9" stroke="#999" stroke-width="0.5"/>
<line x1="310.73" y1="269" x2="310.73" y2="269.9" stroke="#999" stroke-width="0.5"/>
<line x1="311.53" y1="269" x2="311.53" y2="269.9" stroke="#999" stroke-width="0.5"/>
<line x1="312.09" y1="269" x2="312.09" y2="269.9" stroke="#999" stroke-width="0.5"/>
<line x1="312.66" y1="269" x2="312.66" y2="269.9" stroke="#999" stroke-width="0.5"/>
<line x1="314.5" y1="269" x2="314.5" y2="270.6" stroke="#444" stroke-width="0.9"/>
<line x1="317.91" y1="269" x2="317.91" y2="269.9" stroke="#999" stroke-width="0.5"/>
<rect x="260.4" y="204.5" width="58.8" height="64.5" stroke="#555" stroke-width="1" fill="none"/>
<rect x="271.14" y="234.15" width="0.7" height="0.7" fill="#c8c8c8" fill-opacity="0.6"/>
<rect x="265.98" y="264.21" width="0.7" height="0.7" fill="#c8c8c8" fill-opacity="0.6"/>
<rect x="275.87" y="254.37" width="0.7" height="0.7" fill="#c8c8c8" fill-opacity="0.6"/>
<rect x="275.27" y="240.88" width="0.7" height="0.7" fill="#c8c8c8" fill-opacity="0.6"/>
<rect x="279.56" y="249.36" width="0.7" height="0.7" fill="#c8c8c8" fill-opacity="0.6"/>
<rect x="280.75" y="253.11" width="0.7" height="0.7" fill="#c8c8c8" fill-opacity="0.6"/>
<rect x="282.14" y="243.33" width="0.7" height="0.7" fill="#c8c8c8" fill-opacity="0.6"/>
<rect x="265.72" y="230.59" width="0.7" height="0.7" fill="#c8c8c8" fill-opacity="0.6"/>
<rect x="279.36" y="231.37" width="0.7" height="0.7" fill="#c8c8c8" fill-opacity="0.6"/>
<rect x="277.71" y="251.31" width="0.7" height="0.7" fill="#c8c8c8" fill-opacity="0.6"/>
<rect x="263.43" y="258.51" width="0.7" height="0.7" fill="#c8c8c8" fill-opacity="0.6"/>
<rect x="262.79" y="262.14" width="0.7" height="0.7" fill="#c8c8c8" fill-opacity="0.6"/>
<rect x="282.19" y="233.5" width="0.7" height="0.7" fill="#c8c8c8" fill-opacity="0.6"/>
<rect x="279.43" y="256.22" width="0.7" height="0.7" fill="#c8c8c8" fill-opacity="0.6"/>
<rect x="265" y="253.48" width="0.7" height="0.7" fill="#c8c8c8" fill-opacity="0.6"/>
<rect x="264.97" y="264.18" width="0.7" height="0.7" fill="#c8c8c8" fill-opacity="0.6"/>
<rect x="278.53" y="267.12" width="0.7" height="0.7" fill="#c8c8c8" fill-opacity="0.6"/>
<rect x="263.28" y="237.98" width="0.7" height="0.7" fill="#c8c8c8" fill-opacity="0.6"/>
<rect x="276.88" y="250.76" width="0.7" height="0.7" fill="#c8c8c8" fill-opacity="0.6"/>
<rect x="266.37" y="263.06" width="0.7" height="0.7" fill="#c8c8c8" fill-opacity="0.6"/>
<rect x="282.32" y="237.26" width="0.7" height="0.7" fill="#c8c8c8" fill-opacity="0.6"/>
<rect x="265.5" y="253.38" width="0.7" height="0.7" fill="#c8c8c8" fill-opacity="0.6"/>
<rect x="271.77" y="253.19" width="0.7" height="0.7" fill="#c8c8c8" fill-opacity="0.6"/>
<rect x="273.84" y="241.37" width="0.7" height="0.7" fill="#c8c8c8" fill-opacity="0.6"/>
<rect x="262.52" y="229.94" width="0.7" height="0.7" fill="#c8c8c8" fill-opacity="0.6"/>
<clipPath id="k12"><rect x="260.8" y="208.7" width="29" height="13.3"/></clipPath><g clip-path="url(#k12)">
<path d="M292.18,214.84 C292.06,215.87 291.35,217.3 290.71,218.21 C290.08,219.12 289.32,219.72 288.37,220.3 C287.42,220.89 286.24,221.46 285.03,221.74 C283.82,222.02 282.37,222.16 281.1,221.99 C279.83,221.82 278.46,221.35 277.43,220.69 C276.4,220.04 275.51,219.05 274.93,218.06 C274.35,217.08 273.91,215.84 273.94,214.79 C273.96,213.74 274.49,212.65 275.08,211.78 C275.67,210.92 276.52,210.13 277.47,209.59 C278.42,209.05 279.59,208.74 280.79,208.55 C282,208.36 283.35,208.33 284.71,208.44 C286.07,208.56 287.82,208.64 288.94,209.24 C290.06,209.83 290.91,211.09 291.45,212.03 C291.99,212.96 292.3,213.81 292.18,214.84Z" fill="#e1e1e1" fill-opacity="1" stroke="none"/>
<path d="M289.08,214.74 C289.03,215.32 288.51,215.89 288.07,216.45 C287.64,217.01 287.02,217.66 286.46,218.09 C285.91,218.53 285.49,218.87 284.74,219.04 C284,219.21 282.84,219.2 282.01,219.09 C281.18,218.97 280.36,218.74 279.76,218.35 C279.17,217.97 278.7,217.38 278.42,216.78 C278.13,216.18 278.01,215.38 278.04,214.77 C278.08,214.17 278.31,213.69 278.62,213.14 C278.92,212.58 279.27,211.83 279.88,211.45 C280.49,211.06 281.51,210.97 282.29,210.84 C283.08,210.71 283.78,210.58 284.57,210.66 C285.36,210.74 286.42,210.93 287.05,211.32 C287.68,211.7 288.01,212.41 288.34,212.98 C288.68,213.55 289.12,214.16 289.08,214.74Z" fill="#c3c3c3" fill-opacity="0.8" stroke="none"/>
<path d="M287.13,214.58 C287.09,214.96 286.83,215.54 286.58,215.88 C286.33,216.22 285.99,216.4 285.63,216.61 C285.27,216.82 284.85,217.02 284.4,217.13 C283.95,217.25 283.42,217.38 282.93,217.32 C282.43,217.26 281.8,217.01 281.41,216.76 C281.02,216.51 280.76,216.13 280.59,215.8 C280.42,215.47 280.37,215.16 280.39,214.78 C280.42,214.4 280.56,213.87 280.74,213.53 C280.92,213.18 281.11,212.94 281.47,212.73 C281.84,212.53 282.44,212.41 282.94,212.31 C283.43,212.21 283.98,212.08 284.45,212.13 C284.92,212.17 285.38,212.33 285.77,212.57 C286.16,212.81 286.55,213.24 286.77,213.58 C287,213.91 287.16,214.2 287.13,214.58Z" fill="#aaaaaa" fill-opacity="0.8" stroke="none"/>
<path d="M292.18,214.84 C292.06,215.87 291.35,217.3 290.71,218.21 C290.08,219.12 289.32,219.72 288.37,220.3 C287.42,220.89 286.24,221.46 285.03,221.74 C283.82,222.02 282.37,222.16 281.1,221.99 C279.83,221.82 278.46,221.35 277.43,220.69 C276.4,220.04 275.51,219.05 274.93,218.06 C274.35,217.08 273.91,215.84 273.94,214.79 C273.96,213.74 274.49,212.65 275.08,211.78 C275.67,210.92 276.52,210.13 277.47,209.59 C278.42,209.05 279.59,208.74 280.79,208.55 C282,208.36 283.35,208.33 284.71,208.44 C286.07,208.56 287.82,208.64 288.94,209.24 C290.06,209.83 290.91,211.09 291.45,212.03 C291.99,212.96 292.3,213.81 292.18,214.84Z" fill="none" stroke="#b9b9b9" stroke-width="0.6"/>
<path d="M290.26,214.97 C290.18,215.76 289.68,216.7 289.22,217.4 C288.75,218.09 288.23,218.71 287.46,219.16 C286.69,219.62 285.53,219.92 284.57,220.12 C283.61,220.32 282.68,220.47 281.69,220.36 C280.69,220.24 279.39,219.96 278.6,219.44 C277.8,218.91 277.34,217.96 276.93,217.21 C276.52,216.47 276.15,215.74 276.15,214.97 C276.14,214.2 276.45,213.35 276.89,212.61 C277.34,211.88 278.07,211.08 278.83,210.57 C279.6,210.06 280.49,209.7 281.48,209.55 C282.47,209.41 283.72,209.53 284.75,209.71 C285.78,209.89 286.83,210.15 287.66,210.64 C288.49,211.13 289.29,211.92 289.72,212.64 C290.16,213.36 290.34,214.18 290.26,214.97Z" fill="none" stroke="#ababab" stroke-width="0.6"/>
<path d="M289.08,214.74 C289.03,215.32 288.51,215.89 288.07,216.45 C287.64,217.01 287.02,217.66 286.46,218.09 C285.91,218.53 285.49,218.87 284.74,219.04 C284,219.21 282.84,219.2 282.01,219.09 C281.18,218.97 280.36,218.74 279.76,218.35 C279.17,217.97 278.7,217.38 278.42,216.78 C278.13,216.18 278.01,215.38 278.04,214.77 C278.08,214.17 278.31,213.69 278.62,213.14 C278.92,212.58 279.27,211.83 279.88,211.45 C280.49,211.06 281.51,210.97 282.29,210.84 C283.08,210.71 283.78,210.58 284.57,210.66 C285.36,210.74 286.42,210.93 287.05,211.32 C287.68,211.7 288.01,212.41 288.34,212.98 C288.68,213.55 289.12,214.16 289.08,214.74Z" fill="none" stroke="#9d9d9d" stroke-width="0.6"/>
<path d="M287.85,214.85 C287.79,215.33 287.54,215.85 287.23,216.26 C286.92,216.67 286.46,217.01 286.02,217.31 C285.57,217.61 285.14,217.93 284.55,218.04 C283.96,218.14 283.12,218.06 282.48,217.94 C281.83,217.81 281.14,217.61 280.67,217.3 C280.2,216.99 279.88,216.51 279.65,216.08 C279.41,215.66 279.26,215.23 279.25,214.76 C279.24,214.29 279.35,213.69 279.6,213.26 C279.86,212.83 280.3,212.44 280.78,212.19 C281.26,211.93 281.88,211.84 282.49,211.74 C283.11,211.64 283.87,211.52 284.5,211.58 C285.13,211.64 285.74,211.78 286.26,212.08 C286.78,212.38 287.34,212.91 287.6,213.37 C287.87,213.83 287.91,214.37 287.85,214.85Z" fill="none" stroke="#8f8f8f" stroke-width="0.6"/>
<path d="M287.13,214.58 C287.09,214.96 286.83,215.54 286.58,215.88 C286.33,216.22 285.99,216.4 285.63,216.61 C285.27,216.82 284.85,217.02 284.4,217.13 C283.95,217.25 283.42,217.38 282.93,217.32 C282.43,217.26 281.8,217.01 281.41,216.76 C281.02,216.51 280.76,216.13 280.59,215.8 C280.42,215.47 280.37,215.16 280.39,214.78 C280.42,214.4 280.56,213.87 280.74,213.53 C280.92,213.18 281.11,212.94 281.47,212.73 C281.84,212.53 282.44,212.41 282.94,212.31 C283.43,212.21 283.98,212.08 284.45,212.13 C284.92,212.17 285.38,212.33 285.77,212.57 C286.16,212.81 286.55,213.24 286.77,213.58 C287,213.91 287.16,214.2 287.13,214.58Z" fill="none" stroke="#828282" stroke-width="0.6"/>
</g>
<path d="M288.58,226.72 C289.36,224.77 290.94,224.47 292.87,224.03 C294.79,223.6 298.08,223.74 300.14,224.11 C302.2,224.48 304.1,224.98 305.24,226.25 C306.37,227.52 306.85,229.59 306.95,231.72 C307.05,233.84 306.7,236.99 305.83,239 C304.96,241.02 303.42,242.73 301.72,243.82 C300.01,244.91 297.57,245.74 295.59,245.53 C293.61,245.32 291.07,244.19 289.83,242.55 C288.6,240.92 288.39,238.34 288.19,235.7 C287.98,233.06 287.8,228.66 288.58,226.72Z" fill="#dcdcdc" fill-opacity="1" stroke="none"/>
<path d="M292.18,228.63 C292.72,227.36 293.69,227.24 294.88,226.93 C296.06,226.62 298.03,226.53 299.3,226.78 C300.57,227.02 301.72,227.53 302.51,228.39 C303.29,229.26 303.87,230.62 303.99,231.95 C304.12,233.28 303.81,235.05 303.25,236.37 C302.69,237.69 301.75,239.13 300.65,239.85 C299.55,240.57 297.92,240.86 296.64,240.68 C295.35,240.51 293.76,239.84 292.93,238.81 C292.1,237.78 291.78,236.21 291.65,234.51 C291.52,232.82 291.64,229.89 292.18,228.63Z" fill="#bebebe" fill-opacity="0.8" stroke="none"/>
<path d="M294.42,229.89 C294.74,229.09 295.49,229.11 296.27,228.9 C297.05,228.7 298.25,228.51 299.09,228.65 C299.93,228.8 300.82,229.21 301.28,229.75 C301.75,230.29 301.85,231.03 301.88,231.89 C301.91,232.75 301.79,234.06 301.48,234.9 C301.16,235.73 300.72,236.46 300.01,236.9 C299.29,237.33 297.97,237.6 297.16,237.5 C296.35,237.4 295.62,236.94 295.14,236.31 C294.67,235.68 294.44,234.8 294.31,233.73 C294.19,232.66 294.09,230.7 294.42,229.89Z" fill="#969696" fill-opacity="0.8" stroke="none"/>
<path d="M288.58,226.72 C289.36,224.77 290.94,224.47 292.87,224.03 C294.79,223.6 298.08,223.74 300.14,224.11 C302.2,224.48 304.1,224.98 305.24,226.25 C306.37,227.52 306.85,229.59 306.95,231.72 C307.05,233.84 306.7,236.99 305.83,239 C304.96,241.02 303.42,242.73 301.72,243.82 C300.01,244.91 297.57,245.74 295.59,245.53 C293.61,245.32 291.07,244.19 289.83,242.55 C288.6,240.92 288.39,238.34 288.19,235.7 C287.98,233.06 287.8,228.66 288.58,226.72Z" fill="none" stroke="#afafaf" stroke-width="0.6"/>
<path d="M290.65,228.1 C291.27,226.49 292.48,226.02 294.02,225.59 C295.57,225.17 298.34,225.22 299.92,225.52 C301.5,225.82 302.58,226.32 303.5,227.41 C304.43,228.49 305.28,230.33 305.47,232.05 C305.66,233.77 305.34,236.08 304.65,237.71 C303.96,239.34 302.75,240.97 301.32,241.83 C299.88,242.68 297.62,243.05 296.04,242.82 C294.47,242.6 292.82,241.72 291.86,240.46 C290.9,239.19 290.48,237.3 290.27,235.24 C290.07,233.18 290.02,229.7 290.65,228.1Z" fill="none" stroke="#a2a2a2" stroke-width="0.6"/>
<path d="M292.18,228.63 C292.72,227.36 293.69,227.24 294.88,226.93 C296.06,226.62 298.03,226.53 299.3,226.78 C300.57,227.02 301.72,227.53 302.51,228.39 C303.29,229.26 303.87,230.62 303.99,231.95 C304.12,233.28 303.81,235.05 303.25,236.37 C302.69,237.69 301.75,239.13 300.65,239.85 C299.55,240.57 297.92,240.86 296.64,240.68 C295.35,240.51 293.76,239.84 292.93,238.81 C292.1,237.78 291.78,236.21 291.65,234.51 C291.52,232.82 291.64,229.89 292.18,228.63Z" fill="none" stroke="#959595" stroke-width="0.6"/>
<path d="M293.53,229.48 C293.97,228.5 294.73,228.31 295.7,228.06 C296.68,227.81 298.37,227.83 299.37,227.99 C300.38,228.15 301.17,228.38 301.74,229.04 C302.32,229.7 302.71,230.82 302.8,231.93 C302.88,233.04 302.65,234.69 302.25,235.72 C301.85,236.75 301.28,237.56 300.41,238.09 C299.53,238.61 298.03,239 297.01,238.88 C295.99,238.76 294.94,238.18 294.28,237.36 C293.62,236.55 293.18,235.28 293.05,233.97 C292.93,232.66 293.09,230.47 293.53,229.48Z" fill="none" stroke="#888888" stroke-width="0.6"/>
<path d="M294.42,229.89 C294.74,229.09 295.49,229.11 296.27,228.9 C297.05,228.7 298.25,228.51 299.09,228.65 C299.93,228.8 300.82,229.21 301.28,229.75 C301.75,230.29 301.85,231.03 301.88,231.89 C301.91,232.75 301.79,234.06 301.48,234.9 C301.16,235.73 300.72,236.46 300.01,236.9 C299.29,237.33 297.97,237.6 297.16,237.5 C296.35,237.4 295.62,236.94 295.14,236.31 C294.67,235.68 294.44,234.8 294.31,233.73 C294.19,232.66 294.09,230.7 294.42,229.89Z" fill="none" stroke="#7b7b7b" stroke-width="0.6"/>
<path d="M295.13,230.4 C295.4,229.77 296.1,229.62 296.73,229.45 C297.37,229.28 298.31,229.28 298.95,229.41 C299.58,229.53 300.17,229.74 300.55,230.18 C300.94,230.63 301.2,231.41 301.28,232.09 C301.36,232.77 301.3,233.62 301.03,234.25 C300.76,234.88 300.22,235.49 299.65,235.87 C299.07,236.24 298.26,236.56 297.6,236.5 C296.94,236.43 296.09,236.01 295.68,235.47 C295.26,234.93 295.17,234.09 295.08,233.24 C294.99,232.4 294.85,231.04 295.13,230.4Z" fill="none" stroke="#6e6e6e" stroke-width="0.6"/>
<ellipse cx="298.5" cy="231" rx="1.3" ry="1.1" fill="#eee"/>
<path d="M263.72,250.12 C263.37,248.57 264.56,245.97 265.79,243.98 C267.02,241.99 269.32,240.17 271.1,238.18 C272.88,236.18 274.7,233.54 276.47,232 C278.24,230.46 280.22,228.92 281.71,228.96 C283.2,228.99 285.04,230.35 285.42,232.21 C285.81,234.08 284.94,237.72 284.03,240.15 C283.12,242.59 281.6,244.88 279.96,246.81 C278.32,248.73 276.22,250.62 274.21,251.69 C272.2,252.77 269.67,253.52 267.93,253.26 C266.18,253 264.08,251.66 263.72,250.12Z" fill="none" stroke="#afafaf" stroke-width="0.6"/>
<path d="M267.09,247.76 C266.85,246.65 267.8,244.92 268.64,243.48 C269.48,242.05 270.89,240.63 272.12,239.15 C273.35,237.67 274.74,235.66 276.03,234.61 C277.31,233.55 278.74,232.81 279.85,232.83 C280.96,232.85 282.41,233.42 282.71,234.71 C283.01,236 282.36,238.73 281.65,240.57 C280.93,242.41 279.65,244.34 278.43,245.75 C277.21,247.16 275.71,248.3 274.32,249.03 C272.92,249.75 271.24,250.32 270.04,250.1 C268.83,249.89 267.32,248.86 267.09,247.76Z" fill="none" stroke="#aaaaaa" stroke-width="0.6"/>
<path d="M269.34,246.24 C269.17,245.38 269.86,244.03 270.46,242.98 C271.06,241.94 272.07,241 272.94,239.99 C273.8,238.98 274.71,237.74 275.67,236.92 C276.64,236.11 277.92,235.15 278.72,235.12 C279.52,235.1 280.33,235.8 280.47,236.77 C280.61,237.75 280.02,239.69 279.57,241 C279.11,242.3 278.61,243.62 277.74,244.61 C276.87,245.6 275.41,246.34 274.36,246.92 C273.31,247.51 272.3,248.22 271.46,248.1 C270.62,247.99 269.5,247.09 269.34,246.24Z" fill="none" stroke="#a5a5a5" stroke-width="0.6"/>
<rect x="260.4" y="208.1" width="29.9" height="14.4" stroke="#000" stroke-width="1.5" fill="none"/>
<rect x="260.4" y="222.5" width="26.1" height="46.5" stroke="#000" stroke-width="1.5" fill="none"/>
<rect x="286.5" y="222.5" width="24.5" height="46.5" stroke="#000" stroke-width="1.5" fill="none"/>
<text x="262.9" y="235.2" font-size="9" font-weight="bold" text-anchor="start" fill="#000" textLength="15.57" lengthAdjust="spacingAndGlyphs">14.5</text>
<text x="268" y="265.8" font-size="9" font-weight="bold" text-anchor="start" fill="#000" textLength="15.57" lengthAdjust="spacingAndGlyphs">63.4</text>
<line x1="53.7" y1="343.94" x2="55.3" y2="343.94" stroke="#444" stroke-width="0.9"/>
<line x1="54.4" y1="340.21" x2="55.3" y2="340.21" stroke="#999" stroke-width="0.5"/>
<line x1="54.4" y1="337.97" x2="55.3" y2="337.97" stroke="#999" stroke-width="0.5"/>
<line x1="54.4" y1="336.48" x2="55.3" y2="336.48" stroke="#999" stroke-width="0.5"/>
<line x1="54.4" y1="335.23" x2="55.3" y2="335.23" stroke="#999" stroke-width="0.5"/>
<line x1="54.4" y1="334.24" x2="55.3" y2="334.24" stroke="#999" stroke-width="0.5"/>
<line x1="54.4" y1="333.37" x2="55.3" y2="333.37" stroke="#999" stroke-width="0.5"/>
<line x1="54.4" y1="332.74" x2="55.3" y2="332.74" stroke="#999" stroke-width="0.5"/>
<line x1="54.4" y1="332.12" x2="55.3" y2="332.12" stroke="#999" stroke-width="0.5"/>
<line x1="53.7" y1="330.12" x2="55.3" y2="330.12" stroke="#444" stroke-width="0.9"/>
<line x1="54.4" y1="326.38" x2="55.3" y2="326.38" stroke="#999" stroke-width="0.5"/>
<line x1="54.4" y1="324.15" x2="55.3" y2="324.15" stroke="#999" stroke-width="0.5"/>
<line x1="54.4" y1="322.65" x2="55.3" y2="322.65" stroke="#999" stroke-width="0.5"/>
<line x1="54.4" y1="321.41" x2="55.3" y2="321.41" stroke="#999" stroke-width="0.5"/>
<line x1="54.4" y1="320.41" x2="55.3" y2="320.41" stroke="#999" stroke-width="0.5"/>
<line x1="54.4" y1="319.54" x2="55.3" y2="319.54" stroke="#999" stroke-width="0.5"/>
<line x1="54.4" y1="318.92" x2="55.3" y2="318.92" stroke="#999" stroke-width="0.5"/>
<line x1="54.4" y1="318.3" x2="55.3" y2="318.3" stroke="#999" stroke-width="0.5"/>
<line x1="53.7" y1="316.29" x2="55.3" y2="316.29" stroke="#444" stroke-width="0.9"/>
<line x1="54.4" y1="312.56" x2="55.3" y2="312.56" stroke="#999" stroke-width="0.5"/>
<line x1="54.4" y1="310.32" x2="55.3" y2="310.32" stroke="#999" stroke-width="0.5"/>
<line x1="54.4" y1="308.83" x2="55.3" y2="308.83" stroke="#999" stroke-width="0.5"/>
<line x1="54.4" y1="307.58" x2="55.3" y2="307.58" stroke="#999" stroke-width="0.5"/>
<line x1="54.4" y1="306.59" x2="55.3" y2="306.59" stroke="#999" stroke-width="0.5"/>
<line x1="54.4" y1="305.72" x2="55.3" y2="305.72" stroke="#999" stroke-width="0.5"/>
<line x1="54.4" y1="305.1" x2="55.3" y2="305.1" stroke="#999" stroke-width="0.5"/>
<line x1="54.4" y1="304.47" x2="55.3" y2="304.47" stroke="#999" stroke-width="0.5"/>
<line x1="53.7" y1="302.47" x2="55.3" y2="302.47" stroke="#444" stroke-width="0.9"/>
<line x1="54.4" y1="298.74" x2="55.3" y2="298.74" stroke="#999" stroke-width="0.5"/>
<line x1="54.4" y1="296.5" x2="55.3" y2="296.5" stroke="#999" stroke-width="0.5"/>
<line x1="54.4" y1="295" x2="55.3" y2="295" stroke="#999" stroke-width="0.5"/>
<line x1="54.4" y1="293.76" x2="55.3" y2="293.76" stroke="#999" stroke-width="0.5"/>
<line x1="54.4" y1="292.76" x2="55.3" y2="292.76" stroke="#999" stroke-width="0.5"/>
<line x1="54.4" y1="291.89" x2="55.3" y2="291.89" stroke="#999" stroke-width="0.5"/>
<line x1="54.4" y1="291.27" x2="55.3" y2="291.27" stroke="#999" stroke-width="0.5"/>
<line x1="54.4" y1="290.65" x2="55.3" y2="290.65" stroke="#999" stroke-width="0.5"/>
<line x1="53.7" y1="288.64" x2="55.3" y2="288.64" stroke="#444" stroke-width="0.9"/>
<line x1="54.4" y1="284.91" x2="55.3" y2="284.91" stroke="#999" stroke-width="0.5"/>
<line x1="58.88" y1="347.8" x2="58.88" y2="349.4" stroke="#444" stroke-width="0.9"/>
<line x1="62.35" y1="347.8" x2="62.35" y2="348.7" stroke="#999" stroke-width="0.5"/>
<line x1="64.43" y1="347.8" x2="64.43" y2="348.7" stroke="#999" stroke-width="0.5"/>
<line x1="65.81" y1="347.8" x2="65.81" y2="348.7" stroke="#999" stroke-width="0.5"/>
<line x1="66.97" y1="347.8" x2="66.97" y2="348.7" stroke="#999" stroke-width="0.5"/>
<line x1="67.89" y1="347.8" x2="67.89" y2="348.7" stroke="#999" stroke-width="0.5"/>
<line x1="68.7" y1="347.8" x2="68.7" y2="348.7" stroke="#999" stroke-width="0.5"/>
<line x1="69.28" y1="347.8" x2="69.28" y2="348.7" stroke="#999" stroke-width="0.5"/>
<line x1="69.86" y1="347.8" x2="69.86" y2="348.7" stroke="#999" stroke-width="0.5"/>
<line x1="71.72" y1="347.8" x2="71.72" y2="349.4" stroke="#444" stroke-width="0.9"/>
<line x1="75.18" y1="347.8" x2="75.18" y2="348.7" stroke="#999" stroke-width="0.5"/>
<line x1="77.26" y1="347.8" x2="77.26" y2="348.7" stroke="#999" stroke-width="0.5"/>
<line x1="78.65" y1="347.8" x2="78.65" y2="348.7" stroke="#999" stroke-width="0.5"/>
<line x1="79.8" y1="347.8" x2="79.8" y2="348.7" stroke="#999" stroke-width="0.5"/>
<line x1="80.73" y1="347.8" x2="80.73" y2="348.7" stroke="#999" stroke-width="0.5"/>
<line x1="81.54" y1="347.8" x2="81.54" y2="348.7" stroke="#999" stroke-width="0.5"/>
<line x1="82.11" y1="347.8" x2="82.11" y2="348.7" stroke="#999" stroke-width="0.5"/>
<line x1="82.69" y1="347.8" x2="82.69" y2="348.7" stroke="#999" stroke-width="0.5"/>
<line x1="84.55" y1="347.8" x2="84.55" y2="349.4" stroke="#444" stroke-width="0.9"/>
<line x1="88.02" y1="347.8" x2="88.02" y2="348.7" stroke="#999" stroke-width="0.5"/>
<line x1="90.1" y1="347.8" x2="90.1" y2="348.7" stroke="#999" stroke-width="0.5"/>
<line x1="91.48" y1="347.8" x2="91.48" y2="348.7" stroke="#999" stroke-width="0.5"/>
<line x1="92.64" y1="347.8" x2="92.64" y2="348.7" stroke="#999" stroke-width="0.5"/>
<line x1="93.56" y1="347.8" x2="93.56" y2="348.7" stroke="#999" stroke-width="0.5"/>
<line x1="94.37" y1="347.8" x2="94.37" y2="348.7" stroke="#999" stroke-width="0.5"/>
<line x1="94.95" y1="347.8" x2="94.95" y2="348.7" stroke="#999" stroke-width="0.5"/>
<line x1="95.53" y1="347.8" x2="95.53" y2="348.7" stroke="#999" stroke-width="0.5"/>
<line x1="97.39" y1="347.8" x2="97.39" y2="349.4" stroke="#444" stroke-width="0.9"/>
<line x1="100.85" y1="347.8" x2="100.85" y2="348.7" stroke="#999" stroke-width="0.5"/>
<line x1="102.93" y1="347.8" x2="102.93" y2="348.7" stroke="#999" stroke-width="0.5"/>
<line x1="104.32" y1="347.8" x2="104.32" y2="348.7" stroke="#999" stroke-width="0.5"/>
<line x1="105.47" y1="347.8" x2="105.47" y2="348.7" stroke="#999" stroke-width="0.5"/>
<line x1="106.4" y1="347.8" x2="106.4" y2="348.7" stroke="#999" stroke-width="0.5"/>
<line x1="107.21" y1="347.8" x2="107.21" y2="348.7" stroke="#999" stroke-width="0.5"/>
<line x1="107.79" y1="347.8" x2="107.79" y2="348.7" stroke="#999" stroke-width="0.5"/>
<line x1="108.36" y1="347.8" x2="108.36" y2="348.7" stroke="#999" stroke-width="0.5"/>
<line x1="110.22" y1="347.8" x2="110.22" y2="349.4" stroke="#444" stroke-width="0.9"/>
<line x1="113.69" y1="347.8" x2="113.69" y2="348.7" stroke="#999" stroke-width="0.5"/>
<rect x="55.3" y="283.5" width="59.7" height="64.3" stroke="#555" stroke-width="1" fill="none"/>
<rect x="65.52" y="325.1" width="0.7" height="0.7" fill="#b9b9b9" fill-opacity="0.7"/>
<rect x="62.67" y="339.13" width="0.7" height="0.7" fill="#b9b9b9" fill-opacity="0.7"/>
<rect x="65.1" y="327.3" width="0.7" height="0.7" fill="#b9b9b9" fill-opacity="0.7"/>
<rect x="89.42" y="320.48" width="0.7" height="0.7" fill="#b9b9b9" fill-opacity="0.7"/>
<rect x="90.88" y="335.18" width="0.7" height="0.7" fill="#b9b9b9" fill-opacity="0.7"/>
<rect x="76.18" y="330.67" width="0.7" height="0.7" fill="#b9b9b9" fill-opacity="0.7"/>
<rect x="77.51" y="318.85" width="0.7" height="0.7" fill="#b9b9b9" fill-opacity="0.7"/>
<rect x="91.89" y="320.77" width="0.7" height="0.7" fill="#b9b9b9" fill-opacity="0.7"/>
<rect x="91.43" y="340.51" width="0.7" height="0.7" fill="#b9b9b9" fill-opacity="0.7"/>
<rect x="57.99" y="314.36" width="0.7" height="0.7" fill="#b9b9b9" fill-opacity="0.7"/>
<rect x="73.72" y="338.84" width="0.7" height="0.7" fill="#b9b9b9" fill-opacity="0.7"/>
<rect x="63.22" y="330.1" width="0.7" height="0.7" fill="#b9b9b9" fill-opacity="0.7"/>
<rect x="69.85" y="337.57" width="0.7" height="0.7" fill="#b9b9b9" fill-opacity="0.7"/>
<rect x="89.42" y="336.53" width="0.7" height="0.7" fill="#b9b9b9" fill-opacity="0.7"/>
<rect x="63.77" y="336.45" width="0.7" height="0.7" fill="#b9b9b9" fill-opacity="0.7"/>
<rect x="72.34" y="339.84" width="0.7" height="0.7" fill="#b9b9b9" fill-opacity="0.7"/>
<rect x="73.45" y="342.89" width="0.7" height="0.7" fill="#b9b9b9" fill-opacity="0.7"/>
<rect x="91.52" y="339.27" width="0.7" height="0.7" fill="#b9b9b9" fill-opacity="0.7"/>
<rect x="85.91" y="339.04" width="0.7" height="0.7" fill="#b9b9b9" fill-opacity="0.7"/>
<rect x="77.72" y="310.69" width="0.7" height="0.7" fill="#b9b9b9" fill-opacity="0.7"/>
<rect x="91.52" y="323.42" width="0.7" height="0.7" fill="#b9b9b9" fill-opacity="0.7"/>
<rect x="57.57" y="322.12" width="0.7" height="0.7" fill="#b9b9b9" fill-opacity="0.7"/>
<rect x="71.52" y="311.84" width="0.7" height="0.7" fill="#b9b9b9" fill-opacity="0.7"/>
<rect x="90.61" y="307.93" width="0.7" height="0.7" fill="#b9b9b9" fill-opacity="0.7"/>
<rect x="88.65" y="327.19" width="0.7" height="0.7" fill="#b9b9b9" fill-opacity="0.7"/>
<rect x="63.25" y="318.76" width="0.7" height="0.7" fill="#b9b9b9" fill-opacity="0.7"/>
<rect x="72.76" y="308.18" width="0.7" height="0.7" fill="#b9b9b9" fill-opacity="0.7"/>
<rect x="83.71" y="331.67" width="0.7" height="0.7" fill="#b9b9b9" fill-opacity="0.7"/>
<rect x="91.38" y="339.52" width="0.7" height="0.7" fill="#b9b9b9" fill-opacity="0.7"/>
<rect x="84.51" y="346.86" width="0.7" height="0.7" fill="#b9b9b9" fill-opacity="0.7"/>
<rect x="89.62" y="331.34" width="0.7" height="0.7" fill="#b9b9b9" fill-opacity="0.7"/>
<rect x="75.87" y="326.04" width="0.7" height="0.7" fill="#b9b9b9" fill-opacity="0.7"/>
<rect x="85.48" y="343.71" width="0.7" height="0.7" fill="#b9b9b9" fill-opacity="0.7"/>
<rect x="86.07" y="339.92" width="0.7" height="0.7" fill="#b9b9b9" fill-opacity="0.7"/>
<rect x="57.96" y="321.51" width="0.7" height="0.7" fill="#b9b9b9" fill-opacity="0.7"/>
<rect x="60.05" y="328.75" width="0.7" height="0.7" fill="#b9b9b9" fill-opacity="0.7"/>
<rect x="77.3" y="327.67" width="0.7" height="0.7" fill="#b9b9b9" fill-opacity="0.7"/>
<rect x="87.03" y="312.9" width="0.7" height="0.7" fill="#b9b9b9" fill-opacity="0.7"/>
<rect x="82.51" y="328.8" width="0.7" height="0.7" fill="#b9b9b9" fill-opacity="0.7"/>
<rect x="64.46" y="346.05" width="0.7" height="0.7" fill="#b9b9b9" fill-opacity="0.7"/>
<rect x="58.87" y="323.46" width="0.7" height="0.7" fill="#b9b9b9" fill-opacity="0.7"/>
<rect x="75.75" y="329.2" width="0.7" height="0.7" fill="#b9b9b9" fill-opacity="0.7"/>
<rect x="91.37" y="327.27" width="0.7" height="0.7" fill="#b9b9b9" fill-opacity="0.7"/>
<rect x="88.03" y="315.96" width="0.7" height="0.7" fill="#b9b9b9" fill-opacity="0.7"/>
<rect x="73.85" y="309.46" width="0.7" height="0.7" fill="#b9b9b9" fill-opacity="0.7"/>
<rect x="79.39" y="321.58" width="0.7" height="0.7" fill="#b9b9b9" fill-opacity="0.7"/>
<rect x="84.47" y="307.95" width="0.7" height="0.7" fill="#b9b9b9" fill-opacity="0.7"/>
<rect x="73.25" y="345.18" width="0.7" height="0.7" fill="#b9b9b9" fill-opacity="0.7"/>
<rect x="57.39" y="332.05" width="0.7" height="0.7" fill="#b9b9b9" fill-opacity="0.7"/>
<rect x="80.71" y="334.94" width="0.7" height="0.7" fill="#b9b9b9" fill-opacity="0.7"/>
<rect x="76.51" y="325.03" width="0.7" height="0.7" fill="#b9b9b9" fill-opacity="0.7"/>
<rect x="90.58" y="315.46" width="0.7" height="0.7" fill="#b9b9b9" fill-opacity="0.7"/>
<rect x="81.63" y="332.41" width="0.7" height="0.7" fill="#b9b9b9" fill-opacity="0.7"/>
<rect x="82.49" y="324.03" width="0.7" height="0.7" fill="#b9b9b9" fill-opacity="0.7"/>
<rect x="57.59" y="337.12" width="0.7" height="0.7" fill="#b9b9b9" fill-opacity="0.7"/>
<rect x="66.77" y="337.42" width="0.7" height="0.7" fill="#b9b9b9" fill-opacity="0.7"/>
<rect x="91.55" y="337.17" width="0.7" height="0.7" fill="#b9b9b9" fill-opacity="0.7"/>
<rect x="71.1" y="340.72" width="0.7" height="0.7" fill="#b9b9b9" fill-opacity="0.7"/>
<rect x="70.51" y="317.08" width="0.7" height="0.7" fill="#b9b9b9" fill-opacity="0.7"/>
<rect x="76.99" y="331.75" width="0.7" height="0.7" fill="#b9b9b9" fill-opacity="0.7"/>
<rect x="81.01" y="327.32" width="0.7" height="0.7" fill="#b9b9b9" fill-opacity="0.7"/>
<rect x="71.31" y="335.68" width="0.7" height="0.7" fill="#b9b9b9" fill-opacity="0.7"/>
<rect x="68.36" y="329.68" width="0.7" height="0.7" fill="#b9b9b9" fill-opacity="0.7"/>
<rect x="57.19" y="308.76" width="0.7" height="0.7" fill="#b9b9b9" fill-opacity="0.7"/>
<rect x="87.36" y="312.48" width="0.7" height="0.7" fill="#b9b9b9" fill-opacity="0.7"/>
<rect x="71.44" y="305.35" width="0.7" height="0.7" fill="#b9b9b9" fill-opacity="0.7"/>
<rect x="83.78" y="317.45" width="0.7" height="0.7" fill="#b9b9b9" fill-opacity="0.7"/>
<rect x="58.71" y="315.05" width="0.7" height="0.7" fill="#b9b9b9" fill-opacity="0.7"/>
<rect x="89.57" y="336.25" width="0.7" height="0.7" fill="#b9b9b9" fill-opacity="0.7"/>
<rect x="57.11" y="344.96" width="0.7" height="0.7" fill="#b9b9b9" fill-opacity="0.7"/>
<clipPath id="k13"><rect x="55.3" y="287" width="38.9" height="14.5"/></clipPath><g clip-path="url(#k13)">
<radialGradient id="g14"><stop offset="0" stop-color="#c8c8c8" stop-opacity="0.8"/><stop offset="1" stop-color="#c8c8c8" stop-opacity="0"/></radialGradient><ellipse cx="66" cy="294.5" rx="12" ry="6" transform="rotate(0 66 294.5)" fill="url(#g14)"/>
<path d="M73.85,292 C73.93,290.54 77.47,289.44 79.8,288.69 C82.13,287.95 85.68,287.49 87.84,287.53 C90,287.57 91.85,287.84 92.76,288.94 C93.66,290.04 93.57,292.53 93.28,294.14 C92.99,295.75 92.23,297.7 91.03,298.58 C89.82,299.46 88.01,299.61 86.05,299.42 C84.1,299.23 81.33,298.68 79.3,297.44 C77.26,296.21 73.76,293.46 73.85,292Z" fill="#e4e4e4" fill-opacity="1" stroke="none"/>
<path d="M79.9,292.79 C79.99,291.99 82.11,291.22 83.45,290.8 C84.78,290.37 86.74,290.22 87.89,290.23 C89.04,290.24 89.87,290.27 90.34,290.86 C90.82,291.45 90.93,292.86 90.76,293.77 C90.58,294.67 89.99,295.79 89.31,296.29 C88.62,296.79 87.7,296.89 86.63,296.77 C85.56,296.66 84,296.28 82.87,295.62 C81.75,294.96 79.8,293.6 79.9,292.79Z" fill="#c8c8c8" fill-opacity="0.9" stroke="none"/>
<path d="M83.29,293.11 C83.36,292.63 84.48,292.24 85.19,291.98 C85.9,291.73 86.93,291.57 87.57,291.59 C88.2,291.6 88.72,291.75 89,292.09 C89.28,292.44 89.31,293.18 89.26,293.67 C89.2,294.16 89.04,294.74 88.68,295.03 C88.31,295.32 87.72,295.44 87.07,295.41 C86.42,295.39 85.39,295.24 84.76,294.86 C84.13,294.47 83.22,293.59 83.29,293.11Z" fill="#a5a5a5" fill-opacity="0.9" stroke="none"/>
<path d="M73.85,292 C73.93,290.54 77.47,289.44 79.8,288.69 C82.13,287.95 85.68,287.49 87.84,287.53 C90,287.57 91.85,287.84 92.76,288.94 C93.66,290.04 93.57,292.53 93.28,294.14 C92.99,295.75 92.23,297.7 91.03,298.58 C89.82,299.46 88.01,299.61 86.05,299.42 C84.1,299.23 81.33,298.68 79.3,297.44 C77.26,296.21 73.76,293.46 73.85,292Z" fill="none" stroke="#a5a5a5" stroke-width="0.55"/>
<path d="M77.59,292.53 C77.69,291.37 79.95,290.21 81.66,289.64 C83.37,289.08 86.29,289.05 87.86,289.14 C89.44,289.23 90.49,289.37 91.1,290.18 C91.72,290.99 91.7,292.81 91.57,294 C91.43,295.2 91.2,296.68 90.32,297.37 C89.43,298.05 87.77,298.24 86.24,298.12 C84.7,298 82.54,297.58 81.1,296.65 C79.66,295.72 77.5,293.7 77.59,292.53Z" fill="none" stroke="#969696" stroke-width="0.55"/>
<path d="M79.9,292.79 C79.99,291.99 82.11,291.22 83.45,290.8 C84.78,290.37 86.74,290.22 87.89,290.23 C89.04,290.24 89.87,290.27 90.34,290.86 C90.82,291.45 90.93,292.86 90.76,293.77 C90.58,294.67 89.99,295.79 89.31,296.29 C88.62,296.79 87.7,296.89 86.63,296.77 C85.56,296.66 84,296.28 82.87,295.62 C81.75,294.96 79.8,293.6 79.9,292.79Z" fill="none" stroke="#878787" stroke-width="0.55"/>
<path d="M81.91,292.88 C81.96,292.24 83.29,291.69 84.25,291.35 C85.22,291.02 86.79,290.82 87.7,290.87 C88.6,290.92 89.3,291.15 89.68,291.64 C90.05,292.13 90.05,293.11 89.94,293.79 C89.84,294.48 89.54,295.36 89.05,295.74 C88.55,296.11 87.83,296.16 86.98,296.07 C86.12,295.98 84.77,295.72 83.92,295.19 C83.08,294.66 81.85,293.52 81.91,292.88Z" fill="none" stroke="#787878" stroke-width="0.55"/>
<path d="M83.29,293.11 C83.36,292.63 84.48,292.24 85.19,291.98 C85.9,291.73 86.93,291.57 87.57,291.59 C88.2,291.6 88.72,291.75 89,292.09 C89.28,292.44 89.31,293.18 89.26,293.67 C89.2,294.16 89.04,294.74 88.68,295.03 C88.31,295.32 87.72,295.44 87.07,295.41 C86.42,295.39 85.39,295.24 84.76,294.86 C84.13,294.47 83.22,293.59 83.29,293.11Z" fill="none" stroke="#696969" stroke-width="0.55"/>
</g>
<path d="M70.57,310.23 C71.23,308.49 72.36,306.2 73.97,305.13 C75.59,304.06 78.15,303.89 80.26,303.81 C82.37,303.73 84.81,303.99 86.64,304.64 C88.47,305.29 90.49,306.11 91.21,307.72 C91.94,309.33 91.26,312.28 91,314.3 C90.74,316.32 90.71,318.19 89.65,319.86 C88.59,321.52 86.77,323.53 84.65,324.3 C82.52,325.07 79.05,325.05 76.92,324.46 C74.78,323.88 72.99,322.26 71.84,320.78 C70.69,319.3 70.22,317.35 70,315.59 C69.79,313.83 69.91,311.98 70.57,310.23Z" fill="#f0f0f0" fill-opacity="1" stroke="none"/>
<path d="M70.57,310.23 C71.23,308.49 72.36,306.2 73.97,305.13 C75.59,304.06 78.15,303.89 80.26,303.81 C82.37,303.73 84.81,303.99 86.64,304.64 C88.47,305.29 90.49,306.11 91.21,307.72 C91.94,309.33 91.26,312.28 91,314.3 C90.74,316.32 90.71,318.19 89.65,319.86 C88.59,321.52 86.77,323.53 84.65,324.3 C82.52,325.07 79.05,325.05 76.92,324.46 C74.78,323.88 72.99,322.26 71.84,320.78 C70.69,319.3 70.22,317.35 70,315.59 C69.79,313.83 69.91,311.98 70.57,310.23Z" fill="none" stroke="#a0a0a0" stroke-width="0.6"/>
<path d="M73.36,311.61 C73.86,310.29 75.03,308.53 76.17,307.75 C77.31,306.96 78.71,306.93 80.18,306.9 C81.66,306.86 83.7,307.03 85.04,307.54 C86.37,308.06 87.6,308.83 88.17,309.99 C88.75,311.16 88.64,313.05 88.46,314.53 C88.28,316.01 87.94,317.65 87.1,318.88 C86.25,320.11 84.87,321.42 83.4,321.91 C81.94,322.41 79.82,322.31 78.32,321.86 C76.81,321.42 75.23,320.3 74.37,319.26 C73.51,318.22 73.32,316.91 73.15,315.64 C72.99,314.36 72.86,312.92 73.36,311.61Z" fill="none" stroke="#999999" stroke-width="0.6"/>
<path d="M75.42,312.64 C75.76,311.75 76.51,310.54 77.34,310 C78.17,309.46 79.33,309.41 80.4,309.4 C81.47,309.39 82.79,309.56 83.74,309.93 C84.69,310.3 85.66,310.82 86.09,311.62 C86.52,312.43 86.45,313.74 86.33,314.77 C86.22,315.81 85.96,316.96 85.4,317.84 C84.83,318.72 84.04,319.69 82.95,320.06 C81.86,320.44 79.92,320.39 78.83,320.1 C77.74,319.81 77,319.12 76.41,318.33 C75.81,317.54 75.43,316.32 75.26,315.37 C75.1,314.42 75.07,313.54 75.42,312.64Z" fill="none" stroke="#929292" stroke-width="0.6"/>
<path d="M77,313.48 C77.25,312.82 77.73,311.97 78.33,311.57 C78.92,311.17 79.79,311.11 80.57,311.09 C81.34,311.08 82.29,311.22 82.98,311.49 C83.68,311.75 84.47,312.11 84.76,312.7 C85.05,313.29 84.84,314.28 84.75,315.02 C84.65,315.75 84.6,316.44 84.19,317.1 C83.77,317.76 83.02,318.67 82.23,318.96 C81.45,319.25 80.25,319.06 79.47,318.84 C78.69,318.62 77.99,318.19 77.55,317.64 C77.11,317.08 76.93,316.21 76.84,315.51 C76.75,314.82 76.75,314.14 77,313.48Z" fill="none" stroke="#8c8c8c" stroke-width="0.6"/>
<path d="M77,313 C77.42,312.17 78.75,311.67 80,311.5 C81.25,311.33 83.58,311.42 84.5,312 C85.42,312.58 85.58,313.92 85.5,315 C85.42,316.08 84.92,317.92 84,318.5 C83.08,319.08 81.08,318.83 80,318.5 C78.92,318.17 78,317.42 77.5,316.5 C77,315.58 76.58,313.83 77,313Z" stroke="#999" stroke-width="0.55" fill="none"/>
<path d="M96.75,307.78 C97.19,306.05 97.61,305.13 98.53,304.49 C99.45,303.85 101.29,303.5 102.28,303.93 C103.26,304.35 104.03,305.49 104.47,307.05 C104.91,308.6 105.05,311.23 104.93,313.25 C104.81,315.26 103.93,316.96 103.73,319.13 C103.53,321.31 104.02,324.14 103.73,326.29 C103.45,328.45 102.81,330.86 102.03,332.06 C101.24,333.26 99.9,333.88 99.03,333.51 C98.15,333.14 97.17,331.57 96.76,329.86 C96.35,328.16 96.74,325.8 96.59,323.3 C96.44,320.8 95.83,317.45 95.86,314.87 C95.88,312.28 96.3,309.51 96.75,307.78Z" fill="#e1e1e1" fill-opacity="1" stroke="none"/>
<path d="M97.79,310.3 C98.03,309.06 98.18,308.47 98.83,308.03 C99.48,307.59 100.95,307.42 101.68,307.68 C102.4,307.94 102.83,308.58 103.18,309.59 C103.52,310.59 103.86,312.28 103.73,313.71 C103.59,315.13 102.53,316.56 102.37,318.12 C102.22,319.67 102.97,321.48 102.8,323.04 C102.63,324.6 101.92,326.61 101.36,327.48 C100.79,328.36 100.02,328.57 99.38,328.28 C98.74,328 97.77,326.99 97.54,325.78 C97.3,324.58 97.97,322.78 97.95,321.06 C97.93,319.35 97.42,317.27 97.39,315.48 C97.36,313.68 97.55,311.54 97.79,310.3Z" fill="#d0d0d0" fill-opacity="0.9" stroke="none"/>
<path d="M96.75,307.78 C97.19,306.05 97.61,305.13 98.53,304.49 C99.45,303.85 101.29,303.5 102.28,303.93 C103.26,304.35 104.03,305.49 104.47,307.05 C104.91,308.6 105.05,311.23 104.93,313.25 C104.81,315.26 103.93,316.96 103.73,319.13 C103.53,321.31 104.02,324.14 103.73,326.29 C103.45,328.45 102.81,330.86 102.03,332.06 C101.24,333.26 99.9,333.88 99.03,333.51 C98.15,333.14 97.17,331.57 96.76,329.86 C96.35,328.16 96.74,325.8 96.59,323.3 C96.44,320.8 95.83,317.45 95.86,314.87 C95.88,312.28 96.3,309.51 96.75,307.78Z" fill="none" stroke="#a5a5a5" stroke-width="0.55"/>
<path d="M97.08,309.48 C97.43,307.98 97.97,306.71 98.73,306.09 C99.48,305.48 100.8,305.36 101.61,305.78 C102.42,306.21 103.13,307.39 103.59,308.64 C104.05,309.89 104.49,311.61 104.37,313.3 C104.24,314.98 103,316.92 102.86,318.76 C102.72,320.61 103.69,322.55 103.51,324.37 C103.33,326.19 102.51,328.62 101.77,329.68 C101.03,330.75 99.89,331.09 99.08,330.77 C98.26,330.44 97.17,329.25 96.86,327.75 C96.56,326.26 97.26,323.9 97.23,321.8 C97.19,319.69 96.66,317.18 96.63,315.12 C96.61,313.07 96.73,310.99 97.08,309.48Z" fill="none" stroke="#9d9d9d" stroke-width="0.55"/>
<path d="M97.79,310.3 C98.03,309.06 98.18,308.47 98.83,308.03 C99.48,307.59 100.95,307.42 101.68,307.68 C102.4,307.94 102.83,308.58 103.18,309.59 C103.52,310.59 103.86,312.28 103.73,313.71 C103.59,315.13 102.53,316.56 102.37,318.12 C102.22,319.67 102.97,321.48 102.8,323.04 C102.63,324.6 101.92,326.61 101.36,327.48 C100.79,328.36 100.02,328.57 99.38,328.28 C98.74,328 97.77,326.99 97.54,325.78 C97.3,324.58 97.97,322.78 97.95,321.06 C97.93,319.35 97.42,317.27 97.39,315.48 C97.36,313.68 97.55,311.54 97.79,310.3Z" fill="none" stroke="#959595" stroke-width="0.55"/>
<path d="M98.08,311.22 C98.32,310.18 98.68,309.44 99.21,309.05 C99.73,308.66 100.64,308.61 101.26,308.88 C101.88,309.16 102.64,309.8 102.92,310.69 C103.2,311.59 103.07,313.04 102.94,314.23 C102.81,315.43 102.19,316.6 102.14,317.89 C102.08,319.17 102.74,320.7 102.61,321.96 C102.48,323.22 101.89,324.7 101.36,325.45 C100.84,326.21 99.99,326.67 99.45,326.48 C98.91,326.29 98.32,325.35 98.14,324.32 C97.97,323.28 98.43,321.77 98.38,320.26 C98.32,318.75 97.87,316.77 97.82,315.27 C97.77,313.76 97.85,312.25 98.08,311.22Z" fill="none" stroke="#8d8d8d" stroke-width="0.55"/>
<path d="M98.55,311.9 C98.75,311.01 98.9,310.46 99.31,310.16 C99.73,309.86 100.53,309.88 101.05,310.09 C101.57,310.29 102.16,310.66 102.41,311.41 C102.66,312.16 102.65,313.58 102.55,314.58 C102.46,315.58 101.89,316.35 101.84,317.41 C101.79,318.46 102.37,319.81 102.23,320.91 C102.1,322 101.44,323.36 101.02,323.97 C100.6,324.58 100.15,324.75 99.72,324.56 C99.29,324.38 98.62,323.72 98.45,322.88 C98.27,322.03 98.72,320.71 98.67,319.48 C98.61,318.24 98.13,316.72 98.11,315.45 C98.09,314.19 98.35,312.78 98.55,311.9Z" fill="none" stroke="#858585" stroke-width="0.55"/>
<path d="M98.6,312.54 C98.79,311.81 99.16,311.46 99.55,311.19 C99.93,310.91 100.51,310.69 100.93,310.88 C101.34,311.08 101.84,311.69 102.04,312.34 C102.25,312.99 102.2,313.98 102.15,314.79 C102.1,315.6 101.8,316.3 101.75,317.2 C101.69,318.11 101.95,319.3 101.81,320.19 C101.68,321.09 101.3,322.04 100.94,322.57 C100.59,323.11 100.04,323.52 99.67,323.42 C99.29,323.31 98.85,322.69 98.69,321.95 C98.54,321.21 98.8,320.06 98.75,318.99 C98.71,317.92 98.46,316.62 98.43,315.55 C98.41,314.47 98.42,313.26 98.6,312.54Z" fill="none" stroke="#7d7d7d" stroke-width="0.55"/>
<rect x="55.3" y="287" width="38.9" height="14.5" stroke="#000" stroke-width="1.5" fill="none"/>
<rect x="55.3" y="301.5" width="37.3" height="46.3" stroke="#000" stroke-width="1.5" fill="none"/>
<rect x="92.6" y="301.5" width="15.1" height="46.3" stroke="#000" stroke-width="1.5" fill="none"/>
<text x="59.7" y="315.1" font-size="9" font-weight="bold" text-anchor="start" fill="#000" textLength="8.9" lengthAdjust="spacingAndGlyphs">42</text>
<text x="72.3" y="345" font-size="9" font-weight="bold" text-anchor="start" fill="#000" textLength="15.57" lengthAdjust="spacingAndGlyphs">29.9</text>
<line x1="120.8" y1="343.94" x2="122.4" y2="343.94" stroke="#444" stroke-width="0.9"/>
<line x1="121.5" y1="340.21" x2="122.4" y2="340.21" stroke="#999" stroke-width="0.5"/>
<line x1="121.5" y1="337.97" x2="122.4" y2="337.97" stroke="#999" stroke-width="0.5"/>
<line x1="121.5" y1="336.48" x2="122.4" y2="336.48" stroke="#999" stroke-width="0.5"/>
<line x1="121.5" y1="335.23" x2="122.4" y2="335.23" stroke="#999" stroke-width="0.5"/>
<line x1="121.5" y1="334.24" x2="122.4" y2="334.24" stroke="#999" stroke-width="0.5"/>
<line x1="121.5" y1="333.37" x2="122.4" y2="333.37" stroke="#999" stroke-width="0.5"/>
<line x1="121.5" y1="332.74" x2="122.4" y2="332.74" stroke="#999" stroke-width="0.5"/>
<line x1="121.5" y1="332.12" x2="122.4" y2="332.12" stroke="#999" stroke-width="0.5"/>
<line x1="120.8" y1="330.12" x2="122.4" y2="330.12" stroke="#444" stroke-width="0.9"/>
<line x1="121.5" y1="326.38" x2="122.4" y2="326.38" stroke="#999" stroke-width="0.5"/>
<line x1="121.5" y1="324.15" x2="122.4" y2="324.15" stroke="#999" stroke-width="0.5"/>
<line x1="121.5" y1="322.65" x2="122.4" y2="322.65" stroke="#999" stroke-width="0.5"/>
<line x1="121.5" y1="321.41" x2="122.4" y2="321.41" stroke="#999" stroke-width="0.5"/>
<line x1="121.5" y1="320.41" x2="122.4" y2="320.41" stroke="#999" stroke-width="0.5"/>
<line x1="121.5" y1="319.54" x2="122.4" y2="319.54" stroke="#999" stroke-width="0.5"/>
<line x1="121.5" y1="318.92" x2="122.4" y2="318.92" stroke="#999" stroke-width="0.5"/>
<line x1="121.5" y1="318.3" x2="122.4" y2="318.3" stroke="#999" stroke-width="0.5"/>
<line x1="120.8" y1="316.29" x2="122.4" y2="316.29" stroke="#444" stroke-width="0.9"/>
<line x1="121.5" y1="312.56" x2="122.4" y2="312.56" stroke="#999" stroke-width="0.5"/>
<line x1="121.5" y1="310.32" x2="122.4" y2="310.32" stroke="#999" stroke-width="0.5"/>
<line x1="121.5" y1="308.83" x2="122.4" y2="308.83" stroke="#999" stroke-width="0.5"/>
<line x1="121.5" y1="307.58" x2="122.4" y2="307.58" stroke="#999" stroke-width="0.5"/>
<line x1="121.5" y1="306.59" x2="122.4" y2="306.59" stroke="#999" stroke-width="0.5"/>
<line x1="121.5" y1="305.72" x2="122.4" y2="305.72" stroke="#999" stroke-width="0.5"/>
<line x1="121.5" y1="305.1" x2="122.4" y2="305.1" stroke="#999" stroke-width="0.5"/>
<line x1="121.5" y1="304.47" x2="122.4" y2="304.47" stroke="#999" stroke-width="0.5"/>
<line x1="120.8" y1="302.47" x2="122.4" y2="302.47" stroke="#444" stroke-width="0.9"/>
<line x1="121.5" y1="298.74" x2="122.4" y2="298.74" stroke="#999" stroke-width="0.5"/>
<line x1="121.5" y1="296.5" x2="122.4" y2="296.5" stroke="#999" stroke-width="0.5"/>
<line x1="121.5" y1="295" x2="122.4" y2="295" stroke="#999" stroke-width="0.5"/>
<line x1="121.5" y1="293.76" x2="122.4" y2="293.76" stroke="#999" stroke-width="0.5"/>
<line x1="121.5" y1="292.76" x2="122.4" y2="292.76" stroke="#999" stroke-width="0.5"/>
<line x1="121.5" y1="291.89" x2="122.4" y2="291.89" stroke="#999" stroke-width="0.5"/>
<line x1="121.5" y1="291.27" x2="122.4" y2="291.27" stroke="#999" stroke-width="0.5"/>
<line x1="121.5" y1="290.65" x2="122.4" y2="290.65" stroke="#999" stroke-width="0.5"/>
<line x1="120.8" y1="288.64" x2="122.4" y2="288.64" stroke="#444" stroke-width="0.9"/>
<line x1="121.5" y1="284.91" x2="122.4" y2="284.91" stroke="#999" stroke-width="0.5"/>
<line x1="126.01" y1="347.8" x2="126.01" y2="349.4" stroke="#444" stroke-width="0.9"/>
<line x1="129.49" y1="347.8" x2="129.49" y2="348.7" stroke="#999" stroke-width="0.5"/>
<line x1="131.59" y1="347.8" x2="131.59" y2="348.7" stroke="#999" stroke-width="0.5"/>
<line x1="132.98" y1="347.8" x2="132.98" y2="348.7" stroke="#999" stroke-width="0.5"/>
<line x1="134.15" y1="347.8" x2="134.15" y2="348.7" stroke="#999" stroke-width="0.5"/>
<line x1="135.08" y1="347.8" x2="135.08" y2="348.7" stroke="#999" stroke-width="0.5"/>
<line x1="135.89" y1="347.8" x2="135.89" y2="348.7" stroke="#999" stroke-width="0.5"/>
<line x1="136.47" y1="347.8" x2="136.47" y2="348.7" stroke="#999" stroke-width="0.5"/>
<line x1="137.05" y1="347.8" x2="137.05" y2="348.7" stroke="#999" stroke-width="0.5"/>
<line x1="138.93" y1="347.8" x2="138.93" y2="349.4" stroke="#444" stroke-width="0.9"/>
<line x1="142.42" y1="347.8" x2="142.42" y2="348.7" stroke="#999" stroke-width="0.5"/>
<line x1="144.51" y1="347.8" x2="144.51" y2="348.7" stroke="#999" stroke-width="0.5"/>
<line x1="145.91" y1="347.8" x2="145.91" y2="348.7" stroke="#999" stroke-width="0.5"/>
<line x1="147.07" y1="347.8" x2="147.07" y2="348.7" stroke="#999" stroke-width="0.5"/>
<line x1="148" y1="347.8" x2="148" y2="348.7" stroke="#999" stroke-width="0.5"/>
<line x1="148.81" y1="347.8" x2="148.81" y2="348.7" stroke="#999" stroke-width="0.5"/>
<line x1="149.39" y1="347.8" x2="149.39" y2="348.7" stroke="#999" stroke-width="0.5"/>
<line x1="149.98" y1="347.8" x2="149.98" y2="348.7" stroke="#999" stroke-width="0.5"/>
<line x1="151.85" y1="347.8" x2="151.85" y2="349.4" stroke="#444" stroke-width="0.9"/>
<line x1="155.34" y1="347.8" x2="155.34" y2="348.7" stroke="#999" stroke-width="0.5"/>
<line x1="157.43" y1="347.8" x2="157.43" y2="348.7" stroke="#999" stroke-width="0.5"/>
<line x1="158.83" y1="347.8" x2="158.83" y2="348.7" stroke="#999" stroke-width="0.5"/>
<line x1="159.99" y1="347.8" x2="159.99" y2="348.7" stroke="#999" stroke-width="0.5"/>
<line x1="160.92" y1="347.8" x2="160.92" y2="348.7" stroke="#999" stroke-width="0.5"/>
<line x1="161.73" y1="347.8" x2="161.73" y2="348.7" stroke="#999" stroke-width="0.5"/>
<line x1="162.32" y1="347.8" x2="162.32" y2="348.7" stroke="#999" stroke-width="0.5"/>
<line x1="162.9" y1="347.8" x2="162.9" y2="348.7" stroke="#999" stroke-width="0.5"/>
<line x1="164.77" y1="347.8" x2="164.77" y2="349.4" stroke="#444" stroke-width="0.9"/>
<line x1="168.26" y1="347.8" x2="168.26" y2="348.7" stroke="#999" stroke-width="0.5"/>
<line x1="170.35" y1="347.8" x2="170.35" y2="348.7" stroke="#999" stroke-width="0.5"/>
<line x1="171.75" y1="347.8" x2="171.75" y2="348.7" stroke="#999" stroke-width="0.5"/>
<line x1="172.91" y1="347.8" x2="172.91" y2="348.7" stroke="#999" stroke-width="0.5"/>
<line x1="173.84" y1="347.8" x2="173.84" y2="348.7" stroke="#999" stroke-width="0.5"/>
<line x1="174.66" y1="347.8" x2="174.66" y2="348.7" stroke="#999" stroke-width="0.5"/>
<line x1="175.24" y1="347.8" x2="175.24" y2="348.7" stroke="#999" stroke-width="0.5"/>
<line x1="175.82" y1="347.8" x2="175.82" y2="348.7" stroke="#999" stroke-width="0.5"/>
<line x1="177.69" y1="347.8" x2="177.69" y2="349.4" stroke="#444" stroke-width="0.9"/>
<line x1="181.18" y1="347.8" x2="181.18" y2="348.7" stroke="#999" stroke-width="0.5"/>
<rect x="122.4" y="283.5" width="60.1" height="64.3" stroke="#555" stroke-width="1" fill="none"/>
<rect x="139.82" y="328.38" width="0.7" height="0.7" fill="#b9b9b9" fill-opacity="0.7"/>
<rect x="149.91" y="318.47" width="0.7" height="0.7" fill="#b9b9b9" fill-opacity="0.7"/>
<rect x="134.27" y="334.11" width="0.7" height="0.7" fill="#b9b9b9" fill-opacity="0.7"/>
<rect x="139.56" y="320.09" width="0.7" height="0.7" fill="#b9b9b9" fill-opacity="0.7"/>
<rect x="136.98" y="318.85" width="0.7" height="0.7" fill="#b9b9b9" fill-opacity="0.7"/>
<rect x="129.36" y="331.54" width="0.7" height="0.7" fill="#b9b9b9" fill-opacity="0.7"/>
<rect x="152.6" y="333.93" width="0.7" height="0.7" fill="#b9b9b9" fill-opacity="0.7"/>
<rect x="144.31" y="319.18" width="0.7" height="0.7" fill="#b9b9b9" fill-opacity="0.7"/>
<rect x="137.87" y="311.06" width="0.7" height="0.7" fill="#b9b9b9" fill-opacity="0.7"/>
<rect x="147.32" y="317.45" width="0.7" height="0.7" fill="#b9b9b9" fill-opacity="0.7"/>
<rect x="133.34" y="346.19" width="0.7" height="0.7" fill="#b9b9b9" fill-opacity="0.7"/>
<rect x="134.89" y="346.11" width="0.7" height="0.7" fill="#b9b9b9" fill-opacity="0.7"/>
<rect x="143.77" y="336.97" width="0.7" height="0.7" fill="#b9b9b9" fill-opacity="0.7"/>
<rect x="144.1" y="312.5" width="0.7" height="0.7" fill="#b9b9b9" fill-opacity="0.7"/>
<rect x="146.81" y="315.87" width="0.7" height="0.7" fill="#b9b9b9" fill-opacity="0.7"/>
<rect x="137.05" y="310.48" width="0.7" height="0.7" fill="#b9b9b9" fill-opacity="0.7"/>
<rect x="125.87" y="320.44" width="0.7" height="0.7" fill="#b9b9b9" fill-opacity="0.7"/>
<rect x="124.45" y="321.18" width="0.7" height="0.7" fill="#b9b9b9" fill-opacity="0.7"/>
<rect x="151.2" y="346.94" width="0.7" height="0.7" fill="#b9b9b9" fill-opacity="0.7"/>
<rect x="137.53" y="309.53" width="0.7" height="0.7" fill="#b9b9b9" fill-opacity="0.7"/>
<rect x="135.08" y="307.68" width="0.7" height="0.7" fill="#b9b9b9" fill-opacity="0.7"/>
<rect x="130.96" y="331.1" width="0.7" height="0.7" fill="#b9b9b9" fill-opacity="0.7"/>
<rect x="143.74" y="306.32" width="0.7" height="0.7" fill="#b9b9b9" fill-opacity="0.7"/>
<rect x="139.6" y="322.75" width="0.7" height="0.7" fill="#b9b9b9" fill-opacity="0.7"/>
<rect x="136.73" y="310.67" width="0.7" height="0.7" fill="#b9b9b9" fill-opacity="0.7"/>
<rect x="136.59" y="309.29" width="0.7" height="0.7" fill="#b9b9b9" fill-opacity="0.7"/>
<rect x="145.96" y="332.28" width="0.7" height="0.7" fill="#b9b9b9" fill-opacity="0.7"/>
<rect x="144.12" y="322.11" width="0.7" height="0.7" fill="#b9b9b9" fill-opacity="0.7"/>
<rect x="154.62" y="320.49" width="0.7" height="0.7" fill="#b9b9b9" fill-opacity="0.7"/>
<rect x="130.52" y="320.68" width="0.7" height="0.7" fill="#b9b9b9" fill-opacity="0.7"/>
<rect x="153.21" y="311.63" width="0.7" height="0.7" fill="#b9b9b9" fill-opacity="0.7"/>
<rect x="148.44" y="344.4" width="0.7" height="0.7" fill="#b9b9b9" fill-opacity="0.7"/>
<rect x="151.26" y="324.56" width="0.7" height="0.7" fill="#b9b9b9" fill-opacity="0.7"/>
<rect x="138.4" y="341.6" width="0.7" height="0.7" fill="#b9b9b9" fill-opacity="0.7"/>
<rect x="146.73" y="338.89" width="0.7" height="0.7" fill="#b9b9b9" fill-opacity="0.7"/>
<rect x="129.71" y="330.54" width="0.7" height="0.7" fill="#b9b9b9" fill-opacity="0.7"/>
<rect x="147.62" y="315.01" width="0.7" height="0.7" fill="#b9b9b9" fill-opacity="0.7"/>
<rect x="130.63" y="340.33" width="0.7" height="0.7" fill="#b9b9b9" fill-opacity="0.7"/>
<rect x="142.18" y="322.21" width="0.7" height="0.7" fill="#b9b9b9" fill-opacity="0.7"/>
<rect x="139.55" y="315.81" width="0.7" height="0.7" fill="#b9b9b9" fill-opacity="0.7"/>
<rect x="131.93" y="309.47" width="0.7" height="0.7" fill="#b9b9b9" fill-opacity="0.7"/>
<rect x="136.86" y="311.16" width="0.7" height="0.7" fill="#b9b9b9" fill-opacity="0.7"/>
<rect x="152.7" y="345.15" width="0.7" height="0.7" fill="#b9b9b9" fill-opacity="0.7"/>
<rect x="142.92" y="308.79" width="0.7" height="0.7" fill="#b9b9b9" fill-opacity="0.7"/>
<rect x="143.15" y="311.53" width="0.7" height="0.7" fill="#b9b9b9" fill-opacity="0.7"/>
<rect x="135.89" y="310.38" width="0.7" height="0.7" fill="#b9b9b9" fill-opacity="0.7"/>
<rect x="139.92" y="308.16" width="0.7" height="0.7" fill="#b9b9b9" fill-opacity="0.7"/>
<rect x="132.95" y="314.81" width="0.7" height="0.7" fill="#b9b9b9" fill-opacity="0.7"/>
<rect x="138.92" y="344.08" width="0.7" height="0.7" fill="#b9b9b9" fill-opacity="0.7"/>
<rect x="142.52" y="337.86" width="0.7" height="0.7" fill="#b9b9b9" fill-opacity="0.7"/>
<rect x="147.21" y="327.3" width="0.7" height="0.7" fill="#b9b9b9" fill-opacity="0.7"/>
<rect x="126.17" y="307.44" width="0.7" height="0.7" fill="#b9b9b9" fill-opacity="0.7"/>
<rect x="128.3" y="326.68" width="0.7" height="0.7" fill="#b9b9b9" fill-opacity="0.7"/>
<rect x="134.87" y="344.08" width="0.7" height="0.7" fill="#b9b9b9" fill-opacity="0.7"/>
<rect x="130.39" y="310.53" width="0.7" height="0.7" fill="#b9b9b9" fill-opacity="0.7"/>
<rect x="144.51" y="330.49" width="0.7" height="0.7" fill="#b9b9b9" fill-opacity="0.7"/>
<rect x="125.7" y="319.45" width="0.7" height="0.7" fill="#b9b9b9" fill-opacity="0.7"/>
<rect x="138.22" y="339.56" width="0.7" height="0.7" fill="#b9b9b9" fill-opacity="0.7"/>
<rect x="148.93" y="341.69" width="0.7" height="0.7" fill="#b9b9b9" fill-opacity="0.7"/>
<rect x="141.15" y="344.4" width="0.7" height="0.7" fill="#b9b9b9" fill-opacity="0.7"/>
<clipPath id="k15"><rect x="122.4" y="288.1" width="35.2" height="16.2"/></clipPath><g clip-path="url(#k15)">
<rect x="122.4" y="288.1" width="35.2" height="16.2" fill="#d8d8d8"/>
<radialGradient id="g16"><stop offset="0" stop-color="#828282" stop-opacity="0.7"/><stop offset="1" stop-color="#828282" stop-opacity="0"/></radialGradient><ellipse cx="148" cy="292.5" rx="9" ry="3.5" transform="rotate(0 148 292.5)" fill="url(#g16)"/>
<radialGradient id="g17"><stop offset="0" stop-color="#a5a5a5" stop-opacity="0.45"/><stop offset="1" stop-color="#a5a5a5" stop-opacity="0"/></radialGradient><ellipse cx="136" cy="297" rx="10" ry="4" transform="rotate(0 136 297)" fill="url(#g17)"/>
<path d="M125,297 C128,293 131,299 134,296 S139,300 143,297 S150,296.5 155,297.5" fill="none" stroke="#f5f5f5" stroke-width="1" stroke-opacity="0.85" stroke-linecap="round"/>
<path d="M126,301.5 C130,299.5 134,302.5 138,300.5 S146,301.5 151,300" fill="none" stroke="#ececec" stroke-width="0.8" stroke-opacity="0.7" stroke-linecap="round"/>
<path d="M124,292 C129,290.5 134,293 139,291" fill="none" stroke="#e8e8e8" stroke-width="0.7" stroke-opacity="0.6" stroke-linecap="round"/>
<path d="M123.4,289.58 Q125.13,289.85 126.86,289.32 Q128.86,290.19 130.86,289.67 Q132.56,289.59 134.27,289.75 Q137.21,289.38 140.15,289.35 Q142.18,289.66 144.21,289.95 Q146.34,289.1 148.47,289.59 Q150.65,289.13 152.84,289.41 Q155.25,289.78 157.67,289.81" fill="none" stroke="#969696" stroke-width="0.45" stroke-opacity="0.55"/>
<path d="M123.4,291.88 Q124.97,291.25 126.54,291.64 Q129.53,291.68 132.52,291.86 Q135.51,292.29 138.51,292.16 Q141.21,292.12 143.9,291.61 Q145.5,292.71 147.09,291.92 Q149.28,291.36 151.48,291.9 Q153.84,291.41 156.21,291.98 Q157.84,291.12 159.47,291.71" fill="none" stroke="#969696" stroke-width="0.45" stroke-opacity="0.55"/>
<path d="M123.4,293.91 Q125.1,293.55 126.8,294.22 Q128.81,293.21 130.81,294.2 Q132.64,295.1 134.46,293.92 Q136.35,294.54 138.23,293.71 Q139.79,294.15 141.36,294.27 Q143.97,292.87 146.58,293.81 Q148.2,294 149.82,294.06 Q152.43,294.77 155.04,294.25 Q157.9,294.26 160.76,293.9" fill="none" stroke="#969696" stroke-width="0.45" stroke-opacity="0.55"/>
<path d="M123.4,296.04 Q125.53,296.83 127.67,295.79 Q129.7,296.32 131.74,295.82 Q133.71,296.58 135.67,295.86 Q137.59,295.29 139.51,296.22 Q141.4,295.82 143.29,296.02 Q144.95,295.2 146.61,296.18 Q148.54,296.43 150.46,296.2 Q152.87,296.08 155.27,295.65 Q157.59,296.21 159.91,295.78" fill="none" stroke="#969696" stroke-width="0.45" stroke-opacity="0.55"/>
<path d="M123.4,298.37 Q125.68,299.44 127.97,298.32 Q130.12,297.2 132.27,298.08 Q135.08,298.73 137.89,298.47 Q139.45,297.28 141.01,298.58 Q143.53,298.7 146.05,298.64 Q147.72,297.35 149.39,298.58 Q152.35,298.08 155.32,298.49 Q157.76,298.35 160.2,298.58" fill="none" stroke="#969696" stroke-width="0.45" stroke-opacity="0.55"/>
<path d="M123.4,300.83 Q126.3,300.42 129.2,300.73 Q131.95,301.78 134.7,300.53 Q136.98,300.19 139.26,300.99 Q141.4,300.55 143.55,300.53 Q145.88,300.9 148.21,301.04 Q150.08,299.79 151.95,300.58 Q154.03,300.56 156.11,301.15 Q157.8,301.72 159.5,300.45" fill="none" stroke="#969696" stroke-width="0.45" stroke-opacity="0.55"/>
<path d="M123.4,302.62 Q125.55,302.77 127.7,302.24 Q130.52,303.79 133.33,302.49 Q136.06,303.18 138.78,302.34 Q141.73,301.45 144.68,302.67 Q146.39,301.82 148.11,302.78 Q150.28,301.77 152.46,302.99 Q155.33,302.79 158.21,302.29" fill="none" stroke="#969696" stroke-width="0.45" stroke-opacity="0.55"/>
<path d="M126,302.8 C137,303.5 146,302.5 156,303" fill="none" stroke="#a0a0a0" stroke-width="0.5"/>
</g>
<path d="M158.76,295.3 C159.42,293.78 161.5,294.27 163.28,294.34 C165.07,294.42 168.21,294.96 169.48,295.74 C170.75,296.52 171.11,297.75 170.91,299 C170.72,300.26 169.48,302.23 168.3,303.28 C167.11,304.33 165.3,305.27 163.79,305.3 C162.29,305.34 160.11,305.15 159.27,303.48 C158.43,301.82 158.09,296.83 158.76,295.3Z" fill="#dedede" fill-opacity="1" stroke="none"/>
<path d="M161.28,296.97 C161.61,296.13 162.57,296.45 163.59,296.44 C164.6,296.44 166.63,296.52 167.38,296.96 C168.12,297.4 168.15,298.36 168.05,299.08 C167.95,299.8 167.49,300.69 166.78,301.28 C166.06,301.86 164.64,302.54 163.77,302.57 C162.9,302.61 161.97,302.42 161.55,301.49 C161.14,300.55 160.94,297.81 161.28,296.97Z" fill="#c8c8c8" fill-opacity="0.9" stroke="none"/>
<path d="M158.76,295.3 C159.42,293.78 161.5,294.27 163.28,294.34 C165.07,294.42 168.21,294.96 169.48,295.74 C170.75,296.52 171.11,297.75 170.91,299 C170.72,300.26 169.48,302.23 168.3,303.28 C167.11,304.33 165.3,305.27 163.79,305.3 C162.29,305.34 160.11,305.15 159.27,303.48 C158.43,301.82 158.09,296.83 158.76,295.3Z" fill="none" stroke="#b4b4b4" stroke-width="0.55"/>
<path d="M160.01,296.5 C160.45,295.38 161.96,295.71 163.3,295.67 C164.65,295.62 167.12,295.69 168.1,296.25 C169.08,296.8 169.28,298.05 169.19,299.02 C169.09,299.99 168.4,301.26 167.53,302.05 C166.66,302.85 165.09,303.74 163.95,303.79 C162.8,303.84 161.34,303.57 160.68,302.36 C160.02,301.14 159.57,297.61 160.01,296.5Z" fill="none" stroke="#aaaaaa" stroke-width="0.55"/>
<path d="M161.28,296.97 C161.61,296.13 162.57,296.45 163.59,296.44 C164.6,296.44 166.63,296.52 167.38,296.96 C168.12,297.4 168.15,298.36 168.05,299.08 C167.95,299.8 167.49,300.69 166.78,301.28 C166.06,301.86 164.64,302.54 163.77,302.57 C162.9,302.61 161.97,302.42 161.55,301.49 C161.14,300.55 160.94,297.81 161.28,296.97Z" fill="none" stroke="#a0a0a0" stroke-width="0.55"/>
<path d="M162.07,297.65 C162.32,297.01 163.2,297.07 163.95,297.07 C164.71,297.06 166.08,297.31 166.63,297.62 C167.17,297.94 167.27,298.47 167.2,298.97 C167.14,299.48 166.76,300.19 166.24,300.65 C165.72,301.1 164.7,301.66 164.07,301.71 C163.44,301.75 162.81,301.58 162.47,300.9 C162.14,300.23 161.82,298.29 162.07,297.65Z" fill="none" stroke="#969696" stroke-width="0.55"/>
<path d="M163,306 C161,309 158.5,311 158,312" stroke="#aaa" stroke-width="0.6" fill="none"/>
<path d="M132,307 C138,306 143,309 149,306.5 S154,305.5 156,306" stroke="#bbb" stroke-width="0.6" fill="none"/>
<rect x="122.4" y="288.1" width="35.2" height="16.2" stroke="#000" stroke-width="1.5" fill="none"/>
<rect x="122.4" y="304.3" width="35.2" height="43.5" stroke="#000" stroke-width="1.5" fill="none"/>
<rect x="157.6" y="293.6" width="15.8" height="54.2" stroke="#000" stroke-width="1.5" fill="none"/>
<text x="126.5" y="315.8" font-size="9" font-weight="bold" text-anchor="start" fill="#000" textLength="15.57" lengthAdjust="spacingAndGlyphs">70.3</text>
<text x="138.8" y="344.5" font-size="9" font-weight="bold" text-anchor="start" fill="#000" textLength="15.57" lengthAdjust="spacingAndGlyphs">18.8</text>
<line x1="190.5" y1="343.94" x2="192.1" y2="343.94" stroke="#444" stroke-width="0.9"/>
<line x1="191.2" y1="340.21" x2="192.1" y2="340.21" stroke="#999" stroke-width="0.5"/>
<line x1="191.2" y1="337.97" x2="192.1" y2="337.97" stroke="#999" stroke-width="0.5"/>
<line x1="191.2" y1="336.48" x2="192.1" y2="336.48" stroke="#999" stroke-width="0.5"/>
<line x1="191.2" y1="335.23" x2="192.1" y2="335.23" stroke="#999" stroke-width="0.5"/>
<line x1="191.2" y1="334.24" x2="192.1" y2="334.24" stroke="#999" stroke-width="0.5"/>
<line x1="191.2" y1="333.37" x2="192.1" y2="333.37" stroke="#999" stroke-width="0.5"/>
<line x1="191.2" y1="332.74" x2="192.1" y2="332.74" stroke="#999" stroke-width="0.5"/>
<line x1="191.2" y1="332.12" x2="192.1" y2="332.12" stroke="#999" stroke-width="0.5"/>
<line x1="190.5" y1="330.12" x2="192.1" y2="330.12" stroke="#444" stroke-width="0.9"/>
<line x1="191.2" y1="326.38" x2="192.1" y2="326.38" stroke="#999" stroke-width="0.5"/>
<line x1="191.2" y1="324.15" x2="192.1" y2="324.15" stroke="#999" stroke-width="0.5"/>
<line x1="191.2" y1="322.65" x2="192.1" y2="322.65" stroke="#999" stroke-width="0.5"/>
<line x1="191.2" y1="321.41" x2="192.1" y2="321.41" stroke="#999" stroke-width="0.5"/>
<line x1="191.2" y1="320.41" x2="192.1" y2="320.41" stroke="#999" stroke-width="0.5"/>
<line x1="191.2" y1="319.54" x2="192.1" y2="319.54" stroke="#999" stroke-width="0.5"/>
<line x1="191.2" y1="318.92" x2="192.1" y2="318.92" stroke="#999" stroke-width="0.5"/>
<line x1="191.2" y1="318.3" x2="192.1" y2="318.3" stroke="#999" stroke-width="0.5"/>
<line x1="190.5" y1="316.29" x2="192.1" y2="316.29" stroke="#444" stroke-width="0.9"/>
<line x1="191.2" y1="312.56" x2="192.1" y2="312.56" stroke="#999" stroke-width="0.5"/>
<line x1="191.2" y1="310.32" x2="192.1" y2="310.32" stroke="#999" stroke-width="0.5"/>
<line x1="191.2" y1="308.83" x2="192.1" y2="308.83" stroke="#999" stroke-width="0.5"/>
<line x1="191.2" y1="307.58" x2="192.1" y2="307.58" stroke="#999" stroke-width="0.5"/>
<line x1="191.2" y1="306.59" x2="192.1" y2="306.59" stroke="#999" stroke-width="0.5"/>
<line x1="191.2" y1="305.72" x2="192.1" y2="305.72" stroke="#999" stroke-width="0.5"/>
<line x1="191.2" y1="305.1" x2="192.1" y2="305.1" stroke="#999" stroke-width="0.5"/>
<line x1="191.2" y1="304.47" x2="192.1" y2="304.47" stroke="#999" stroke-width="0.5"/>
<line x1="190.5" y1="302.47" x2="192.1" y2="302.47" stroke="#444" stroke-width="0.9"/>
<line x1="191.2" y1="298.74" x2="192.1" y2="298.74" stroke="#999" stroke-width="0.5"/>
<line x1="191.2" y1="296.5" x2="192.1" y2="296.5" stroke="#999" stroke-width="0.5"/>
<line x1="191.2" y1="295" x2="192.1" y2="295" stroke="#999" stroke-width="0.5"/>
<line x1="191.2" y1="293.76" x2="192.1" y2="293.76" stroke="#999" stroke-width="0.5"/>
<line x1="191.2" y1="292.76" x2="192.1" y2="292.76" stroke="#999" stroke-width="0.5"/>
<line x1="191.2" y1="291.89" x2="192.1" y2="291.89" stroke="#999" stroke-width="0.5"/>
<line x1="191.2" y1="291.27" x2="192.1" y2="291.27" stroke="#999" stroke-width="0.5"/>
<line x1="191.2" y1="290.65" x2="192.1" y2="290.65" stroke="#999" stroke-width="0.5"/>
<line x1="190.5" y1="288.64" x2="192.1" y2="288.64" stroke="#444" stroke-width="0.9"/>
<line x1="191.2" y1="284.91" x2="192.1" y2="284.91" stroke="#999" stroke-width="0.5"/>
<line x1="195.67" y1="347.8" x2="195.67" y2="349.4" stroke="#444" stroke-width="0.9"/>
<line x1="199.12" y1="347.8" x2="199.12" y2="348.7" stroke="#999" stroke-width="0.5"/>
<line x1="201.2" y1="347.8" x2="201.2" y2="348.7" stroke="#999" stroke-width="0.5"/>
<line x1="202.58" y1="347.8" x2="202.58" y2="348.7" stroke="#999" stroke-width="0.5"/>
<line x1="203.73" y1="347.8" x2="203.73" y2="348.7" stroke="#999" stroke-width="0.5"/>
<line x1="204.65" y1="347.8" x2="204.65" y2="348.7" stroke="#999" stroke-width="0.5"/>
<line x1="205.46" y1="347.8" x2="205.46" y2="348.7" stroke="#999" stroke-width="0.5"/>
<line x1="206.03" y1="347.8" x2="206.03" y2="348.7" stroke="#999" stroke-width="0.5"/>
<line x1="206.61" y1="347.8" x2="206.61" y2="348.7" stroke="#999" stroke-width="0.5"/>
<line x1="208.46" y1="347.8" x2="208.46" y2="349.4" stroke="#444" stroke-width="0.9"/>
<line x1="211.92" y1="347.8" x2="211.92" y2="348.7" stroke="#999" stroke-width="0.5"/>
<line x1="213.99" y1="347.8" x2="213.99" y2="348.7" stroke="#999" stroke-width="0.5"/>
<line x1="215.37" y1="347.8" x2="215.37" y2="348.7" stroke="#999" stroke-width="0.5"/>
<line x1="216.52" y1="347.8" x2="216.52" y2="348.7" stroke="#999" stroke-width="0.5"/>
<line x1="217.44" y1="347.8" x2="217.44" y2="348.7" stroke="#999" stroke-width="0.5"/>
<line x1="218.25" y1="347.8" x2="218.25" y2="348.7" stroke="#999" stroke-width="0.5"/>
<line x1="218.82" y1="347.8" x2="218.82" y2="348.7" stroke="#999" stroke-width="0.5"/>
<line x1="219.4" y1="347.8" x2="219.4" y2="348.7" stroke="#999" stroke-width="0.5"/>
<line x1="221.25" y1="347.8" x2="221.25" y2="349.4" stroke="#444" stroke-width="0.9"/>
<line x1="224.71" y1="347.8" x2="224.71" y2="348.7" stroke="#999" stroke-width="0.5"/>
<line x1="226.78" y1="347.8" x2="226.78" y2="348.7" stroke="#999" stroke-width="0.5"/>
<line x1="228.16" y1="347.8" x2="228.16" y2="348.7" stroke="#999" stroke-width="0.5"/>
<line x1="229.31" y1="347.8" x2="229.31" y2="348.7" stroke="#999" stroke-width="0.5"/>
<line x1="230.24" y1="347.8" x2="230.24" y2="348.7" stroke="#999" stroke-width="0.5"/>
<line x1="231.04" y1="347.8" x2="231.04" y2="348.7" stroke="#999" stroke-width="0.5"/>
<line x1="231.62" y1="347.8" x2="231.62" y2="348.7" stroke="#999" stroke-width="0.5"/>
<line x1="232.19" y1="347.8" x2="232.19" y2="348.7" stroke="#999" stroke-width="0.5"/>
<line x1="234.05" y1="347.8" x2="234.05" y2="349.4" stroke="#444" stroke-width="0.9"/>
<line x1="237.5" y1="347.8" x2="237.5" y2="348.7" stroke="#999" stroke-width="0.5"/>
<line x1="239.57" y1="347.8" x2="239.57" y2="348.7" stroke="#999" stroke-width="0.5"/>
<line x1="240.96" y1="347.8" x2="240.96" y2="348.7" stroke="#999" stroke-width="0.5"/>
<line x1="242.11" y1="347.8" x2="242.11" y2="348.7" stroke="#999" stroke-width="0.5"/>
<line x1="243.03" y1="347.8" x2="243.03" y2="348.7" stroke="#999" stroke-width="0.5"/>
<line x1="243.83" y1="347.8" x2="243.83" y2="348.7" stroke="#999" stroke-width="0.5"/>
<line x1="244.41" y1="347.8" x2="244.41" y2="348.7" stroke="#999" stroke-width="0.5"/>
<line x1="244.99" y1="347.8" x2="244.99" y2="348.7" stroke="#999" stroke-width="0.5"/>
<line x1="246.84" y1="347.8" x2="246.84" y2="349.4" stroke="#444" stroke-width="0.9"/>
<line x1="250.29" y1="347.8" x2="250.29" y2="348.7" stroke="#999" stroke-width="0.5"/>
<rect x="192.1" y="283.5" width="59.5" height="64.3" stroke="#555" stroke-width="1" fill="none"/>
<rect x="205.33" y="331.8" width="0.7" height="0.7" fill="#b9b9b9" fill-opacity="0.7"/>
<rect x="194.3" y="346.31" width="0.7" height="0.7" fill="#b9b9b9" fill-opacity="0.7"/>
<rect x="222.78" y="346.96" width="0.7" height="0.7" fill="#b9b9b9" fill-opacity="0.7"/>
<rect x="203.22" y="314.98" width="0.7" height="0.7" fill="#b9b9b9" fill-opacity="0.7"/>
<rect x="195.92" y="314.75" width="0.7" height="0.7" fill="#b9b9b9" fill-opacity="0.7"/>
<rect x="194.85" y="334.67" width="0.7" height="0.7" fill="#b9b9b9" fill-opacity="0.7"/>
<rect x="206.8" y="339.62" width="0.7" height="0.7" fill="#b9b9b9" fill-opacity="0.7"/>
<rect x="220.62" y="320.97" width="0.7" height="0.7" fill="#b9b9b9" fill-opacity="0.7"/>
<rect x="199.84" y="320.91" width="0.7" height="0.7" fill="#b9b9b9" fill-opacity="0.7"/>
<rect x="195.06" y="332.93" width="0.7" height="0.7" fill="#b9b9b9" fill-opacity="0.7"/>
<rect x="200.64" y="312.95" width="0.7" height="0.7" fill="#b9b9b9" fill-opacity="0.7"/>
<rect x="225.09" y="324.48" width="0.7" height="0.7" fill="#b9b9b9" fill-opacity="0.7"/>
<rect x="227.11" y="346.21" width="0.7" height="0.7" fill="#b9b9b9" fill-opacity="0.7"/>
<rect x="217.24" y="316.99" width="0.7" height="0.7" fill="#b9b9b9" fill-opacity="0.7"/>
<rect x="199.17" y="316.86" width="0.7" height="0.7" fill="#b9b9b9" fill-opacity="0.7"/>
<rect x="219.78" y="327.47" width="0.7" height="0.7" fill="#b9b9b9" fill-opacity="0.7"/>
<rect x="204.43" y="307.7" width="0.7" height="0.7" fill="#b9b9b9" fill-opacity="0.7"/>
<rect x="206.29" y="322.71" width="0.7" height="0.7" fill="#b9b9b9" fill-opacity="0.7"/>
<rect x="196.43" y="316.98" width="0.7" height="0.7" fill="#b9b9b9" fill-opacity="0.7"/>
<rect x="204.34" y="323.64" width="0.7" height="0.7" fill="#b9b9b9" fill-opacity="0.7"/>
<rect x="211.29" y="329.63" width="0.7" height="0.7" fill="#b9b9b9" fill-opacity="0.7"/>
<rect x="223.73" y="318.8" width="0.7" height="0.7" fill="#b9b9b9" fill-opacity="0.7"/>
<rect x="197.32" y="319.13" width="0.7" height="0.7" fill="#b9b9b9" fill-opacity="0.7"/>
<rect x="201.56" y="330.03" width="0.7" height="0.7" fill="#b9b9b9" fill-opacity="0.7"/>
<rect x="210.67" y="319.84" width="0.7" height="0.7" fill="#b9b9b9" fill-opacity="0.7"/>
<rect x="197.32" y="337.04" width="0.7" height="0.7" fill="#b9b9b9" fill-opacity="0.7"/>
<rect x="215.84" y="331.93" width="0.7" height="0.7" fill="#b9b9b9" fill-opacity="0.7"/>
<rect x="218.6" y="341.2" width="0.7" height="0.7" fill="#b9b9b9" fill-opacity="0.7"/>
<rect x="195.23" y="314.55" width="0.7" height="0.7" fill="#b9b9b9" fill-opacity="0.7"/>
<rect x="210.51" y="335.04" width="0.7" height="0.7" fill="#b9b9b9" fill-opacity="0.7"/>
<rect x="211.65" y="327.2" width="0.7" height="0.7" fill="#b9b9b9" fill-opacity="0.7"/>
<rect x="204.75" y="316.75" width="0.7" height="0.7" fill="#b9b9b9" fill-opacity="0.7"/>
<rect x="224.59" y="346.31" width="0.7" height="0.7" fill="#b9b9b9" fill-opacity="0.7"/>
<rect x="211.49" y="325.7" width="0.7" height="0.7" fill="#b9b9b9" fill-opacity="0.7"/>
<rect x="198.49" y="331.05" width="0.7" height="0.7" fill="#b9b9b9" fill-opacity="0.7"/>
<rect x="201.41" y="332.02" width="0.7" height="0.7" fill="#b9b9b9" fill-opacity="0.7"/>
<rect x="203.75" y="325.69" width="0.7" height="0.7" fill="#b9b9b9" fill-opacity="0.7"/>
<rect x="224.28" y="319.47" width="0.7" height="0.7" fill="#b9b9b9" fill-opacity="0.7"/>
<rect x="212.72" y="319.75" width="0.7" height="0.7" fill="#b9b9b9" fill-opacity="0.7"/>
<rect x="211" y="341.69" width="0.7" height="0.7" fill="#b9b9b9" fill-opacity="0.7"/>
<rect x="211.23" y="345.58" width="0.7" height="0.7" fill="#b9b9b9" fill-opacity="0.7"/>
<rect x="208.28" y="325.16" width="0.7" height="0.7" fill="#b9b9b9" fill-opacity="0.7"/>
<rect x="216.57" y="327.04" width="0.7" height="0.7" fill="#b9b9b9" fill-opacity="0.7"/>
<rect x="217.52" y="318.62" width="0.7" height="0.7" fill="#b9b9b9" fill-opacity="0.7"/>
<rect x="194.47" y="323.9" width="0.7" height="0.7" fill="#b9b9b9" fill-opacity="0.7"/>
<rect x="196.25" y="316.93" width="0.7" height="0.7" fill="#b9b9b9" fill-opacity="0.7"/>
<rect x="214.93" y="334.61" width="0.7" height="0.7" fill="#b9b9b9" fill-opacity="0.7"/>
<rect x="225.85" y="334.14" width="0.7" height="0.7" fill="#b9b9b9" fill-opacity="0.7"/>
<rect x="213.44" y="320.77" width="0.7" height="0.7" fill="#b9b9b9" fill-opacity="0.7"/>
<rect x="210.69" y="318.53" width="0.7" height="0.7" fill="#b9b9b9" fill-opacity="0.7"/>
<rect x="197.59" y="328.39" width="0.7" height="0.7" fill="#b9b9b9" fill-opacity="0.7"/>
<rect x="216.08" y="319.3" width="0.7" height="0.7" fill="#b9b9b9" fill-opacity="0.7"/>
<rect x="219.89" y="328.2" width="0.7" height="0.7" fill="#b9b9b9" fill-opacity="0.7"/>
<rect x="204.83" y="341.05" width="0.7" height="0.7" fill="#b9b9b9" fill-opacity="0.7"/>
<rect x="194.77" y="317.75" width="0.7" height="0.7" fill="#b9b9b9" fill-opacity="0.7"/>
<rect x="205.23" y="333.91" width="0.7" height="0.7" fill="#b9b9b9" fill-opacity="0.7"/>
<rect x="202.84" y="346.29" width="0.7" height="0.7" fill="#b9b9b9" fill-opacity="0.7"/>
<rect x="197.68" y="325" width="0.7" height="0.7" fill="#b9b9b9" fill-opacity="0.7"/>
<rect x="210.44" y="336.78" width="0.7" height="0.7" fill="#b9b9b9" fill-opacity="0.7"/>
<rect x="202.9" y="313.49" width="0.7" height="0.7" fill="#b9b9b9" fill-opacity="0.7"/>
<rect x="220.04" y="338.49" width="0.7" height="0.7" fill="#b9b9b9" fill-opacity="0.7"/>
<rect x="214.13" y="343.12" width="0.7" height="0.7" fill="#b9b9b9" fill-opacity="0.7"/>
<rect x="207.82" y="324.97" width="0.7" height="0.7" fill="#b9b9b9" fill-opacity="0.7"/>
<rect x="211.45" y="312.08" width="0.7" height="0.7" fill="#b9b9b9" fill-opacity="0.7"/>
<rect x="222.97" y="309.47" width="0.7" height="0.7" fill="#b9b9b9" fill-opacity="0.7"/>
<rect x="196.7" y="343.42" width="0.7" height="0.7" fill="#b9b9b9" fill-opacity="0.7"/>
<rect x="209.82" y="312.84" width="0.7" height="0.7" fill="#b9b9b9" fill-opacity="0.7"/>
<rect x="225.07" y="314.59" width="0.7" height="0.7" fill="#b9b9b9" fill-opacity="0.7"/>
<rect x="209.87" y="307.58" width="0.7" height="0.7" fill="#b9b9b9" fill-opacity="0.7"/>
<rect x="199.01" y="326.28" width="0.7" height="0.7" fill="#b9b9b9" fill-opacity="0.7"/>
<clipPath id="k18"><rect x="192.1" y="289.5" width="38.3" height="16.5"/></clipPath><g clip-path="url(#k18)">
<linearGradient id="lg19" x1="0" y1="0" x2="1" y2="0"><stop offset="0" stop-color="#eaeaea"/><stop offset="0.45" stop-color="#dcdcdc"/><stop offset="0.8" stop-color="#c6c6c6"/><stop offset="1" stop-color="#bcbcbc"/></linearGradient>
<rect x="192.1" y="289.5" width="38.3" height="16.5" fill="url(#lg19)"/>
<radialGradient id="g20"><stop offset="0" stop-color="#828282" stop-opacity="0.7"/><stop offset="1" stop-color="#828282" stop-opacity="0"/></radialGradient><ellipse cx="225" cy="296.5" rx="6" ry="4.5" transform="rotate(0 225 296.5)" fill="url(#g20)"/>
<path d="M193.1,291.14 Q194.75,290.87 196.41,291.03 Q198.99,292.08 201.57,291.45 Q203.77,291.17 205.97,290.91 Q207.65,290.95 209.33,291.06 Q212.31,290.44 215.29,291.19 Q217.1,290.85 218.91,291.52 Q221.65,290.37 224.39,290.76 Q227.09,291.36 229.79,290.85" fill="none" stroke="#969696" stroke-width="0.45" stroke-opacity="0.55"/>
<path d="M193.1,293.15 Q194.93,292.34 196.77,292.86 Q198.83,292.68 200.89,292.85 Q203.02,293.94 205.15,293.53 Q208.14,293.25 211.13,293.38 Q213.43,293.68 215.73,293.32 Q217.24,293.05 218.76,292.97 Q220.73,292.99 222.7,292.84 Q224.63,292.26 226.56,293.04 Q228.64,294.31 230.73,293.03" fill="none" stroke="#969696" stroke-width="0.45" stroke-opacity="0.55"/>
<path d="M193.1,295.14 Q194.71,295.3 196.32,295.16 Q199.25,294.13 202.18,295.42 Q204.25,295.49 206.33,295.04 Q209.21,296.18 212.09,294.86 Q214.23,295.85 216.37,295.42 Q218.5,294.85 220.64,295.47 Q223.42,296.05 226.2,295.15 Q228.89,294.55 231.59,295.31" fill="none" stroke="#969696" stroke-width="0.45" stroke-opacity="0.55"/>
<path d="M193.1,297.45 Q195.28,297.86 197.47,297.74 Q199.19,296.98 200.91,297.37 Q202.92,297.62 204.93,297.43 Q207.79,298.29 210.65,297.37 Q213.38,297.5 216.11,297.12 Q218.07,297.7 220.03,297.56 Q222.93,298.33 225.82,297.81 Q228.65,296.26 231.49,297.52" fill="none" stroke="#969696" stroke-width="0.45" stroke-opacity="0.55"/>
<path d="M193.1,300.02 Q194.74,299.11 196.38,300.23 Q199.05,298.94 201.73,299.88 Q204.22,299.16 206.71,300.1 Q209.58,300.67 212.46,300.13 Q214.05,300.48 215.65,299.9 Q217.6,300.82 219.55,299.71 Q221.88,298.96 224.22,300.34 Q226.56,300.21 228.9,300.29 Q231.03,300.88 233.17,300.26" fill="none" stroke="#969696" stroke-width="0.45" stroke-opacity="0.55"/>
<path d="M193.1,302.22 Q195.06,303.21 197.01,302.29 Q199.78,302.96 202.54,302.22 Q204.71,301.1 206.88,302.59 Q209.46,301.82 212.05,302.6 Q213.55,302.42 215.05,302.31 Q217.43,302.72 219.81,302.37 Q221.47,302.07 223.13,302.57 Q225.25,301.6 227.38,302.24 Q230.18,301.47 232.97,302.31" fill="none" stroke="#969696" stroke-width="0.45" stroke-opacity="0.55"/>
<path d="M193.1,304.25 Q194.84,304.23 196.58,304.44 Q198.8,304.44 201.03,304.13 Q203.42,305.27 205.81,304.51 Q208.14,303.88 210.48,304.54 Q212.15,305.37 213.82,304.02 Q215.53,304.98 217.23,304.63 Q218.76,305.15 220.29,304.58 Q222.92,304.81 225.56,304.64 Q228.33,303.06 231.11,304.14" fill="none" stroke="#969696" stroke-width="0.45" stroke-opacity="0.55"/>
<path d="M230,291.5 C221,291.8 212,293.5 203,297.2 C212,301 221,302.6 230,303" fill="none" stroke="#969696" stroke-width="0.55"/>
<path d="M230,293.2 C223,293.5 216,295 210,297.4 C216,299.8 223,301 230,301.5" fill="none" stroke="#8c8c8c" stroke-width="0.55"/>
<path d="M230,294.8 C225,295 221,296 217.5,297.4 C221,298.8 225,299.6 230,299.9" fill="none" stroke="#7d7d7d" stroke-width="0.55"/>
<path d="M194,293 C198,292.5 202,294 206,293" fill="none" stroke="#c8c8c8" stroke-width="0.5"/>
<path d="M194,301 C198,302 203,300.5 207,301.8" fill="none" stroke="#c8c8c8" stroke-width="0.5"/>
</g>
<path d="M242.17,310.06 C242.24,311.34 242.53,312.66 242.06,313.75 C241.59,314.84 240.35,315.97 239.36,316.6 C238.38,317.22 237.22,317.48 236.14,317.48 C235.07,317.48 233.82,317.24 232.91,316.59 C231.99,315.93 231.27,314.64 230.64,313.56 C230.02,312.47 229.2,311.34 229.15,310.08 C229.1,308.82 229.71,307.08 230.35,305.99 C230.98,304.9 231.99,304.14 232.96,303.53 C233.93,302.92 235.14,302.39 236.16,302.36 C237.18,302.32 238.17,302.72 239.08,303.34 C239.99,303.96 241.11,304.95 241.63,306.07 C242.14,307.19 242.1,308.78 242.17,310.06Z" fill="#e8e8e8" fill-opacity="1" stroke="none"/>
<path d="M242.17,310.06 C242.24,311.34 242.53,312.66 242.06,313.75 C241.59,314.84 240.35,315.97 239.36,316.6 C238.38,317.22 237.22,317.48 236.14,317.48 C235.07,317.48 233.82,317.24 232.91,316.59 C231.99,315.93 231.27,314.64 230.64,313.56 C230.02,312.47 229.2,311.34 229.15,310.08 C229.1,308.82 229.71,307.08 230.35,305.99 C230.98,304.9 231.99,304.14 232.96,303.53 C233.93,302.92 235.14,302.39 236.16,302.36 C237.18,302.32 238.17,302.72 239.08,303.34 C239.99,303.96 241.11,304.95 241.63,306.07 C242.14,307.19 242.1,308.78 242.17,310.06Z" fill="none" stroke="#c3c3c3" stroke-width="0.55"/>
<path d="M240.94,309.87 C240.98,310.84 241.07,312.17 240.66,313.06 C240.26,313.95 239.34,314.72 238.53,315.2 C237.73,315.68 236.65,316 235.85,315.95 C235.05,315.91 234.45,315.43 233.73,314.95 C233.02,314.46 232.09,313.92 231.56,313.06 C231.04,312.2 230.6,310.81 230.58,309.79 C230.57,308.77 230.95,307.78 231.46,306.95 C231.97,306.12 232.93,305.27 233.65,304.81 C234.37,304.36 235.02,304.15 235.79,304.2 C236.56,304.25 237.5,304.6 238.27,305.11 C239.04,305.61 239.98,306.43 240.42,307.23 C240.87,308.02 240.9,308.9 240.94,309.87Z" fill="none" stroke="#b6b6b6" stroke-width="0.55"/>
<path d="M240.07,309.9 C240.11,310.67 239.93,311.67 239.61,312.34 C239.3,313 238.8,313.52 238.2,313.91 C237.59,314.29 236.7,314.68 235.98,314.66 C235.27,314.63 234.48,314.18 233.92,313.76 C233.36,313.35 232.91,312.82 232.6,312.17 C232.29,311.52 232.06,310.65 232.06,309.89 C232.06,309.12 232.26,308.23 232.61,307.58 C232.96,306.92 233.64,306.27 234.18,305.95 C234.72,305.64 235.26,305.64 235.85,305.68 C236.45,305.71 237.18,305.83 237.76,306.18 C238.34,306.52 238.96,307.11 239.35,307.73 C239.73,308.35 240.02,309.13 240.07,309.9Z" fill="none" stroke="#aaaaaa" stroke-width="0.55"/>
<path d="M215,307 C222,309 227,312 231,316" stroke="#bbb" stroke-width="0.6" fill="none"/>
<path d="M209.49,335.5 C209.62,336.14 209.85,337.03 209.36,337.62 C208.87,338.22 207.6,338.78 206.55,339.05 C205.49,339.32 204.2,339.29 203.01,339.24 C201.82,339.19 200.35,339.11 199.42,338.76 C198.49,338.42 198.01,337.71 197.45,337.16 C196.88,336.61 196.09,336.06 196.05,335.45 C196.01,334.84 196.63,334.04 197.23,333.49 C197.83,332.94 198.68,332.52 199.65,332.13 C200.62,331.74 201.9,331.12 203.04,331.17 C204.18,331.21 205.55,331.96 206.48,332.4 C207.4,332.83 208.08,333.26 208.59,333.77 C209.09,334.29 209.36,334.86 209.49,335.5Z" fill="#f8f8f8" fill-opacity="1" stroke="none"/>
<path d="M209.49,335.5 C209.62,336.14 209.85,337.03 209.36,337.62 C208.87,338.22 207.6,338.78 206.55,339.05 C205.49,339.32 204.2,339.29 203.01,339.24 C201.82,339.19 200.35,339.11 199.42,338.76 C198.49,338.42 198.01,337.71 197.45,337.16 C196.88,336.61 196.09,336.06 196.05,335.45 C196.01,334.84 196.63,334.04 197.23,333.49 C197.83,332.94 198.68,332.52 199.65,332.13 C200.62,331.74 201.9,331.12 203.04,331.17 C204.18,331.21 205.55,331.96 206.48,332.4 C207.4,332.83 208.08,333.26 208.59,333.77 C209.09,334.29 209.36,334.86 209.49,335.5Z" fill="none" stroke="#a5a5a5" stroke-width="0.7"/>
<rect x="192.1" y="289.5" width="38.3" height="16.5" stroke="#000" stroke-width="1.5" fill="none"/>
<rect x="192.1" y="306" width="38.3" height="41.8" stroke="#000" stroke-width="1.5" fill="none"/>
<rect x="230.4" y="302.2" width="15.9" height="45.6" stroke="#000" stroke-width="1.5" fill="none"/>
<text x="195.8" y="315.4" font-size="9" font-weight="bold" text-anchor="start" fill="#000" textLength="8.9" lengthAdjust="spacingAndGlyphs">78</text>
<text x="211.7" y="344.5" font-size="9" font-weight="bold" text-anchor="start" fill="#000" textLength="15.57" lengthAdjust="spacingAndGlyphs">11.8</text>
<line x1="258.5" y1="343.94" x2="260.1" y2="343.94" stroke="#444" stroke-width="0.9"/>
<line x1="259.2" y1="340.21" x2="260.1" y2="340.21" stroke="#999" stroke-width="0.5"/>
<line x1="259.2" y1="337.97" x2="260.1" y2="337.97" stroke="#999" stroke-width="0.5"/>
<line x1="259.2" y1="336.48" x2="260.1" y2="336.48" stroke="#999" stroke-width="0.5"/>
<line x1="259.2" y1="335.23" x2="260.1" y2="335.23" stroke="#999" stroke-width="0.5"/>
<line x1="259.2" y1="334.24" x2="260.1" y2="334.24" stroke="#999" stroke-width="0.5"/>
<line x1="259.2" y1="333.37" x2="260.1" y2="333.37" stroke="#999" stroke-width="0.5"/>
<line x1="259.2" y1="332.74" x2="260.1" y2="332.74" stroke="#999" stroke-width="0.5"/>
<line x1="259.2" y1="332.12" x2="260.1" y2="332.12" stroke="#999" stroke-width="0.5"/>
<line x1="258.5" y1="330.12" x2="260.1" y2="330.12" stroke="#444" stroke-width="0.9"/>
<line x1="259.2" y1="326.38" x2="260.1" y2="326.38" stroke="#999" stroke-width="0.5"/>
<line x1="259.2" y1="324.15" x2="260.1" y2="324.15" stroke="#999" stroke-width="0.5"/>
<line x1="259.2" y1="322.65" x2="260.1" y2="322.65" stroke="#999" stroke-width="0.5"/>
<line x1="259.2" y1="321.41" x2="260.1" y2="321.41" stroke="#999" stroke-width="0.5"/>
<line x1="259.2" y1="320.41" x2="260.1" y2="320.41" stroke="#999" stroke-width="0.5"/>
<line x1="259.2" y1="319.54" x2="260.1" y2="319.54" stroke="#999" stroke-width="0.5"/>
<line x1="259.2" y1="318.92" x2="260.1" y2="318.92" stroke="#999" stroke-width="0.5"/>
<line x1="259.2" y1="318.3" x2="260.1" y2="318.3" stroke="#999" stroke-width="0.5"/>
<line x1="258.5" y1="316.29" x2="260.1" y2="316.29" stroke="#444" stroke-width="0.9"/>
<line x1="259.2" y1="312.56" x2="260.1" y2="312.56" stroke="#999" stroke-width="0.5"/>
<line x1="259.2" y1="310.32" x2="260.1" y2="310.32" stroke="#999" stroke-width="0.5"/>
<line x1="259.2" y1="308.83" x2="260.1" y2="308.83" stroke="#999" stroke-width="0.5"/>
<line x1="259.2" y1="307.58" x2="260.1" y2="307.58" stroke="#999" stroke-width="0.5"/>
<line x1="259.2" y1="306.59" x2="260.1" y2="306.59" stroke="#999" stroke-width="0.5"/>
<line x1="259.2" y1="305.72" x2="260.1" y2="305.72" stroke="#999" stroke-width="0.5"/>
<line x1="259.2" y1="305.1" x2="260.1" y2="305.1" stroke="#999" stroke-width="0.5"/>
<line x1="259.2" y1="304.47" x2="260.1" y2="304.47" stroke="#999" stroke-width="0.5"/>
<line x1="258.5" y1="302.47" x2="260.1" y2="302.47" stroke="#444" stroke-width="0.9"/>
<line x1="259.2" y1="298.74" x2="260.1" y2="298.74" stroke="#999" stroke-width="0.5"/>
<line x1="259.2" y1="296.5" x2="260.1" y2="296.5" stroke="#999" stroke-width="0.5"/>
<line x1="259.2" y1="295" x2="260.1" y2="295" stroke="#999" stroke-width="0.5"/>
<line x1="259.2" y1="293.76" x2="260.1" y2="293.76" stroke="#999" stroke-width="0.5"/>
<line x1="259.2" y1="292.76" x2="260.1" y2="292.76" stroke="#999" stroke-width="0.5"/>
<line x1="259.2" y1="291.89" x2="260.1" y2="291.89" stroke="#999" stroke-width="0.5"/>
<line x1="259.2" y1="291.27" x2="260.1" y2="291.27" stroke="#999" stroke-width="0.5"/>
<line x1="259.2" y1="290.65" x2="260.1" y2="290.65" stroke="#999" stroke-width="0.5"/>
<line x1="258.5" y1="288.64" x2="260.1" y2="288.64" stroke="#444" stroke-width="0.9"/>
<line x1="259.2" y1="284.91" x2="260.1" y2="284.91" stroke="#999" stroke-width="0.5"/>
<line x1="263.65" y1="347.8" x2="263.65" y2="349.4" stroke="#444" stroke-width="0.9"/>
<line x1="267.08" y1="347.8" x2="267.08" y2="348.7" stroke="#999" stroke-width="0.5"/>
<line x1="269.14" y1="347.8" x2="269.14" y2="348.7" stroke="#999" stroke-width="0.5"/>
<line x1="270.51" y1="347.8" x2="270.51" y2="348.7" stroke="#999" stroke-width="0.5"/>
<line x1="271.65" y1="347.8" x2="271.65" y2="348.7" stroke="#999" stroke-width="0.5"/>
<line x1="272.57" y1="347.8" x2="272.57" y2="348.7" stroke="#999" stroke-width="0.5"/>
<line x1="273.37" y1="347.8" x2="273.37" y2="348.7" stroke="#999" stroke-width="0.5"/>
<line x1="273.94" y1="347.8" x2="273.94" y2="348.7" stroke="#999" stroke-width="0.5"/>
<line x1="274.51" y1="347.8" x2="274.51" y2="348.7" stroke="#999" stroke-width="0.5"/>
<line x1="276.35" y1="347.8" x2="276.35" y2="349.4" stroke="#444" stroke-width="0.9"/>
<line x1="279.78" y1="347.8" x2="279.78" y2="348.7" stroke="#999" stroke-width="0.5"/>
<line x1="281.84" y1="347.8" x2="281.84" y2="348.7" stroke="#999" stroke-width="0.5"/>
<line x1="283.21" y1="347.8" x2="283.21" y2="348.7" stroke="#999" stroke-width="0.5"/>
<line x1="284.36" y1="347.8" x2="284.36" y2="348.7" stroke="#999" stroke-width="0.5"/>
<line x1="285.27" y1="347.8" x2="285.27" y2="348.7" stroke="#999" stroke-width="0.5"/>
<line x1="286.07" y1="347.8" x2="286.07" y2="348.7" stroke="#999" stroke-width="0.5"/>
<line x1="286.64" y1="347.8" x2="286.64" y2="348.7" stroke="#999" stroke-width="0.5"/>
<line x1="287.22" y1="347.8" x2="287.22" y2="348.7" stroke="#999" stroke-width="0.5"/>
<line x1="289.06" y1="347.8" x2="289.06" y2="349.4" stroke="#444" stroke-width="0.9"/>
<line x1="292.49" y1="347.8" x2="292.49" y2="348.7" stroke="#999" stroke-width="0.5"/>
<line x1="294.55" y1="347.8" x2="294.55" y2="348.7" stroke="#999" stroke-width="0.5"/>
<line x1="295.92" y1="347.8" x2="295.92" y2="348.7" stroke="#999" stroke-width="0.5"/>
<line x1="297.06" y1="347.8" x2="297.06" y2="348.7" stroke="#999" stroke-width="0.5"/>
<line x1="297.98" y1="347.8" x2="297.98" y2="348.7" stroke="#999" stroke-width="0.5"/>
<line x1="298.78" y1="347.8" x2="298.78" y2="348.7" stroke="#999" stroke-width="0.5"/>
<line x1="299.35" y1="347.8" x2="299.35" y2="348.7" stroke="#999" stroke-width="0.5"/>
<line x1="299.92" y1="347.8" x2="299.92" y2="348.7" stroke="#999" stroke-width="0.5"/>
<line x1="301.77" y1="347.8" x2="301.77" y2="349.4" stroke="#444" stroke-width="0.9"/>
<line x1="305.2" y1="347.8" x2="305.2" y2="348.7" stroke="#999" stroke-width="0.5"/>
<line x1="307.25" y1="347.8" x2="307.25" y2="348.7" stroke="#999" stroke-width="0.5"/>
<line x1="308.63" y1="347.8" x2="308.63" y2="348.7" stroke="#999" stroke-width="0.5"/>
<line x1="309.77" y1="347.8" x2="309.77" y2="348.7" stroke="#999" stroke-width="0.5"/>
<line x1="310.69" y1="347.8" x2="310.69" y2="348.7" stroke="#999" stroke-width="0.5"/>
<line x1="311.49" y1="347.8" x2="311.49" y2="348.7" stroke="#999" stroke-width="0.5"/>
<line x1="312.06" y1="347.8" x2="312.06" y2="348.7" stroke="#999" stroke-width="0.5"/>
<line x1="312.63" y1="347.8" x2="312.63" y2="348.7" stroke="#999" stroke-width="0.5"/>
<line x1="314.47" y1="347.8" x2="314.47" y2="349.4" stroke="#444" stroke-width="0.9"/>
<line x1="317.9" y1="347.8" x2="317.9" y2="348.7" stroke="#999" stroke-width="0.5"/>
<rect x="260.1" y="283.5" width="59.1" height="64.3" stroke="#555" stroke-width="1" fill="none"/>
<rect x="274.14" y="324.58" width="0.7" height="0.7" fill="#b9b9b9" fill-opacity="0.7"/>
<rect x="275.39" y="321.75" width="0.7" height="0.7" fill="#b9b9b9" fill-opacity="0.7"/>
<rect x="282.03" y="312.54" width="0.7" height="0.7" fill="#b9b9b9" fill-opacity="0.7"/>
<rect x="272.81" y="337.28" width="0.7" height="0.7" fill="#b9b9b9" fill-opacity="0.7"/>
<rect x="276.55" y="343.14" width="0.7" height="0.7" fill="#b9b9b9" fill-opacity="0.7"/>
<rect x="268.93" y="320.67" width="0.7" height="0.7" fill="#b9b9b9" fill-opacity="0.7"/>
<rect x="269.31" y="311.42" width="0.7" height="0.7" fill="#b9b9b9" fill-opacity="0.7"/>
<rect x="263.81" y="327.07" width="0.7" height="0.7" fill="#b9b9b9" fill-opacity="0.7"/>
<rect x="269.15" y="329.77" width="0.7" height="0.7" fill="#b9b9b9" fill-opacity="0.7"/>
<rect x="285.07" y="346.78" width="0.7" height="0.7" fill="#b9b9b9" fill-opacity="0.7"/>
<rect x="280.69" y="319.57" width="0.7" height="0.7" fill="#b9b9b9" fill-opacity="0.7"/>
<rect x="271.21" y="342.84" width="0.7" height="0.7" fill="#b9b9b9" fill-opacity="0.7"/>
<rect x="267.61" y="339.78" width="0.7" height="0.7" fill="#b9b9b9" fill-opacity="0.7"/>
<rect x="267.89" y="324.36" width="0.7" height="0.7" fill="#b9b9b9" fill-opacity="0.7"/>
<rect x="275.38" y="345.35" width="0.7" height="0.7" fill="#b9b9b9" fill-opacity="0.7"/>
<rect x="279.56" y="340.42" width="0.7" height="0.7" fill="#b9b9b9" fill-opacity="0.7"/>
<rect x="270.38" y="320.32" width="0.7" height="0.7" fill="#b9b9b9" fill-opacity="0.7"/>
<rect x="282.88" y="329.99" width="0.7" height="0.7" fill="#b9b9b9" fill-opacity="0.7"/>
<rect x="279.27" y="310.03" width="0.7" height="0.7" fill="#b9b9b9" fill-opacity="0.7"/>
<rect x="263.49" y="323.53" width="0.7" height="0.7" fill="#b9b9b9" fill-opacity="0.7"/>
<rect x="269.37" y="316.91" width="0.7" height="0.7" fill="#b9b9b9" fill-opacity="0.7"/>
<rect x="281.58" y="343.72" width="0.7" height="0.7" fill="#b9b9b9" fill-opacity="0.7"/>
<rect x="267.38" y="310.11" width="0.7" height="0.7" fill="#b9b9b9" fill-opacity="0.7"/>
<rect x="266.53" y="313.55" width="0.7" height="0.7" fill="#b9b9b9" fill-opacity="0.7"/>
<rect x="279.37" y="321.65" width="0.7" height="0.7" fill="#b9b9b9" fill-opacity="0.7"/>
<rect x="285.49" y="306.77" width="0.7" height="0.7" fill="#b9b9b9" fill-opacity="0.7"/>
<rect x="274.85" y="311.45" width="0.7" height="0.7" fill="#b9b9b9" fill-opacity="0.7"/>
<rect x="282.38" y="321.63" width="0.7" height="0.7" fill="#b9b9b9" fill-opacity="0.7"/>
<rect x="267.78" y="329.9" width="0.7" height="0.7" fill="#b9b9b9" fill-opacity="0.7"/>
<rect x="282.94" y="306.63" width="0.7" height="0.7" fill="#b9b9b9" fill-opacity="0.7"/>
<rect x="267.53" y="343.02" width="0.7" height="0.7" fill="#b9b9b9" fill-opacity="0.7"/>
<rect x="272.08" y="309.95" width="0.7" height="0.7" fill="#b9b9b9" fill-opacity="0.7"/>
<rect x="284.35" y="344.82" width="0.7" height="0.7" fill="#b9b9b9" fill-opacity="0.7"/>
<rect x="272.24" y="314.03" width="0.7" height="0.7" fill="#b9b9b9" fill-opacity="0.7"/>
<rect x="262.64" y="336.45" width="0.7" height="0.7" fill="#b9b9b9" fill-opacity="0.7"/>
<rect x="280.51" y="336.24" width="0.7" height="0.7" fill="#b9b9b9" fill-opacity="0.7"/>
<rect x="278.59" y="320.49" width="0.7" height="0.7" fill="#b9b9b9" fill-opacity="0.7"/>
<rect x="268.9" y="329.57" width="0.7" height="0.7" fill="#b9b9b9" fill-opacity="0.7"/>
<rect x="281.04" y="325.29" width="0.7" height="0.7" fill="#b9b9b9" fill-opacity="0.7"/>
<rect x="274.36" y="321.94" width="0.7" height="0.7" fill="#b9b9b9" fill-opacity="0.7"/>
<rect x="281.74" y="345.22" width="0.7" height="0.7" fill="#b9b9b9" fill-opacity="0.7"/>
<rect x="268.58" y="345.36" width="0.7" height="0.7" fill="#b9b9b9" fill-opacity="0.7"/>
<rect x="281.51" y="322.57" width="0.7" height="0.7" fill="#b9b9b9" fill-opacity="0.7"/>
<rect x="268.08" y="334.07" width="0.7" height="0.7" fill="#b9b9b9" fill-opacity="0.7"/>
<rect x="275.02" y="330.23" width="0.7" height="0.7" fill="#b9b9b9" fill-opacity="0.7"/>
<rect x="285.85" y="346.22" width="0.7" height="0.7" fill="#b9b9b9" fill-opacity="0.7"/>
<rect x="278.88" y="327.25" width="0.7" height="0.7" fill="#b9b9b9" fill-opacity="0.7"/>
<rect x="266" y="309.09" width="0.7" height="0.7" fill="#b9b9b9" fill-opacity="0.7"/>
<rect x="281.69" y="316.48" width="0.7" height="0.7" fill="#b9b9b9" fill-opacity="0.7"/>
<rect x="278.36" y="318.47" width="0.7" height="0.7" fill="#b9b9b9" fill-opacity="0.7"/>
<rect x="267.15" y="334.04" width="0.7" height="0.7" fill="#b9b9b9" fill-opacity="0.7"/>
<rect x="266.12" y="308.89" width="0.7" height="0.7" fill="#b9b9b9" fill-opacity="0.7"/>
<rect x="285.89" y="322.36" width="0.7" height="0.7" fill="#b9b9b9" fill-opacity="0.7"/>
<rect x="270.65" y="338.37" width="0.7" height="0.7" fill="#b9b9b9" fill-opacity="0.7"/>
<rect x="267.07" y="338.55" width="0.7" height="0.7" fill="#b9b9b9" fill-opacity="0.7"/>
<clipPath id="k21"><rect x="260.1" y="287.8" width="33.1" height="17.4"/></clipPath><g clip-path="url(#k21)">
<rect x="260.1" y="287.8" width="33.1" height="17.4" fill="#d2d2d2"/>
<radialGradient id="g22"><stop offset="0" stop-color="#7d7d7d" stop-opacity="0.75"/><stop offset="1" stop-color="#7d7d7d" stop-opacity="0"/></radialGradient><ellipse cx="283" cy="296" rx="8" ry="5.5" transform="rotate(0 283 296)" fill="url(#g22)"/>
<path d="M263,294 C266,292 269,295.5 272,294 S277,293 280,294.5" fill="none" stroke="#f0f0f0" stroke-width="0.9" stroke-opacity="0.8" stroke-linecap="round"/>
<path d="M263,300 C267,302 271,299.5 275,301.5 S283,301.5 288,300.5" fill="none" stroke="#ebebeb" stroke-width="0.8" stroke-opacity="0.7" stroke-linecap="round"/>
<path d="M261.1,289.18 Q263.49,288.77 265.87,289.14 Q267.68,289.14 269.49,288.84 Q271.14,288.49 272.8,289.03 Q275.08,289 277.36,289.19 Q279.05,289.64 280.75,289.54 Q283.46,289.75 286.17,289.16 Q288.51,289.92 290.84,289.03 Q293.29,290.26 295.74,289.04" fill="none" stroke="#969696" stroke-width="0.45" stroke-opacity="0.55"/>
<path d="M261.1,291.66 Q263.36,291.84 265.62,292.04 Q268.14,290.83 270.65,291.69 Q273.59,292.22 276.52,291.8 Q278.77,291.78 281.03,291.63 Q283.16,292.72 285.28,291.7 Q287.7,291.52 290.12,291.42 Q292.39,290.69 294.66,291.5" fill="none" stroke="#969696" stroke-width="0.45" stroke-opacity="0.55"/>
<path d="M261.1,293.76 Q262.69,293.7 264.28,293.61 Q266.44,294.74 268.6,293.56 Q271.35,292.72 274.1,294.05 Q275.97,292.74 277.84,294.05 Q280.52,293.71 283.2,293.71 Q285.08,294.52 286.96,293.74 Q289.93,293.69 292.9,293.48" fill="none" stroke="#969696" stroke-width="0.45" stroke-opacity="0.55"/>
<path d="M261.1,295.76 Q263.96,296.75 266.82,295.7 Q269.81,295.46 272.8,295.71 Q275.51,295.95 278.22,295.79 Q280.02,295.31 281.82,295.93 Q284.53,294.84 287.24,296.01 Q289.55,296.94 291.86,295.77 Q294.8,295.35 297.74,295.62" fill="none" stroke="#969696" stroke-width="0.45" stroke-opacity="0.55"/>
<path d="M261.1,298.24 Q264.06,299.29 267.02,298.35 Q269.7,298.5 272.37,298.63 Q274.88,299.35 277.38,298.08 Q279.37,297.94 281.35,298.16 Q283.71,299.31 286.06,298.03 Q288.83,298.96 291.59,298.51 Q294.32,299.43 297.05,298.44" fill="none" stroke="#969696" stroke-width="0.45" stroke-opacity="0.55"/>
<path d="M261.1,300.59 Q263.5,300.57 265.9,300.74 Q268.69,299.48 271.49,300.39 Q273.62,299.82 275.75,300.54 Q278.46,301.5 281.16,300.88 Q283.21,300.46 285.25,300.71 Q287.81,301.18 290.37,300.65 Q293.25,300.61 296.14,300.38" fill="none" stroke="#969696" stroke-width="0.45" stroke-opacity="0.55"/>
<path d="M261.1,302.63 Q263.54,302.33 265.97,302.3 Q267.92,302.07 269.86,302.94 Q272.18,302.36 274.5,302.74 Q276.5,303.03 278.51,302.76 Q281.06,303.72 283.61,302.32 Q286.26,301.87 288.9,302.76 Q291.58,302.73 294.27,302.49" fill="none" stroke="#969696" stroke-width="0.45" stroke-opacity="0.55"/>
<path d="M270,296 C272,291.5 280,290 287,292 C291,294 291,299 287,301.5 C281,303.5 274,301.5 270,296Z" fill="none" stroke="#969696" stroke-width="0.5"/>
<path d="M276,296 C277,293.2 282,292.5 286,293.8 C288.5,295.5 288,298.5 285.5,299.8 C281.5,300.8 277,299.5 276,296Z" fill="none" stroke="#828282" stroke-width="0.5"/>
</g>
<path d="M269.79,323.99 C270.41,322.75 272.35,320.83 274,319.78 C275.65,318.73 278.09,317.67 279.69,317.67 C281.29,317.68 282.93,318.41 283.61,319.79 C284.28,321.17 284.34,324.38 283.75,325.96 C283.15,327.54 281.69,328.64 280.05,329.26 C278.41,329.88 275.51,330.04 273.88,329.71 C272.26,329.37 270.96,328.2 270.27,327.25 C269.59,326.3 269.17,325.24 269.79,323.99Z" fill="#ececec" fill-opacity="0.9" stroke="none"/>
<path d="M269.79,323.99 C270.41,322.75 272.35,320.83 274,319.78 C275.65,318.73 278.09,317.67 279.69,317.67 C281.29,317.68 282.93,318.41 283.61,319.79 C284.28,321.17 284.34,324.38 283.75,325.96 C283.15,327.54 281.69,328.64 280.05,329.26 C278.41,329.88 275.51,330.04 273.88,329.71 C272.26,329.37 270.96,328.2 270.27,327.25 C269.59,326.3 269.17,325.24 269.79,323.99Z" fill="none" stroke="#a5a5a5" stroke-width="0.6"/>
<path d="M272.38,323.94 C272.73,323.06 274.03,321.8 275.05,321.07 C276.07,320.34 277.48,319.54 278.5,319.58 C279.52,319.62 280.71,320.37 281.17,321.32 C281.63,322.28 281.6,324.29 281.24,325.32 C280.88,326.36 280.07,327.17 279.03,327.55 C277.99,327.94 276.02,327.83 275,327.63 C273.99,327.43 273.37,326.95 272.93,326.34 C272.5,325.72 272.03,324.82 272.38,323.94Z" fill="none" stroke="#989898" stroke-width="0.6"/>
<path d="M273.92,323.95 C274.18,323.39 275.17,322.68 275.85,322.22 C276.53,321.75 277.38,321.18 278.01,321.18 C278.63,321.18 279.35,321.58 279.62,322.21 C279.89,322.85 279.84,324.29 279.64,324.97 C279.43,325.65 279.05,326.04 278.38,326.28 C277.71,326.53 276.3,326.55 275.61,326.43 C274.93,326.31 274.57,325.99 274.28,325.58 C274,325.17 273.66,324.51 273.92,323.95Z" fill="none" stroke="#8c8c8c" stroke-width="0.6"/>
<path d="M262,309 C268,306 276,308 284,306.5" stroke="#c4c4c4" stroke-width="0.6" fill="none"/>
<path d="M289,311.21 C289.16,309.42 290.46,308.11 291.75,307.43 C293.04,306.74 295.3,306.76 296.73,307.09 C298.16,307.42 299.57,308.28 300.31,309.39 C301.06,310.49 301.36,312.32 301.19,313.73 C301.02,315.15 299.46,316.51 299.29,317.88 C299.12,319.26 300.56,320.84 300.19,321.99 C299.82,323.13 298.22,324.74 297.08,324.74 C295.93,324.74 294.38,323.06 293.34,321.97 C292.29,320.87 291.52,319.96 290.8,318.17 C290.08,316.38 288.84,313 289,311.21Z" fill="#e1e1e1" fill-opacity="1" stroke="none"/>
<path d="M292.9,312.48 C293,311.59 293.77,310.98 294.46,310.62 C295.14,310.27 296.27,310.19 297.02,310.35 C297.77,310.51 298.62,311 298.95,311.6 C299.28,312.2 299.13,313.19 299,313.94 C298.87,314.69 298.26,315.43 298.19,316.11 C298.12,316.79 298.79,317.44 298.58,318.01 C298.37,318.59 297.5,319.53 296.92,319.56 C296.35,319.59 295.62,318.8 295.11,318.2 C294.6,317.6 294.23,316.92 293.86,315.97 C293.49,315.02 292.8,313.37 292.9,312.48Z" fill="#c3c3c3" fill-opacity="0.9" stroke="none"/>
<path d="M289,311.21 C289.16,309.42 290.46,308.11 291.75,307.43 C293.04,306.74 295.3,306.76 296.73,307.09 C298.16,307.42 299.57,308.28 300.31,309.39 C301.06,310.49 301.36,312.32 301.19,313.73 C301.02,315.15 299.46,316.51 299.29,317.88 C299.12,319.26 300.56,320.84 300.19,321.99 C299.82,323.13 298.22,324.74 297.08,324.74 C295.93,324.74 294.38,323.06 293.34,321.97 C292.29,320.87 291.52,319.96 290.8,318.17 C290.08,316.38 288.84,313 289,311.21Z" fill="none" stroke="#aaaaaa" stroke-width="0.55"/>
<path d="M291.03,311.95 C291.15,310.67 292.36,309.82 293.33,309.35 C294.31,308.88 295.85,308.92 296.86,309.15 C297.88,309.38 298.91,309.92 299.44,310.74 C299.98,311.56 300.19,313.04 300.07,314.04 C299.95,315.05 298.84,315.79 298.72,316.76 C298.6,317.73 299.62,319.05 299.34,319.85 C299.06,320.66 297.83,321.63 297.06,321.58 C296.28,321.54 295.4,320.36 294.66,319.6 C293.92,318.84 293.23,318.29 292.62,317.02 C292.02,315.74 290.91,313.23 291.03,311.95Z" fill="none" stroke="#9d9d9d" stroke-width="0.55"/>
<path d="M292.9,312.48 C293,311.59 293.77,310.98 294.46,310.62 C295.14,310.27 296.27,310.19 297.02,310.35 C297.77,310.51 298.62,311 298.95,311.6 C299.28,312.2 299.13,313.19 299,313.94 C298.87,314.69 298.26,315.43 298.19,316.11 C298.12,316.79 298.79,317.44 298.58,318.01 C298.37,318.59 297.5,319.53 296.92,319.56 C296.35,319.59 295.62,318.8 295.11,318.2 C294.6,317.6 294.23,316.92 293.86,315.97 C293.49,315.02 292.8,313.37 292.9,312.48Z" fill="none" stroke="#919191" stroke-width="0.55"/>
<path d="M294.12,312.91 C294.17,312.24 294.61,311.83 295.08,311.59 C295.55,311.35 296.43,311.33 296.95,311.45 C297.47,311.57 297.94,311.87 298.2,312.31 C298.46,312.74 298.58,313.54 298.52,314.05 C298.46,314.57 297.91,314.9 297.84,315.39 C297.78,315.88 298.25,316.6 298.11,317.01 C297.97,317.41 297.4,317.82 296.99,317.82 C296.58,317.82 296.01,317.4 295.64,317.03 C295.27,316.66 295.02,316.28 294.77,315.59 C294.51,314.91 294.07,313.58 294.12,312.91Z" fill="none" stroke="#848484" stroke-width="0.55"/>
<path d="M294.78,313.21 C294.83,312.75 295.31,312.43 295.67,312.24 C296.03,312.06 296.56,312.02 296.93,312.1 C297.3,312.18 297.71,312.43 297.91,312.74 C298.11,313.04 298.18,313.53 298.13,313.93 C298.08,314.33 297.64,314.77 297.6,315.14 C297.56,315.51 297.98,315.89 297.88,316.17 C297.78,316.46 297.32,316.87 297,316.86 C296.69,316.85 296.26,316.42 295.99,316.11 C295.72,315.8 295.59,315.5 295.39,315.01 C295.18,314.53 294.73,313.67 294.78,313.21Z" fill="none" stroke="#787878" stroke-width="0.55"/>
<rect x="260.1" y="287.8" width="33.1" height="17.4" stroke="#000" stroke-width="1.5" fill="none"/>
<rect x="260.1" y="305.2" width="26.9" height="42.6" stroke="#000" stroke-width="1.5" fill="none"/>
<rect x="287" y="305.2" width="24.8" height="42.6" stroke="#000" stroke-width="1.5" fill="none"/>
<text x="264.8" y="315.4" font-size="9" font-weight="bold" text-anchor="start" fill="#000" textLength="8.9" lengthAdjust="spacingAndGlyphs">72</text>
<text x="269.4" y="344.5" font-size="9" font-weight="bold" text-anchor="start" fill="#000" textLength="15.57" lengthAdjust="spacingAndGlyphs">17.3</text>
<text x="25" y="382.6" font-size="14" font-weight="bold" text-anchor="start" fill="#000">D</text>
<line x1="38.8" y1="397.55" x2="38.8" y2="484.85" stroke="#1a1a1a" stroke-width="1.3"/>
<line x1="38.15" y1="484.2" x2="169.75" y2="484.2" stroke="#1a1a1a" stroke-width="1.3"/>
<line x1="38.15" y1="398.2" x2="169.75" y2="398.2" stroke="#1a1a1a" stroke-width="1.3"/>
<line x1="169.1" y1="398.2" x2="169.1" y2="484.2" stroke="#1a1a1a" stroke-width="1.3"/>
<line x1="36.4" y1="484.2" x2="38.8" y2="484.2" stroke="#1a1a1a" stroke-width="1.2"/>
<text x="35.8" y="487.05" font-size="8" font-weight="bold" text-anchor="end" fill="#000">0</text>
<line x1="36.4" y1="462.7" x2="38.8" y2="462.7" stroke="#1a1a1a" stroke-width="1.2"/>
<text x="35.8" y="465.55" font-size="8" font-weight="bold" text-anchor="end" fill="#000">1</text>
<line x1="36.4" y1="441.2" x2="38.8" y2="441.2" stroke="#1a1a1a" stroke-width="1.2"/>
<text x="35.8" y="444.05" font-size="8" font-weight="bold" text-anchor="end" fill="#000">2</text>
<line x1="36.4" y1="419.7" x2="38.8" y2="419.7" stroke="#1a1a1a" stroke-width="1.2"/>
<text x="35.8" y="422.55" font-size="8" font-weight="bold" text-anchor="end" fill="#000">3</text>
<line x1="36.4" y1="398.2" x2="38.8" y2="398.2" stroke="#1a1a1a" stroke-width="1.2"/>
<text x="35.8" y="401.05" font-size="8" font-weight="bold" text-anchor="end" fill="#000">4</text>
<line x1="55" y1="484.2" x2="55" y2="487.2" stroke="#1a1a1a" stroke-width="1.3"/>
<text x="55" y="494.8" font-size="8" font-weight="bold" text-anchor="middle" fill="#000">0</text>
<line x1="87.3" y1="484.2" x2="87.3" y2="487.2" stroke="#1a1a1a" stroke-width="1.3"/>
<text x="87.3" y="494.8" font-size="8" font-weight="bold" text-anchor="middle" fill="#000">4</text>
<line x1="119.5" y1="484.2" x2="119.5" y2="487.2" stroke="#1a1a1a" stroke-width="1.3"/>
<text x="119.5" y="494.8" font-size="8" font-weight="bold" text-anchor="middle" fill="#000">6</text>
<line x1="152" y1="484.2" x2="152" y2="487.2" stroke="#1a1a1a" stroke-width="1.3"/>
<text x="152" y="494.8" font-size="8" font-weight="bold" text-anchor="middle" fill="#000">8</text>
<text x="106.1" y="501.8" font-size="9" font-weight="bold" text-anchor="middle" fill="#000" textLength="14.6" lengthAdjust="spacingAndGlyphs">Day</text>
<text transform="translate(26,492.9) rotate(-90)" font-size="7.5" font-weight="bold" text-anchor="start" fill="#000" textLength="105.9" lengthAdjust="spacingAndGlyphs" style="stroke-width:0.1px">Number of monocytes (x10<tspan font-size="4.6" dy="-2.8">6</tspan><tspan dy="2.8">)/ml</tspan></text>
<line x1="44.3" y1="406.6" x2="53.5" y2="406.6" stroke="#000" stroke-width="1"/>
<circle cx="48.9" cy="406.6" r="3.1" fill="#000"/>
<text x="58.8" y="408.98" font-size="6.6" font-weight="bold" text-anchor="start" fill="#000" textLength="8.8" lengthAdjust="spacingAndGlyphs">WT</text>
<line x1="44.3" y1="416.6" x2="53.5" y2="416.6" stroke="#000" stroke-width="1"/>
<rect x="45.8" y="413.5" width="6.2" height="6.2" fill="#000"/>
<text x="58.8" y="418.98" font-size="6.14" font-weight="bold" text-anchor="start" fill="#000">IFN&#947;<tspan font-size="3.81" dy="-2.33">-/-</tspan></text>
<path d="M55,470.22 L87.3,478.18 L119.5,473.02 L152,459.47" fill="none" stroke="#fff" stroke-width="2.35"/>
<path d="M55,470.22 L87.3,478.18 L119.5,473.02 L152,459.47" fill="none" stroke="#000" stroke-width="1.15"/>
<rect x="51.7" y="466.92" width="6.6" height="6.6" fill="#000"/>
<rect x="84" y="474.88" width="6.6" height="6.6" fill="#000"/>
<rect x="116.2" y="469.72" width="6.6" height="6.6" fill="#000"/>
<rect x="148.7" y="456.17" width="6.6" height="6.6" fill="#000"/>
<line x1="152" y1="424.43" x2="152" y2="419.27" stroke="#000" stroke-width="1"/>
<line x1="148.6" y1="419.27" x2="155.4" y2="419.27" stroke="#000" stroke-width="1.2"/>
<path d="M55,467 L87.3,477.75 L119.5,471.3 L152,424.43" fill="none" stroke="#fff" stroke-width="2.35"/>
<path d="M55,467 L87.3,477.75 L119.5,471.3 L152,424.43" fill="none" stroke="#000" stroke-width="1.15"/>
<circle cx="55" cy="467" r="3.3" fill="#000"/>
<circle cx="87.3" cy="477.75" r="3.3" fill="#000"/>
<circle cx="119.5" cy="471.3" r="3.3" fill="#000"/>
<circle cx="152" cy="424.43" r="3.3" fill="#000"/>
<polygon points="146.2,410.77 147.02,412.43 148.86,412.7 147.53,414 147.85,415.83 146.2,414.97 144.55,415.83 144.87,414 143.54,412.7 145.38,412.43" fill="#000" stroke="#000" stroke-width="0.3" stroke-linejoin="round"/>
<polygon points="151.8,410.77 152.62,412.43 154.46,412.7 153.13,414 153.45,415.83 151.8,414.97 150.15,415.83 150.47,414 149.14,412.7 150.98,412.43" fill="#000" stroke="#000" stroke-width="0.3" stroke-linejoin="round"/>
<polygon points="157.4,410.77 158.22,412.43 160.06,412.7 158.73,414 159.05,415.83 157.4,414.97 155.75,415.83 156.07,414 154.74,412.7 156.58,412.43" fill="#000" stroke="#000" stroke-width="0.3" stroke-linejoin="round"/>
<text x="196.7" y="382.6" font-size="14" font-weight="bold" text-anchor="start" fill="#000">E</text>
<line x1="216.5" y1="397.85" x2="216.5" y2="485.05" stroke="#1a1a1a" stroke-width="1.3"/>
<line x1="215.85" y1="484.4" x2="346.65" y2="484.4" stroke="#1a1a1a" stroke-width="1.3"/>
<line x1="215.85" y1="398.5" x2="346.65" y2="398.5" stroke="#1a1a1a" stroke-width="1.3"/>
<line x1="346" y1="398.5" x2="346" y2="484.4" stroke="#1a1a1a" stroke-width="1.3"/>
<line x1="214.1" y1="484.4" x2="216.5" y2="484.4" stroke="#1a1a1a" stroke-width="1.2"/>
<text x="213.5" y="487.25" font-size="8" font-weight="bold" text-anchor="end" fill="#000">0</text>
<line x1="214.1" y1="462.92" x2="216.5" y2="462.92" stroke="#1a1a1a" stroke-width="1.2"/>
<text x="213.5" y="465.77" font-size="8" font-weight="bold" text-anchor="end" fill="#000">1</text>
<line x1="214.1" y1="441.45" x2="216.5" y2="441.45" stroke="#1a1a1a" stroke-width="1.2"/>
<text x="213.5" y="444.3" font-size="8" font-weight="bold" text-anchor="end" fill="#000">2</text>
<line x1="214.1" y1="419.98" x2="216.5" y2="419.98" stroke="#1a1a1a" stroke-width="1.2"/>
<text x="213.5" y="422.83" font-size="8" font-weight="bold" text-anchor="end" fill="#000">3</text>
<line x1="214.1" y1="398.5" x2="216.5" y2="398.5" stroke="#1a1a1a" stroke-width="1.2"/>
<text x="213.5" y="401.35" font-size="8" font-weight="bold" text-anchor="end" fill="#000">4</text>
<line x1="233.2" y1="484.4" x2="233.2" y2="487.4" stroke="#1a1a1a" stroke-width="1.3"/>
<text x="233.2" y="494.8" font-size="8" font-weight="bold" text-anchor="middle" fill="#000">0</text>
<line x1="265" y1="484.4" x2="265" y2="487.4" stroke="#1a1a1a" stroke-width="1.3"/>
<text x="265" y="494.8" font-size="8" font-weight="bold" text-anchor="middle" fill="#000">4</text>
<line x1="297.4" y1="484.4" x2="297.4" y2="487.4" stroke="#1a1a1a" stroke-width="1.3"/>
<text x="297.4" y="494.8" font-size="8" font-weight="bold" text-anchor="middle" fill="#000">6</text>
<line x1="329.9" y1="484.4" x2="329.9" y2="487.4" stroke="#1a1a1a" stroke-width="1.3"/>
<text x="329.9" y="494.8" font-size="8" font-weight="bold" text-anchor="middle" fill="#000">8</text>
<text x="283.9" y="501.8" font-size="9" font-weight="bold" text-anchor="middle" fill="#000" textLength="14.6" lengthAdjust="spacingAndGlyphs">Day</text>
<text transform="translate(205.9,494.3) rotate(-90)" font-size="7.5" font-weight="bold" text-anchor="start" fill="#000" textLength="107" lengthAdjust="spacingAndGlyphs" style="stroke-width:0.1px">Number of neutrophils (x10<tspan font-size="4.6" dy="-2.8">6</tspan><tspan dy="2.8">)/ml</tspan></text>
<line x1="222.9" y1="406.4" x2="232.1" y2="406.4" stroke="#000" stroke-width="1"/>
<circle cx="227.5" cy="406.4" r="3.1" fill="#000"/>
<text x="236.6" y="408.78" font-size="6.6" font-weight="bold" text-anchor="start" fill="#000" textLength="8.8" lengthAdjust="spacingAndGlyphs">WT</text>
<line x1="222.9" y1="416.4" x2="232.1" y2="416.4" stroke="#000" stroke-width="1"/>
<rect x="224.4" y="413.3" width="6.2" height="6.2" fill="#000"/>
<text x="236.6" y="418.78" font-size="6.14" font-weight="bold" text-anchor="start" fill="#000">IFN&#947;<tspan font-size="3.81" dy="-2.33">-/-</tspan></text>
<line x1="297.4" y1="437.15" x2="297.4" y2="432.43" stroke="#000" stroke-width="1"/>
<line x1="294" y1="432.43" x2="300.8" y2="432.43" stroke="#000" stroke-width="1.2"/>
<line x1="329.9" y1="423.2" x2="329.9" y2="416.75" stroke="#000" stroke-width="1"/>
<line x1="326.5" y1="416.75" x2="333.3" y2="416.75" stroke="#000" stroke-width="1.2"/>
<path d="M233.2,464.43 L265,464 L297.4,437.15 L329.9,423.2" fill="none" stroke="#fff" stroke-width="2.35"/>
<path d="M233.2,464.43 L265,464 L297.4,437.15 L329.9,423.2" fill="none" stroke="#000" stroke-width="1.15"/>
<rect x="229.9" y="461.13" width="6.6" height="6.6" fill="#000"/>
<rect x="261.7" y="460.7" width="6.6" height="6.6" fill="#000"/>
<rect x="294.1" y="433.85" width="6.6" height="6.6" fill="#000"/>
<rect x="326.6" y="419.9" width="6.6" height="6.6" fill="#000"/>
<line x1="329.9" y1="465.72" x2="329.9" y2="460.78" stroke="#000" stroke-width="1"/>
<line x1="326.5" y1="460.78" x2="333.3" y2="460.78" stroke="#000" stroke-width="1.2"/>
<path d="M233.2,462.92 L265,464 L297.4,444.89 L329.9,465.72" fill="none" stroke="#fff" stroke-width="2.35"/>
<path d="M233.2,462.92 L265,464 L297.4,444.89 L329.9,465.72" fill="none" stroke="#000" stroke-width="1.15"/>
<circle cx="233.2" cy="462.92" r="3.3" fill="#000"/>
<circle cx="265" cy="464" r="3.3" fill="#000"/>
<circle cx="297.4" cy="444.89" r="3.3" fill="#000"/>
<circle cx="329.9" cy="465.72" r="3.3" fill="#000"/>
<polygon points="324.5,408.97 325.32,410.63 327.16,410.9 325.83,412.2 326.15,414.03 324.5,413.17 322.85,414.03 323.17,412.2 321.84,410.9 323.68,410.63" fill="#000" stroke="#000" stroke-width="0.3" stroke-linejoin="round"/>
<polygon points="330.1,408.97 330.92,410.63 332.76,410.9 331.43,412.2 331.75,414.03 330.1,413.17 328.45,414.03 328.77,412.2 327.44,410.9 329.28,410.63" fill="#000" stroke="#000" stroke-width="0.3" stroke-linejoin="round"/>
<polygon points="335.7,408.97 336.52,410.63 338.36,410.9 337.03,412.2 337.35,414.03 335.7,413.17 334.05,414.03 334.37,412.2 333.04,410.9 334.88,410.63" fill="#000" stroke="#000" stroke-width="0.3" stroke-linejoin="round"/>
<text x="374.3" y="382.7" font-size="14" font-weight="bold" text-anchor="start" fill="#000">F</text>
<line x1="385.6" y1="398.95" x2="385.6" y2="485.65" stroke="#1a1a1a" stroke-width="1.3"/>
<line x1="384.95" y1="485" x2="516.05" y2="485" stroke="#1a1a1a" stroke-width="1.3"/>
<line x1="384.95" y1="399.6" x2="516.05" y2="399.6" stroke="#1a1a1a" stroke-width="1.3"/>
<line x1="515.4" y1="399.6" x2="515.4" y2="485" stroke="#1a1a1a" stroke-width="1.3"/>
<line x1="383.2" y1="485" x2="385.6" y2="485" stroke="#1a1a1a" stroke-width="1.2"/>
<text x="382.6" y="487.85" font-size="8" font-weight="bold" text-anchor="end" fill="#000">0</text>
<line x1="383.2" y1="463.65" x2="385.6" y2="463.65" stroke="#1a1a1a" stroke-width="1.2"/>
<text x="382.6" y="466.5" font-size="8" font-weight="bold" text-anchor="end" fill="#000">1</text>
<line x1="383.2" y1="442.3" x2="385.6" y2="442.3" stroke="#1a1a1a" stroke-width="1.2"/>
<text x="382.6" y="445.15" font-size="8" font-weight="bold" text-anchor="end" fill="#000">2</text>
<line x1="383.2" y1="420.95" x2="385.6" y2="420.95" stroke="#1a1a1a" stroke-width="1.2"/>
<text x="382.6" y="423.8" font-size="8" font-weight="bold" text-anchor="end" fill="#000">3</text>
<line x1="383.2" y1="399.6" x2="385.6" y2="399.6" stroke="#1a1a1a" stroke-width="1.2"/>
<text x="382.6" y="402.45" font-size="8" font-weight="bold" text-anchor="end" fill="#000">4</text>
<line x1="402.1" y1="485" x2="402.1" y2="488" stroke="#1a1a1a" stroke-width="1.3"/>
<text x="402.1" y="495.4" font-size="8" font-weight="bold" text-anchor="middle" fill="#000">0</text>
<line x1="434.5" y1="485" x2="434.5" y2="488" stroke="#1a1a1a" stroke-width="1.3"/>
<text x="434.5" y="495.4" font-size="8" font-weight="bold" text-anchor="middle" fill="#000">4</text>
<line x1="466.7" y1="485" x2="466.7" y2="488" stroke="#1a1a1a" stroke-width="1.3"/>
<text x="466.7" y="495.4" font-size="8" font-weight="bold" text-anchor="middle" fill="#000">6</text>
<line x1="499" y1="485" x2="499" y2="488" stroke="#1a1a1a" stroke-width="1.3"/>
<text x="499" y="495.4" font-size="8" font-weight="bold" text-anchor="middle" fill="#000">8</text>
<text x="453.3" y="502.3" font-size="9" font-weight="bold" text-anchor="middle" fill="#000" textLength="14.6" lengthAdjust="spacingAndGlyphs">Day</text>
<text transform="translate(374.2,457.9) rotate(-90)" font-size="7.5" font-weight="bold" text-anchor="start" fill="#000" textLength="32.9" lengthAdjust="spacingAndGlyphs" style="stroke-width:0.1px">Ratio M:N</text>
<line x1="391.3" y1="406.9" x2="400.5" y2="406.9" stroke="#000" stroke-width="1"/>
<circle cx="395.9" cy="406.9" r="3.1" fill="#000"/>
<text x="405.6" y="409.28" font-size="6.6" font-weight="bold" text-anchor="start" fill="#000" textLength="8.8" lengthAdjust="spacingAndGlyphs">WT</text>
<line x1="391.3" y1="417.7" x2="400.5" y2="417.7" stroke="#000" stroke-width="1"/>
<rect x="392.8" y="414.6" width="6.2" height="6.2" fill="#000"/>
<text x="405.6" y="420.08" font-size="6.14" font-weight="bold" text-anchor="start" fill="#000">IFN&#947;<tspan font-size="3.81" dy="-2.33">-/-</tspan></text>
<path d="M402.1,469.63 L434.5,480.73 L466.7,481.37 L499,477.53" fill="none" stroke="#fff" stroke-width="2.35"/>
<path d="M402.1,469.63 L434.5,480.73 L466.7,481.37 L499,477.53" fill="none" stroke="#000" stroke-width="1.15"/>
<rect x="398.8" y="466.33" width="6.6" height="6.6" fill="#000"/>
<rect x="431.2" y="477.43" width="6.6" height="6.6" fill="#000"/>
<rect x="463.4" y="478.07" width="6.6" height="6.6" fill="#000"/>
<rect x="495.7" y="474.23" width="6.6" height="6.6" fill="#000"/>
<line x1="499" y1="427.78" x2="499" y2="417.75" stroke="#000" stroke-width="1"/>
<line x1="495.6" y1="417.75" x2="502.4" y2="417.75" stroke="#000" stroke-width="1.2"/>
<path d="M402.1,465.36 L434.5,479.45 L466.7,476.67 L499,427.78" fill="none" stroke="#fff" stroke-width="2.35"/>
<path d="M402.1,465.36 L434.5,479.45 L466.7,476.67 L499,427.78" fill="none" stroke="#000" stroke-width="1.15"/>
<circle cx="402.1" cy="465.36" r="3.3" fill="#000"/>
<circle cx="434.5" cy="479.45" r="3.3" fill="#000"/>
<circle cx="466.7" cy="476.67" r="3.3" fill="#000"/>
<circle cx="499" cy="427.78" r="3.3" fill="#000"/>
<polygon points="493.7,410.17 494.52,411.83 496.36,412.1 495.03,413.4 495.35,415.23 493.7,414.37 492.05,415.23 492.37,413.4 491.04,412.1 492.88,411.83" fill="#000" stroke="#000" stroke-width="0.3" stroke-linejoin="round"/>
<polygon points="499.3,410.17 500.12,411.83 501.96,412.1 500.63,413.4 500.95,415.23 499.3,414.37 497.65,415.23 497.97,413.4 496.64,412.1 498.48,411.83" fill="#000" stroke="#000" stroke-width="0.3" stroke-linejoin="round"/>
<polygon points="504.9,410.17 505.72,411.83 507.56,412.1 506.23,413.4 506.55,415.23 504.9,414.37 503.25,415.23 503.57,413.4 502.24,412.1 504.08,411.83" fill="#000" stroke="#000" stroke-width="0.3" stroke-linejoin="round"/>
<text x="24.6" y="655.3" font-size="14" font-weight="bold" text-anchor="start" fill="#000">J</text>
<line x1="39.4" y1="664.55" x2="39.4" y2="752.85" stroke="#1a1a1a" stroke-width="1.3"/>
<line x1="38.75" y1="752.2" x2="171.35" y2="752.2" stroke="#1a1a1a" stroke-width="1.3"/>
<line x1="38.75" y1="665.2" x2="171.35" y2="665.2" stroke="#1a1a1a" stroke-width="1.3"/>
<line x1="170.7" y1="665.2" x2="170.7" y2="752.2" stroke="#1a1a1a" stroke-width="1.3"/>
<line x1="37" y1="752.2" x2="39.4" y2="752.2" stroke="#1a1a1a" stroke-width="1.2"/>
<text x="36.4" y="755.05" font-size="8" font-weight="bold" text-anchor="end" fill="#000">0</text>
<line x1="37" y1="730.45" x2="39.4" y2="730.45" stroke="#1a1a1a" stroke-width="1.2"/>
<text x="36.4" y="733.3" font-size="8" font-weight="bold" text-anchor="end" fill="#000">5</text>
<line x1="37" y1="708.7" x2="39.4" y2="708.7" stroke="#1a1a1a" stroke-width="1.2"/>
<text x="36.4" y="711.55" font-size="8" font-weight="bold" text-anchor="end" fill="#000">10</text>
<line x1="37" y1="686.95" x2="39.4" y2="686.95" stroke="#1a1a1a" stroke-width="1.2"/>
<text x="36.4" y="689.8" font-size="8" font-weight="bold" text-anchor="end" fill="#000">15</text>
<line x1="37" y1="665.2" x2="39.4" y2="665.2" stroke="#1a1a1a" stroke-width="1.2"/>
<text x="36.4" y="668.05" font-size="8" font-weight="bold" text-anchor="end" fill="#000">20</text>
<line x1="56.1" y1="752.2" x2="56.1" y2="755.2" stroke="#1a1a1a" stroke-width="1.3"/>
<text x="56.1" y="762.4" font-size="8" font-weight="bold" text-anchor="middle" fill="#000">0</text>
<line x1="88.8" y1="752.2" x2="88.8" y2="755.2" stroke="#1a1a1a" stroke-width="1.3"/>
<text x="88.8" y="762.4" font-size="8" font-weight="bold" text-anchor="middle" fill="#000">4</text>
<line x1="121.3" y1="752.2" x2="121.3" y2="755.2" stroke="#1a1a1a" stroke-width="1.3"/>
<text x="121.3" y="762.4" font-size="8" font-weight="bold" text-anchor="middle" fill="#000">6</text>
<line x1="154.2" y1="752.2" x2="154.2" y2="755.2" stroke="#1a1a1a" stroke-width="1.3"/>
<text x="154.2" y="762.4" font-size="8" font-weight="bold" text-anchor="middle" fill="#000">8</text>
<text x="107.75" y="769.8" font-size="9" font-weight="bold" text-anchor="middle" fill="#000" textLength="14.6" lengthAdjust="spacingAndGlyphs">Day</text>
<text transform="translate(22.6,761.9) rotate(-90)" font-size="7.5" font-weight="bold" text-anchor="start" fill="#000" textLength="107.1" lengthAdjust="spacingAndGlyphs" style="stroke-width:0.1px">Number of CD8 T cells (x10<tspan font-size="4.6" dy="-2.8">6</tspan><tspan dy="2.8">)/ml</tspan></text>
<line x1="45.5" y1="672.7" x2="54.7" y2="672.7" stroke="#000" stroke-width="1"/>
<circle cx="50.1" cy="672.7" r="3.1" fill="#000"/>
<text x="59.6" y="675.08" font-size="6.6" font-weight="bold" text-anchor="start" fill="#000" textLength="8.8" lengthAdjust="spacingAndGlyphs">WT</text>
<line x1="45.5" y1="683.1" x2="54.7" y2="683.1" stroke="#000" stroke-width="1"/>
<rect x="47" y="680" width="6.2" height="6.2" fill="#000"/>
<text x="59.6" y="685.48" font-size="6.14" font-weight="bold" text-anchor="start" fill="#000">IFN&#947;<tspan font-size="3.81" dy="-2.33">-/-</tspan></text>
<path d="M56.1,740.46 L88.8,750.24 L121.3,748.29 L154.2,701.31" fill="none" stroke="#fff" stroke-width="2.35"/>
<path d="M56.1,740.46 L88.8,750.24 L121.3,748.29 L154.2,701.31" fill="none" stroke="#000" stroke-width="1.15"/>
<rect x="52.8" y="737.16" width="6.6" height="6.6" fill="#000"/>
<rect x="85.5" y="746.94" width="6.6" height="6.6" fill="#000"/>
<rect x="118" y="744.99" width="6.6" height="6.6" fill="#000"/>
<rect x="150.9" y="698.01" width="6.6" height="6.6" fill="#000"/>
<line x1="154.2" y1="692.61" x2="154.2" y2="688.26" stroke="#000" stroke-width="1"/>
<line x1="150.8" y1="688.26" x2="157.6" y2="688.26" stroke="#000" stroke-width="1.2"/>
<path d="M56.1,740.46 L88.8,750.03 L121.3,748.29 L154.2,692.61" fill="none" stroke="#fff" stroke-width="2.35"/>
<path d="M56.1,740.46 L88.8,750.03 L121.3,748.29 L154.2,692.61" fill="none" stroke="#000" stroke-width="1.15"/>
<circle cx="56.1" cy="740.46" r="3.3" fill="#000"/>
<circle cx="88.8" cy="750.03" r="3.3" fill="#000"/>
<circle cx="121.3" cy="748.29" r="3.3" fill="#000"/>
<circle cx="154.2" cy="692.61" r="3.3" fill="#000"/>
<text x="24.6" y="521.7" font-size="14" font-weight="bold" text-anchor="start" fill="#000">G</text>
<rect x="44.4" y="587.05" width="22.3" height="29.95" fill="#000"/>
<line x1="55.55" y1="587.05" x2="55.55" y2="583.26" stroke="#000" stroke-width="1.1"/>
<line x1="49.75" y1="583.26" x2="61.35" y2="583.26" stroke="#000" stroke-width="1.3"/>
<rect x="77.2" y="555.8" width="21.8" height="61.2" fill="#000"/>
<line x1="88.1" y1="555.8" x2="88.1" y2="550.72" stroke="#000" stroke-width="1.1"/>
<line x1="82.43" y1="550.72" x2="93.77" y2="550.72" stroke="#000" stroke-width="1.3"/>
<rect x="109.2" y="586.73" width="22.1" height="30.27" fill="#000"/>
<line x1="120.25" y1="586.73" x2="120.25" y2="585.64" stroke="#000" stroke-width="1.1"/>
<line x1="114.5" y1="585.64" x2="126" y2="585.64" stroke="#000" stroke-width="1.3"/>
<rect x="141.9" y="580.99" width="21.9" height="36.01" fill="#000"/>
<line x1="152.85" y1="580.99" x2="152.85" y2="575.91" stroke="#000" stroke-width="1.1"/>
<line x1="147.16" y1="575.91" x2="158.54" y2="575.91" stroke="#000" stroke-width="1.3"/>
<line x1="39.5" y1="529.85" x2="39.5" y2="617.65" stroke="#1a1a1a" stroke-width="1.3"/>
<line x1="38.85" y1="617" x2="169.85" y2="617" stroke="#1a1a1a" stroke-width="1.3"/>
<line x1="38.85" y1="530.5" x2="169.85" y2="530.5" stroke="#1a1a1a" stroke-width="1.3"/>
<line x1="169.2" y1="530.5" x2="169.2" y2="617" stroke="#1a1a1a" stroke-width="1.3"/>
<line x1="104.2" y1="530.5" x2="104.2" y2="617" stroke="#1a1a1a" stroke-width="1"/>
<line x1="37.1" y1="617" x2="39.5" y2="617" stroke="#1a1a1a" stroke-width="1.2"/>
<text x="36.5" y="619.85" font-size="8" font-weight="bold" text-anchor="end" fill="#000">0</text>
<line x1="37.1" y1="595.38" x2="39.5" y2="595.38" stroke="#1a1a1a" stroke-width="1.2"/>
<text x="36.5" y="598.23" font-size="8" font-weight="bold" text-anchor="end" fill="#000">2</text>
<line x1="37.1" y1="573.75" x2="39.5" y2="573.75" stroke="#1a1a1a" stroke-width="1.2"/>
<text x="36.5" y="576.6" font-size="8" font-weight="bold" text-anchor="end" fill="#000">4</text>
<line x1="37.1" y1="552.12" x2="39.5" y2="552.12" stroke="#1a1a1a" stroke-width="1.2"/>
<text x="36.5" y="554.98" font-size="8" font-weight="bold" text-anchor="end" fill="#000">6</text>
<line x1="37.1" y1="530.5" x2="39.5" y2="530.5" stroke="#1a1a1a" stroke-width="1.2"/>
<text x="36.5" y="533.35" font-size="8" font-weight="bold" text-anchor="end" fill="#000">8</text>
<line x1="55.55" y1="617" x2="55.55" y2="620" stroke="#1a1a1a" stroke-width="1.3"/>
<line x1="88.1" y1="617" x2="88.1" y2="620" stroke="#1a1a1a" stroke-width="1.3"/>
<line x1="120.25" y1="617" x2="120.25" y2="620" stroke="#1a1a1a" stroke-width="1.3"/>
<line x1="152.85" y1="617" x2="152.85" y2="620" stroke="#1a1a1a" stroke-width="1.3"/>
<text x="55.55" y="626.5" font-size="7.9" font-weight="bold" text-anchor="middle" fill="#000" textLength="25.6" lengthAdjust="spacingAndGlyphs">Control</text>
<text x="88.1" y="626.5" font-size="7.9" font-weight="bold" text-anchor="middle" fill="#000" textLength="20.4" lengthAdjust="spacingAndGlyphs">LCMV</text>
<text x="120.25" y="626.5" font-size="7.9" font-weight="bold" text-anchor="middle" fill="#000" textLength="25.6" lengthAdjust="spacingAndGlyphs">Control</text>
<text x="152.85" y="626.5" font-size="7.9" font-weight="bold" text-anchor="middle" fill="#000" textLength="20.4" lengthAdjust="spacingAndGlyphs">LCMV</text>
<text x="72.5" y="635.4" font-size="7.8" font-weight="bold" text-anchor="middle" fill="#000">WT</text>
<text x="138.2" y="635.4" font-size="7.8" font-weight="bold" text-anchor="middle" fill="#000">IFN&#947;<tspan font-size="4.46" dy="-2.74">-/-</tspan></text>
<text transform="translate(27.6,618.3) rotate(-90)" font-size="7.5" font-weight="bold" text-anchor="start" fill="#000" textLength="92.5" lengthAdjust="spacingAndGlyphs" style="stroke-width:0.1px">Number of monocytes (x10<tspan font-size="4.6" dy="-2.8">6</tspan><tspan dy="2.8">)</tspan></text>
<polygon points="82.8,542.77 83.62,544.43 85.46,544.7 84.13,546 84.45,547.83 82.8,546.97 81.15,547.83 81.47,546 80.14,544.7 81.98,544.43" fill="#000" stroke="#000" stroke-width="0.3" stroke-linejoin="round"/>
<polygon points="88.4,542.77 89.22,544.43 91.06,544.7 89.73,546 90.05,547.83 88.4,546.97 86.75,547.83 87.07,546 85.74,544.7 87.58,544.43" fill="#000" stroke="#000" stroke-width="0.3" stroke-linejoin="round"/>
<polygon points="94,542.77 94.82,544.43 96.66,544.7 95.33,546 95.65,547.83 94,546.97 92.35,547.83 92.67,546 91.34,544.7 93.18,544.43" fill="#000" stroke="#000" stroke-width="0.3" stroke-linejoin="round"/>
<text x="195.7" y="521.9" font-size="14" font-weight="bold" text-anchor="start" fill="#000">H</text>
<rect x="221.9" y="581.76" width="22.9" height="35.34" fill="#000"/>
<line x1="233.35" y1="581.76" x2="233.35" y2="581.26" stroke="#000" stroke-width="1.1"/>
<line x1="227.4" y1="581.26" x2="239.3" y2="581.26" stroke="#000" stroke-width="1.3"/>
<rect x="254.8" y="577.56" width="22.1" height="39.54" fill="#000"/>
<line x1="265.85" y1="577.56" x2="265.85" y2="573.36" stroke="#000" stroke-width="1.1"/>
<line x1="260.1" y1="573.36" x2="271.6" y2="573.36" stroke="#000" stroke-width="1.3"/>
<rect x="286.9" y="582.01" width="22.3" height="35.09" fill="#000"/>
<line x1="298.05" y1="582.01" x2="298.05" y2="579.04" stroke="#000" stroke-width="1.1"/>
<line x1="292.25" y1="579.04" x2="303.85" y2="579.04" stroke="#000" stroke-width="1.3"/>
<rect x="319.6" y="551.85" width="22.3" height="65.25" fill="#000"/>
<line x1="330.75" y1="551.85" x2="330.75" y2="547.65" stroke="#000" stroke-width="1.1"/>
<line x1="324.95" y1="547.65" x2="336.55" y2="547.65" stroke="#000" stroke-width="1.3"/>
<line x1="217" y1="529.95" x2="217" y2="617.75" stroke="#1a1a1a" stroke-width="1.3"/>
<line x1="216.35" y1="617.1" x2="347.65" y2="617.1" stroke="#1a1a1a" stroke-width="1.3"/>
<line x1="216.35" y1="530.6" x2="347.65" y2="530.6" stroke="#1a1a1a" stroke-width="1.3"/>
<line x1="347" y1="530.6" x2="347" y2="617.1" stroke="#1a1a1a" stroke-width="1.3"/>
<line x1="282.3" y1="530.6" x2="282.3" y2="617.1" stroke="#1a1a1a" stroke-width="1"/>
<line x1="214.6" y1="617.1" x2="217" y2="617.1" stroke="#1a1a1a" stroke-width="1.2"/>
<text x="214" y="619.95" font-size="8" font-weight="bold" text-anchor="end" fill="#000">0</text>
<line x1="214.6" y1="592.39" x2="217" y2="592.39" stroke="#1a1a1a" stroke-width="1.2"/>
<text x="214" y="595.24" font-size="8" font-weight="bold" text-anchor="end" fill="#000">10</text>
<line x1="214.6" y1="567.67" x2="217" y2="567.67" stroke="#1a1a1a" stroke-width="1.2"/>
<text x="214" y="570.52" font-size="8" font-weight="bold" text-anchor="end" fill="#000">20</text>
<line x1="214.6" y1="542.96" x2="217" y2="542.96" stroke="#1a1a1a" stroke-width="1.2"/>
<text x="214" y="545.81" font-size="8" font-weight="bold" text-anchor="end" fill="#000">30</text>
<line x1="233.35" y1="617.1" x2="233.35" y2="620.1" stroke="#1a1a1a" stroke-width="1.3"/>
<line x1="265.85" y1="617.1" x2="265.85" y2="620.1" stroke="#1a1a1a" stroke-width="1.3"/>
<line x1="298.05" y1="617.1" x2="298.05" y2="620.1" stroke="#1a1a1a" stroke-width="1.3"/>
<line x1="330.75" y1="617.1" x2="330.75" y2="620.1" stroke="#1a1a1a" stroke-width="1.3"/>
<text x="233.35" y="626.9" font-size="7.9" font-weight="bold" text-anchor="middle" fill="#000" textLength="25.6" lengthAdjust="spacingAndGlyphs">Control</text>
<text x="265.85" y="626.9" font-size="7.9" font-weight="bold" text-anchor="middle" fill="#000" textLength="20.4" lengthAdjust="spacingAndGlyphs">LCMV</text>
<text x="298.05" y="626.9" font-size="7.9" font-weight="bold" text-anchor="middle" fill="#000" textLength="25.6" lengthAdjust="spacingAndGlyphs">Control</text>
<text x="330.75" y="626.9" font-size="7.9" font-weight="bold" text-anchor="middle" fill="#000" textLength="20.4" lengthAdjust="spacingAndGlyphs">LCMV</text>
<text x="250.4" y="635.8" font-size="7.8" font-weight="bold" text-anchor="middle" fill="#000">WT</text>
<text x="316" y="635.8" font-size="7.8" font-weight="bold" text-anchor="middle" fill="#000">IFN&#947;<tspan font-size="4.46" dy="-2.74">-/-</tspan></text>
<text transform="translate(202,618.5) rotate(-90)" font-size="7.5" font-weight="bold" text-anchor="start" fill="#000" textLength="94" lengthAdjust="spacingAndGlyphs" style="stroke-width:0.1px">Number of neutrophils (x10<tspan font-size="4.6" dy="-2.8">6</tspan><tspan dy="2.8">)</tspan></text>
<polygon points="326.4,539.17 327.22,540.83 329.06,541.1 327.73,542.4 328.05,544.23 326.4,543.37 324.75,544.23 325.07,542.4 323.74,541.1 325.58,540.83" fill="#000" stroke="#000" stroke-width="0.3" stroke-linejoin="round"/>
<polygon points="332,539.17 332.82,540.83 334.66,541.1 333.33,542.4 333.65,544.23 332,543.37 330.35,544.23 330.67,542.4 329.34,541.1 331.18,540.83" fill="#000" stroke="#000" stroke-width="0.3" stroke-linejoin="round"/>
<polygon points="337.6,539.17 338.42,540.83 340.26,541.1 338.93,542.4 339.25,544.23 337.6,543.37 335.95,544.23 336.27,542.4 334.94,541.1 336.78,540.83" fill="#000" stroke="#000" stroke-width="0.3" stroke-linejoin="round"/>
<text x="373.7" y="521.9" font-size="14" font-weight="bold" text-anchor="start" fill="#000">I</text>
<rect x="390.3" y="582.55" width="22.2" height="33.85" fill="#000"/>
<line x1="401.4" y1="582.55" x2="401.4" y2="579.94" stroke="#000" stroke-width="1.1"/>
<line x1="395.63" y1="579.94" x2="407.17" y2="579.94" stroke="#000" stroke-width="1.3"/>
<rect x="422.8" y="553.9" width="22.2" height="62.5" fill="#000"/>
<line x1="433.9" y1="553.9" x2="433.9" y2="553.56" stroke="#000" stroke-width="1.1"/>
<line x1="428.13" y1="553.56" x2="439.67" y2="553.56" stroke="#000" stroke-width="1.3"/>
<rect x="455.2" y="582.03" width="22.5" height="34.37" fill="#000"/>
<line x1="466.45" y1="582.03" x2="466.45" y2="581.68" stroke="#000" stroke-width="1.1"/>
<line x1="460.6" y1="581.68" x2="472.3" y2="581.68" stroke="#000" stroke-width="1.3"/>
<rect x="488.3" y="594.53" width="22.1" height="21.87" fill="#000"/>
<line x1="499.35" y1="594.53" x2="499.35" y2="593.31" stroke="#000" stroke-width="1.1"/>
<line x1="493.6" y1="593.31" x2="505.1" y2="593.31" stroke="#000" stroke-width="1.3"/>
<line x1="385.1" y1="528.95" x2="385.1" y2="617.05" stroke="#1a1a1a" stroke-width="1.3"/>
<line x1="384.45" y1="616.4" x2="516.25" y2="616.4" stroke="#1a1a1a" stroke-width="1.3"/>
<line x1="384.45" y1="529.6" x2="516.25" y2="529.6" stroke="#1a1a1a" stroke-width="1.3"/>
<line x1="515.6" y1="529.6" x2="515.6" y2="616.4" stroke="#1a1a1a" stroke-width="1.3"/>
<line x1="450.4" y1="529.6" x2="450.4" y2="616.4" stroke="#1a1a1a" stroke-width="1"/>
<line x1="382.7" y1="616.4" x2="385.1" y2="616.4" stroke="#1a1a1a" stroke-width="1.2"/>
<text x="382.1" y="619.25" font-size="7.3" font-weight="bold" text-anchor="end" fill="#000">0.0</text>
<line x1="382.7" y1="599.04" x2="385.1" y2="599.04" stroke="#1a1a1a" stroke-width="1.2"/>
<text x="382.1" y="601.89" font-size="7.3" font-weight="bold" text-anchor="end" fill="#000">0.1</text>
<line x1="382.7" y1="581.68" x2="385.1" y2="581.68" stroke="#1a1a1a" stroke-width="1.2"/>
<text x="382.1" y="584.53" font-size="7.3" font-weight="bold" text-anchor="end" fill="#000">0.2</text>
<line x1="382.7" y1="564.32" x2="385.1" y2="564.32" stroke="#1a1a1a" stroke-width="1.2"/>
<text x="382.1" y="567.17" font-size="7.3" font-weight="bold" text-anchor="end" fill="#000">0.3</text>
<line x1="382.7" y1="546.96" x2="385.1" y2="546.96" stroke="#1a1a1a" stroke-width="1.2"/>
<text x="382.1" y="549.81" font-size="7.3" font-weight="bold" text-anchor="end" fill="#000">0.4</text>
<line x1="382.7" y1="529.6" x2="385.1" y2="529.6" stroke="#1a1a1a" stroke-width="1.2"/>
<text x="382.1" y="532.45" font-size="7.3" font-weight="bold" text-anchor="end" fill="#000">0.5</text>
<line x1="401.4" y1="616.4" x2="401.4" y2="619.4" stroke="#1a1a1a" stroke-width="1.3"/>
<line x1="433.9" y1="616.4" x2="433.9" y2="619.4" stroke="#1a1a1a" stroke-width="1.3"/>
<line x1="466.45" y1="616.4" x2="466.45" y2="619.4" stroke="#1a1a1a" stroke-width="1.3"/>
<line x1="499.35" y1="616.4" x2="499.35" y2="619.4" stroke="#1a1a1a" stroke-width="1.3"/>
<text x="401.4" y="625.9" font-size="7.9" font-weight="bold" text-anchor="middle" fill="#000" textLength="25.6" lengthAdjust="spacingAndGlyphs">Control</text>
<text x="433.9" y="625.9" font-size="7.9" font-weight="bold" text-anchor="middle" fill="#000" textLength="20.4" lengthAdjust="spacingAndGlyphs">LCMV</text>
<text x="466.45" y="625.9" font-size="7.9" font-weight="bold" text-anchor="middle" fill="#000" textLength="25.6" lengthAdjust="spacingAndGlyphs">Control</text>
<text x="499.35" y="625.9" font-size="7.9" font-weight="bold" text-anchor="middle" fill="#000" textLength="20.4" lengthAdjust="spacingAndGlyphs">LCMV</text>
<text x="418.8" y="635.2" font-size="7.8" font-weight="bold" text-anchor="middle" fill="#000">WT</text>
<text x="484.2" y="635.2" font-size="7.8" font-weight="bold" text-anchor="middle" fill="#000">IFN&#947;<tspan font-size="4.46" dy="-2.74">-/-</tspan></text>
<text transform="translate(367.2,589.3) rotate(-90)" font-size="7.5" font-weight="bold" text-anchor="start" fill="#000" textLength="33" lengthAdjust="spacingAndGlyphs" style="stroke-width:0.1px">Ratio M:N</text>
<polygon points="428.4,545.47 429.22,547.13 431.06,547.4 429.73,548.7 430.05,550.53 428.4,549.67 426.75,550.53 427.07,548.7 425.74,547.4 427.58,547.13" fill="#000" stroke="#000" stroke-width="0.3" stroke-linejoin="round"/>
<polygon points="434,545.47 434.82,547.13 436.66,547.4 435.33,548.7 435.65,550.53 434,549.67 432.35,550.53 432.67,548.7 431.34,547.4 433.18,547.13" fill="#000" stroke="#000" stroke-width="0.3" stroke-linejoin="round"/>
<polygon points="439.6,545.47 440.42,547.13 442.26,547.4 440.93,548.7 441.25,550.53 439.6,549.67 437.95,550.53 438.27,548.7 436.94,547.4 438.78,547.13" fill="#000" stroke="#000" stroke-width="0.3" stroke-linejoin="round"/>
<polygon points="493.8,585.87 494.62,587.53 496.46,587.8 495.13,589.1 495.45,590.93 493.8,590.07 492.15,590.93 492.47,589.1 491.14,587.8 492.98,587.53" fill="#000" stroke="#000" stroke-width="0.3" stroke-linejoin="round"/>
<polygon points="499.4,585.87 500.22,587.53 502.06,587.8 500.73,589.1 501.05,590.93 499.4,590.07 497.75,590.93 498.07,589.1 496.74,587.8 498.58,587.53" fill="#000" stroke="#000" stroke-width="0.3" stroke-linejoin="round"/>
<polygon points="505,585.87 505.82,587.53 507.66,587.8 506.33,589.1 506.65,590.93 505,590.07 503.35,590.93 503.67,589.1 502.34,587.8 504.18,587.53" fill="#000" stroke="#000" stroke-width="0.3" stroke-linejoin="round"/>
<text x="195.9" y="654.9" font-size="14" font-weight="bold" text-anchor="start" fill="#000">K</text>
<rect x="221.9" y="696.6" width="20.3" height="57.8" fill="#000"/>
<line x1="232.05" y1="696.6" x2="232.05" y2="680.4" stroke="#000" stroke-width="1.1"/>
<line x1="226.77" y1="680.4" x2="237.33" y2="680.4" stroke="#000" stroke-width="1.3"/>
<rect x="251.8" y="701.4" width="20.4" height="53" fill="#000"/>
<line x1="262" y1="701.4" x2="262" y2="696.1" stroke="#000" stroke-width="1.1"/>
<line x1="256.7" y1="696.1" x2="267.3" y2="696.1" stroke="#000" stroke-width="1.3"/>
<line x1="217" y1="663.75" x2="217" y2="755.05" stroke="#1a1a1a" stroke-width="1.3"/>
<line x1="216.35" y1="754.4" x2="277.65" y2="754.4" stroke="#1a1a1a" stroke-width="1.3"/>
<line x1="216.35" y1="664.4" x2="277.65" y2="664.4" stroke="#1a1a1a" stroke-width="1.3"/>
<line x1="277" y1="664.4" x2="277" y2="754.4" stroke="#1a1a1a" stroke-width="1.3"/>
<line x1="214.6" y1="754.4" x2="217" y2="754.4" stroke="#1a1a1a" stroke-width="1.2"/>
<text x="214" y="757.25" font-size="8" font-weight="bold" text-anchor="end" fill="#000">0</text>
<line x1="214.6" y1="734.4" x2="217" y2="734.4" stroke="#1a1a1a" stroke-width="1.2"/>
<text x="214" y="737.25" font-size="8" font-weight="bold" text-anchor="end" fill="#000">2</text>
<line x1="214.6" y1="714.4" x2="217" y2="714.4" stroke="#1a1a1a" stroke-width="1.2"/>
<text x="214" y="717.25" font-size="8" font-weight="bold" text-anchor="end" fill="#000">4</text>
<line x1="214.6" y1="694.4" x2="217" y2="694.4" stroke="#1a1a1a" stroke-width="1.2"/>
<text x="214" y="697.25" font-size="8" font-weight="bold" text-anchor="end" fill="#000">6</text>
<line x1="214.6" y1="674.4" x2="217" y2="674.4" stroke="#1a1a1a" stroke-width="1.2"/>
<text x="214" y="677.25" font-size="8" font-weight="bold" text-anchor="end" fill="#000">8</text>
<line x1="232.05" y1="754.4" x2="232.05" y2="757.4" stroke="#1a1a1a" stroke-width="1.3"/>
<line x1="262" y1="754.4" x2="262" y2="757.4" stroke="#1a1a1a" stroke-width="1.3"/>
<text x="232.05" y="763.9" font-size="7.6" font-weight="bold" text-anchor="middle" fill="#000">WT</text>
<text x="260.5" y="763.9" font-size="7.6" font-weight="bold" text-anchor="middle" fill="#000">IFN&#947;<tspan font-size="4.46" dy="-2.74">-/-</tspan></text>
<text transform="translate(204.4,746.2) rotate(-90)" font-size="7.5" font-weight="bold" text-anchor="start" fill="#000" textLength="75" lengthAdjust="spacingAndGlyphs" style="stroke-width:0.1px">% Tet<tspan font-size="4.6" dy="-2.8">+</tspan><tspan dy="2.8"> of CD8 T cells</tspan></text>
<text x="312.4" y="655" font-size="14" font-weight="bold" text-anchor="start" fill="#000">L</text>
<rect x="333.8" y="698.73" width="20.6" height="56.27" fill="#000"/>
<line x1="344.1" y1="698.73" x2="344.1" y2="679.06" stroke="#000" stroke-width="1.1"/>
<line x1="338.74" y1="679.06" x2="349.46" y2="679.06" stroke="#000" stroke-width="1.3"/>
<rect x="364" y="713.64" width="20.6" height="41.36" fill="#000"/>
<line x1="374.3" y1="713.64" x2="374.3" y2="703.47" stroke="#000" stroke-width="1.1"/>
<line x1="368.94" y1="703.47" x2="379.66" y2="703.47" stroke="#000" stroke-width="1.3"/>
<line x1="329" y1="663.95" x2="329" y2="755.65" stroke="#1a1a1a" stroke-width="1.3"/>
<line x1="328.35" y1="755" x2="390.45" y2="755" stroke="#1a1a1a" stroke-width="1.3"/>
<line x1="328.35" y1="664.6" x2="390.45" y2="664.6" stroke="#1a1a1a" stroke-width="1.3"/>
<line x1="389.8" y1="664.6" x2="389.8" y2="755" stroke="#1a1a1a" stroke-width="1.3"/>
<line x1="326.6" y1="755" x2="329" y2="755" stroke="#1a1a1a" stroke-width="1.2"/>
<text x="326" y="757.85" font-size="7.6" font-weight="bold" text-anchor="end" fill="#000">0.00</text>
<line x1="326.6" y1="732.4" x2="329" y2="732.4" stroke="#1a1a1a" stroke-width="1.2"/>
<text x="326" y="735.25" font-size="7.6" font-weight="bold" text-anchor="end" fill="#000">0.01</text>
<line x1="326.6" y1="709.8" x2="329" y2="709.8" stroke="#1a1a1a" stroke-width="1.2"/>
<text x="326" y="712.65" font-size="7.6" font-weight="bold" text-anchor="end" fill="#000">0.02</text>
<line x1="326.6" y1="687.2" x2="329" y2="687.2" stroke="#1a1a1a" stroke-width="1.2"/>
<text x="326" y="690.05" font-size="7.6" font-weight="bold" text-anchor="end" fill="#000">0.03</text>
<line x1="326.6" y1="664.6" x2="329" y2="664.6" stroke="#1a1a1a" stroke-width="1.2"/>
<text x="326" y="667.45" font-size="7.6" font-weight="bold" text-anchor="end" fill="#000">0.04</text>
<line x1="344.1" y1="755" x2="344.1" y2="758" stroke="#1a1a1a" stroke-width="1.3"/>
<line x1="374.3" y1="755" x2="374.3" y2="758" stroke="#1a1a1a" stroke-width="1.3"/>
<text x="344.1" y="764.7" font-size="7.6" font-weight="bold" text-anchor="middle" fill="#000">WT</text>
<text x="374.3" y="764.7" font-size="7.6" font-weight="bold" text-anchor="middle" fill="#000">IFN&#947;<tspan font-size="4.46" dy="-2.74">-/-</tspan></text>
<text transform="translate(296.5,736.2) rotate(-90)" font-size="7.6" font-weight="bold" text-anchor="start" fill="#000" textLength="52.8" lengthAdjust="spacingAndGlyphs" style="stroke-width:0.1px">Number of Tet<tspan font-size="4.6" dy="-2.8">+</tspan></text>
<text transform="translate(306.9,742.9) rotate(-90)" font-size="7.6" font-weight="bold" text-anchor="start" fill="#000" textLength="64" lengthAdjust="spacingAndGlyphs" style="stroke-width:0.1px">CD8 T cells (x10<tspan font-size="4.6" dy="-2.8">6</tspan><tspan dy="2.8">)</tspan></text>
</svg></body></html>
